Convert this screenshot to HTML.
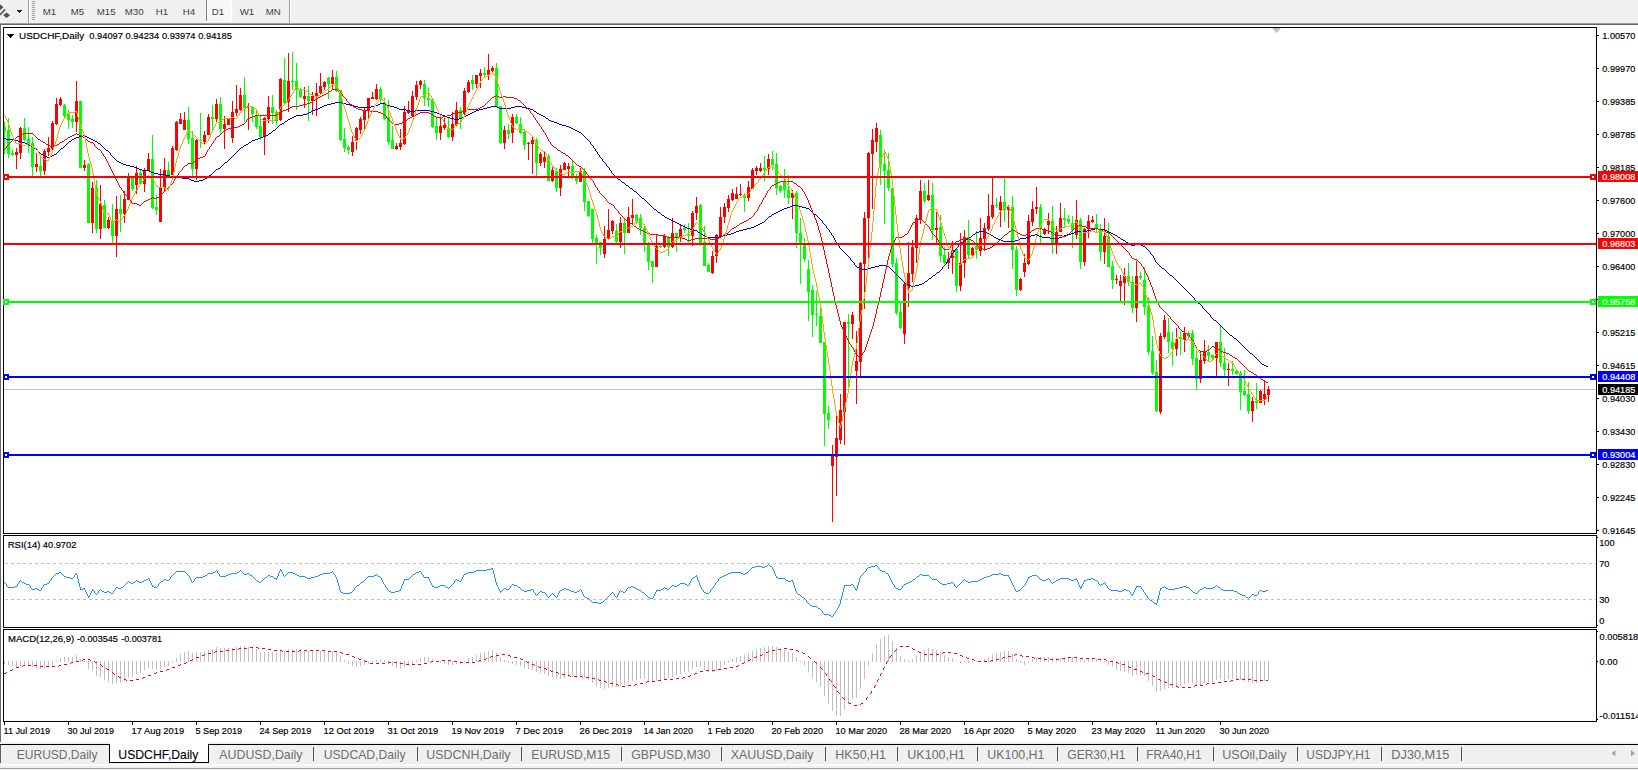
<!DOCTYPE html><html><head><meta charset="utf-8"><title>USDCHF,Daily</title>
<style>html,body{margin:0;padding:0;background:#fff;overflow:hidden}body{width:1638px;height:770px;position:relative;font-family:"Liberation Sans",sans-serif}svg{position:absolute;left:0;top:0;display:block}text{font-family:"Liberation Sans",sans-serif}</style></head><body>
<svg width="1638" height="770" viewBox="0 0 1638 770" shape-rendering="crispEdges">
<rect x="0" y="0" width="1638" height="770" fill="#fff"/>
<rect x="0" y="0" width="1638" height="23" fill="#f0f0f0"/>
<rect x="0" y="23" width="1638" height="1" fill="#a0a0a0"/>
<rect x="0" y="24" width="1638" height="1" fill="#646464"/>
<rect x="28" y="0" width="1" height="23" fill="#a0a0a0"/>
<rect x="29" y="0" width="1" height="23" fill="#ffffff"/>
<rect x="32" y="1" width="3" height="1" fill="#a0a0a0"/>
<rect x="32" y="3" width="3" height="1" fill="#a0a0a0"/>
<rect x="32" y="5" width="3" height="1" fill="#a0a0a0"/>
<rect x="32" y="7" width="3" height="1" fill="#a0a0a0"/>
<rect x="32" y="9" width="3" height="1" fill="#a0a0a0"/>
<rect x="32" y="11" width="3" height="1" fill="#a0a0a0"/>
<rect x="32" y="13" width="3" height="1" fill="#a0a0a0"/>
<rect x="32" y="15" width="3" height="1" fill="#a0a0a0"/>
<rect x="32" y="17" width="3" height="1" fill="#a0a0a0"/>
<rect x="32" y="19" width="3" height="1" fill="#a0a0a0"/>
<defs><pattern id="chk" width="2" height="2" patternUnits="userSpaceOnUse"><rect width="2" height="2" fill="#f0f0f0"/><rect width="1" height="1" fill="#fff"/><rect x="1" y="1" width="1" height="1" fill="#fff"/></pattern></defs>
<rect x="207" y="0" width="24" height="21" fill="url(#chk)"/>
<rect x="206" y="0" width="1" height="21" fill="#808080"/>
<rect x="231" y="0" width="1" height="22" fill="#ffffff"/>
<rect x="206" y="21" width="26" height="1" fill="#ffffff"/>
<rect x="289" y="0" width="1" height="23" fill="#a0a0a0"/>
<rect x="290" y="0" width="1" height="23" fill="#ffffff"/>
<g shape-rendering="geometricPrecision"><path d="M-2.5,7.3 L0.5,4.6 L3.4,7.3 L0.5,10 Z" fill="#505050"/><path d="M-0.5,14.2 L4.6,8.8 L5.7,9.9 L0.6,15.4 Z" fill="#505050"/><path d="M3.1,15.2 L6.6,12.4 L10.1,15.2 L6.6,18 Z" fill="#505050"/></g>
<rect x="17" y="10" width="5" height="1" fill="#202020"/>
<rect x="18" y="11" width="3" height="1" fill="#202020"/>
<rect x="19" y="12" width="1" height="1" fill="#202020"/>
<text transform="translate(42.7,14.5) scale(1.0000,1)" font-size="9.7" fill="#3c3c3c" stroke="#3c3c3c" stroke-width="0" text-anchor="start">M1</text>
<text transform="translate(70.7,14.5) scale(1.0000,1)" font-size="9.7" fill="#3c3c3c" stroke="#3c3c3c" stroke-width="0" text-anchor="start">M5</text>
<text transform="translate(96.7,14.5) scale(1.0000,1)" font-size="9.7" fill="#3c3c3c" stroke="#3c3c3c" stroke-width="0" text-anchor="start">M15</text>
<text transform="translate(124.7,14.5) scale(1.0000,1)" font-size="9.7" fill="#3c3c3c" stroke="#3c3c3c" stroke-width="0" text-anchor="start">M30</text>
<text transform="translate(155.7,14.5) scale(1.0000,1)" font-size="9.7" fill="#3c3c3c" stroke="#3c3c3c" stroke-width="0" text-anchor="start">H1</text>
<text transform="translate(182.7,14.5) scale(1.0000,1)" font-size="9.7" fill="#3c3c3c" stroke="#3c3c3c" stroke-width="0" text-anchor="start">H4</text>
<text transform="translate(211.7,14.5) scale(1.0000,1)" font-size="9.7" fill="#3c3c3c" stroke="#3c3c3c" stroke-width="0" text-anchor="start">D1</text>
<text transform="translate(239.7,14.5) scale(1.0000,1)" font-size="9.7" fill="#3c3c3c" stroke="#3c3c3c" stroke-width="0" text-anchor="start">W1</text>
<text transform="translate(265.7,14.5) scale(1.0000,1)" font-size="9.7" fill="#3c3c3c" stroke="#3c3c3c" stroke-width="0" text-anchor="start">MN</text>
<rect x="0" y="25" width="1" height="717" fill="#696969"/>
<rect x="3" y="27" width="1594" height="1" fill="#000"/>
<rect x="3" y="533" width="1594" height="1" fill="#000"/>
<rect x="3" y="27" width="1" height="507" fill="#000"/>
<rect x="1596" y="27" width="1" height="507" fill="#000"/>
<rect x="3" y="535" width="1594" height="1" fill="#000"/>
<rect x="3" y="627" width="1594" height="1" fill="#000"/>
<rect x="3" y="535" width="1" height="93" fill="#000"/>
<rect x="1596" y="535" width="1" height="93" fill="#000"/>
<rect x="3" y="629" width="1594" height="1" fill="#000"/>
<rect x="3" y="721" width="1594" height="1" fill="#000"/>
<rect x="3" y="629" width="1" height="93" fill="#000"/>
<rect x="1596" y="629" width="1" height="93" fill="#000"/>
<rect x="1597" y="35" width="2" height="1" fill="#000"/>
<text transform="translate(1602.3,38.7) scale(0.9364,1)" font-size="9.75" fill="#000" stroke="#000" stroke-width="0.18" text-anchor="start">1.00570</text>
<rect x="1597" y="68" width="2" height="1" fill="#000"/>
<text transform="translate(1602.3,71.7) scale(0.9364,1)" font-size="9.75" fill="#000" stroke="#000" stroke-width="0.18" text-anchor="start">0.99970</text>
<rect x="1597" y="101" width="2" height="1" fill="#000"/>
<text transform="translate(1602.3,104.7) scale(0.9364,1)" font-size="9.75" fill="#000" stroke="#000" stroke-width="0.18" text-anchor="start">0.99385</text>
<rect x="1597" y="134" width="2" height="1" fill="#000"/>
<text transform="translate(1602.3,137.7) scale(0.9364,1)" font-size="9.75" fill="#000" stroke="#000" stroke-width="0.18" text-anchor="start">0.98785</text>
<rect x="1597" y="167" width="2" height="1" fill="#000"/>
<text transform="translate(1602.3,170.7) scale(0.9364,1)" font-size="9.75" fill="#000" stroke="#000" stroke-width="0.18" text-anchor="start">0.98185</text>
<rect x="1597" y="200" width="2" height="1" fill="#000"/>
<text transform="translate(1602.3,203.7) scale(0.9364,1)" font-size="9.75" fill="#000" stroke="#000" stroke-width="0.18" text-anchor="start">0.97600</text>
<rect x="1597" y="233" width="2" height="1" fill="#000"/>
<text transform="translate(1602.3,236.7) scale(0.9364,1)" font-size="9.75" fill="#000" stroke="#000" stroke-width="0.18" text-anchor="start">0.97000</text>
<rect x="1597" y="266" width="2" height="1" fill="#000"/>
<text transform="translate(1602.3,269.7) scale(0.9364,1)" font-size="9.75" fill="#000" stroke="#000" stroke-width="0.18" text-anchor="start">0.96400</text>
<rect x="1597" y="299" width="2" height="1" fill="#000"/>
<text transform="translate(1602.3,302.7) scale(0.9364,1)" font-size="9.75" fill="#000" stroke="#000" stroke-width="0.18" text-anchor="start">0.95815</text>
<rect x="1597" y="332" width="2" height="1" fill="#000"/>
<text transform="translate(1602.3,335.7) scale(0.9364,1)" font-size="9.75" fill="#000" stroke="#000" stroke-width="0.18" text-anchor="start">0.95215</text>
<rect x="1597" y="365" width="2" height="1" fill="#000"/>
<text transform="translate(1602.3,368.7) scale(0.9364,1)" font-size="9.75" fill="#000" stroke="#000" stroke-width="0.18" text-anchor="start">0.94615</text>
<rect x="1597" y="398" width="2" height="1" fill="#000"/>
<text transform="translate(1602.3,401.7) scale(0.9364,1)" font-size="9.75" fill="#000" stroke="#000" stroke-width="0.18" text-anchor="start">0.94030</text>
<rect x="1597" y="431" width="2" height="1" fill="#000"/>
<text transform="translate(1602.3,434.7) scale(0.9364,1)" font-size="9.75" fill="#000" stroke="#000" stroke-width="0.18" text-anchor="start">0.93430</text>
<rect x="1597" y="464" width="2" height="1" fill="#000"/>
<text transform="translate(1602.3,467.7) scale(0.9364,1)" font-size="9.75" fill="#000" stroke="#000" stroke-width="0.18" text-anchor="start">0.92830</text>
<rect x="1597" y="497" width="2" height="1" fill="#000"/>
<text transform="translate(1602.3,500.7) scale(0.9364,1)" font-size="9.75" fill="#000" stroke="#000" stroke-width="0.18" text-anchor="start">0.92245</text>
<rect x="1597" y="530" width="2" height="1" fill="#000"/>
<text transform="translate(1602.3,533.7) scale(0.9364,1)" font-size="9.75" fill="#000" stroke="#000" stroke-width="0.18" text-anchor="start">0.91645</text>
<text transform="translate(1599.2,545.6) scale(0.9500,1)" font-size="9.75" fill="#000" stroke="#000" stroke-width="0.18" text-anchor="start">100</text>
<text transform="translate(1599.2,566.6) scale(0.9500,1)" font-size="9.75" fill="#000" stroke="#000" stroke-width="0.18" text-anchor="start">70</text>
<text transform="translate(1599.2,602.6) scale(0.9500,1)" font-size="9.75" fill="#000" stroke="#000" stroke-width="0.18" text-anchor="start">30</text>
<text transform="translate(1599.2,623.6) scale(0.9500,1)" font-size="9.75" fill="#000" stroke="#000" stroke-width="0.18" text-anchor="start">0</text>
<rect x="1597" y="537" width="1" height="1" fill="#000"/>
<rect x="1597" y="625" width="1" height="1" fill="#000"/>
<text transform="translate(1599.6,639.6) scale(0.9500,1)" font-size="9.75" fill="#000" stroke="#000" stroke-width="0.18" text-anchor="start">0.005818</text>
<text transform="translate(1599.6,664.6) scale(0.9500,1)" font-size="9.75" fill="#000" stroke="#000" stroke-width="0.18" text-anchor="start">0.00</text>
<text transform="translate(1599.6,718.6) scale(0.9500,1)" font-size="9.75" fill="#000" stroke="#000" stroke-width="0.18" text-anchor="start">-0.011514</text>
<rect x="1597" y="661" width="1" height="1" fill="#000"/>
<rect x="1597" y="631" width="1" height="1" fill="#000"/>
<rect x="1597" y="719" width="1" height="1" fill="#000"/>
<rect x="4" y="722" width="1" height="3" fill="#000"/>
<text transform="translate(3.5,734) scale(0.9398,1)" font-size="9.75" fill="#000" stroke="#000" stroke-width="0.18" text-anchor="start">11 Jul 2019</text>
<rect x="68" y="722" width="1" height="3" fill="#000"/>
<text transform="translate(67.5,734) scale(0.9264,1)" font-size="9.75" fill="#000" stroke="#000" stroke-width="0.18" text-anchor="start">30 Jul 2019</text>
<rect x="132" y="722" width="1" height="3" fill="#000"/>
<text transform="translate(131.5,734) scale(0.9624,1)" font-size="9.75" fill="#000" stroke="#000" stroke-width="0.18" text-anchor="start">17 Aug 2019</text>
<rect x="196" y="722" width="1" height="3" fill="#000"/>
<text transform="translate(195.5,734) scale(0.9363,1)" font-size="9.75" fill="#000" stroke="#000" stroke-width="0.18" text-anchor="start">5 Sep 2019</text>
<rect x="260" y="722" width="1" height="3" fill="#000"/>
<text transform="translate(259.5,734) scale(0.9350,1)" font-size="9.75" fill="#000" stroke="#000" stroke-width="0.18" text-anchor="start">24 Sep 2019</text>
<rect x="324" y="722" width="1" height="3" fill="#000"/>
<text transform="translate(323.5,734) scale(0.9545,1)" font-size="9.75" fill="#000" stroke="#000" stroke-width="0.18" text-anchor="start">12 Oct 2019</text>
<rect x="388" y="722" width="1" height="3" fill="#000"/>
<text transform="translate(387.5,734) scale(0.9545,1)" font-size="9.75" fill="#000" stroke="#000" stroke-width="0.18" text-anchor="start">31 Oct 2019</text>
<rect x="452" y="722" width="1" height="3" fill="#000"/>
<text transform="translate(451.5,734) scale(0.9532,1)" font-size="9.75" fill="#000" stroke="#000" stroke-width="0.18" text-anchor="start">19 Nov 2019</text>
<rect x="516" y="722" width="1" height="3" fill="#000"/>
<text transform="translate(515.5,734) scale(0.9566,1)" font-size="9.75" fill="#000" stroke="#000" stroke-width="0.18" text-anchor="start">7 Dec 2019</text>
<rect x="580" y="722" width="1" height="3" fill="#000"/>
<text transform="translate(579.5,734) scale(0.9532,1)" font-size="9.75" fill="#000" stroke="#000" stroke-width="0.18" text-anchor="start">26 Dec 2019</text>
<rect x="644" y="722" width="1" height="3" fill="#000"/>
<text transform="translate(643.5,734) scale(0.9261,1)" font-size="9.75" fill="#000" stroke="#000" stroke-width="0.18" text-anchor="start">14 Jan 2020</text>
<rect x="708" y="722" width="1" height="3" fill="#000"/>
<text transform="translate(707.5,734) scale(0.9468,1)" font-size="9.75" fill="#000" stroke="#000" stroke-width="0.18" text-anchor="start">1 Feb 2020</text>
<rect x="772" y="722" width="1" height="3" fill="#000"/>
<text transform="translate(771.5,734) scale(0.9443,1)" font-size="9.75" fill="#000" stroke="#000" stroke-width="0.18" text-anchor="start">20 Feb 2020</text>
<rect x="836" y="722" width="1" height="3" fill="#000"/>
<text transform="translate(835.5,734) scale(0.9445,1)" font-size="9.75" fill="#000" stroke="#000" stroke-width="0.18" text-anchor="start">10 Mar 2020</text>
<rect x="900" y="722" width="1" height="3" fill="#000"/>
<text transform="translate(899.5,734) scale(0.9445,1)" font-size="9.75" fill="#000" stroke="#000" stroke-width="0.18" text-anchor="start">28 Mar 2020</text>
<rect x="964" y="722" width="1" height="3" fill="#000"/>
<text transform="translate(963.5,734) scale(0.9642,1)" font-size="9.75" fill="#000" stroke="#000" stroke-width="0.18" text-anchor="start">16 Apr 2020</text>
<rect x="1028" y="722" width="1" height="3" fill="#000"/>
<text transform="translate(1027.5,734) scale(0.9559,1)" font-size="9.75" fill="#000" stroke="#000" stroke-width="0.18" text-anchor="start">5 May 2020</text>
<rect x="1092" y="722" width="1" height="3" fill="#000"/>
<text transform="translate(1091.5,734) scale(0.9527,1)" font-size="9.75" fill="#000" stroke="#000" stroke-width="0.18" text-anchor="start">23 May 2020</text>
<rect x="1156" y="722" width="1" height="3" fill="#000"/>
<text transform="translate(1155.5,734) scale(0.9387,1)" font-size="9.75" fill="#000" stroke="#000" stroke-width="0.18" text-anchor="start">11 Jun 2020</text>
<rect x="1220" y="722" width="1" height="3" fill="#000"/>
<text transform="translate(1219.5,734) scale(0.9261,1)" font-size="9.75" fill="#000" stroke="#000" stroke-width="0.18" text-anchor="start">30 Jun 2020</text>
<defs><clipPath id="cm"><rect x="4" y="28" width="1592" height="505"/></clipPath><clipPath id="cr"><rect x="4" y="536" width="1592" height="91"/></clipPath><clipPath id="cd"><rect x="4" y="630" width="1592" height="91"/></clipPath></defs>
<rect x="7" y="34" width="7" height="1" fill="#000"/>
<rect x="8" y="35" width="5" height="1" fill="#000"/>
<rect x="9" y="36" width="3" height="1" fill="#000"/>
<rect x="10" y="37" width="1" height="1" fill="#000"/>
<text transform="translate(19.0,39) scale(1.0216,1)" font-size="9.75" fill="#000" stroke="#000" stroke-width="0.18" text-anchor="start">USDCHF,Daily</text>
<text transform="translate(89.3,39) scale(0.9563,1)" font-size="9.75" fill="#000" stroke="#000" stroke-width="0.18" text-anchor="start">0.94097</text>
<text transform="translate(125.6,39) scale(0.9563,1)" font-size="9.75" fill="#000" stroke="#000" stroke-width="0.18" text-anchor="start">0.94234</text>
<text transform="translate(161.89999999999998,39) scale(0.9563,1)" font-size="9.75" fill="#000" stroke="#000" stroke-width="0.18" text-anchor="start">0.93974</text>
<text transform="translate(198.2,39) scale(0.9563,1)" font-size="9.75" fill="#000" stroke="#000" stroke-width="0.18" text-anchor="start">0.94185</text>
<text transform="translate(7.8,548) scale(0.9705,1)" font-size="9.75" fill="#000" stroke="#000" stroke-width="0.18" text-anchor="start">RSI(14)</text>
<text transform="translate(42.8,548) scale(0.9535,1)" font-size="9.75" fill="#000" stroke="#000" stroke-width="0.18" text-anchor="start">40.9702</text>
<text transform="translate(8.0,642) scale(0.9775,1)" font-size="9.75" fill="#000" stroke="#000" stroke-width="0.18" text-anchor="start">MACD(12,26,9)</text>
<text transform="translate(77.0,642) scale(0.9292,1)" font-size="9.75" fill="#000" stroke="#000" stroke-width="0.18" text-anchor="start">-0.003545</text>
<text transform="translate(121.2,642) scale(0.9292,1)" font-size="9.75" fill="#000" stroke="#000" stroke-width="0.18" text-anchor="start">-0.003781</text>
<path d="M1272,28 L1281,28 L1276.5,33 Z" fill="#c0c0c0" shape-rendering="geometricPrecision"/>
<g clip-path="url(#cm)">
<rect x="4" y="389" width="1592" height="1" fill="#c0c0c0"/>
<rect x="4" y="122" width="1" height="32" fill="#00ff00"/>
<rect x="3" y="127" width="3" height="4" fill="#00ff00"/>
<rect x="8" y="118" width="1" height="40" fill="#00ff00"/>
<rect x="7" y="130" width="3" height="24" fill="#00ff00"/>
<rect x="12" y="150" width="1" height="6" fill="#00ff00"/>
<rect x="11" y="153" width="3" height="2" fill="#00ff00"/>
<rect x="16" y="148" width="1" height="21" fill="#ff0000"/>
<rect x="15" y="152" width="3" height="3" fill="#ff0000"/>
<rect x="20" y="127" width="1" height="32" fill="#ff0000"/>
<rect x="19" y="128" width="3" height="25" fill="#ff0000"/>
<rect x="24" y="118" width="1" height="23" fill="#00ff00"/>
<rect x="23" y="128" width="3" height="12" fill="#00ff00"/>
<rect x="28" y="127" width="1" height="26" fill="#00ff00"/>
<rect x="27" y="139" width="3" height="5" fill="#00ff00"/>
<rect x="32" y="137" width="1" height="39" fill="#00ff00"/>
<rect x="31" y="143" width="3" height="24" fill="#00ff00"/>
<rect x="36" y="153" width="1" height="19" fill="#ff0000"/>
<rect x="35" y="164" width="3" height="3" fill="#ff0000"/>
<rect x="40" y="157" width="1" height="19" fill="#00ff00"/>
<rect x="39" y="166" width="3" height="5" fill="#00ff00"/>
<rect x="44" y="149" width="1" height="26" fill="#ff0000"/>
<rect x="43" y="151" width="3" height="20" fill="#ff0000"/>
<rect x="48" y="137" width="1" height="19" fill="#ff0000"/>
<rect x="47" y="148" width="3" height="4" fill="#ff0000"/>
<rect x="52" y="121" width="1" height="29" fill="#ff0000"/>
<rect x="51" y="123" width="3" height="26" fill="#ff0000"/>
<rect x="56" y="98" width="1" height="27" fill="#ff0000"/>
<rect x="55" y="104" width="3" height="20" fill="#ff0000"/>
<rect x="60" y="97" width="1" height="9" fill="#ff0000"/>
<rect x="59" y="99" width="3" height="6" fill="#ff0000"/>
<rect x="64" y="104" width="1" height="14" fill="#00ff00"/>
<rect x="63" y="105" width="3" height="11" fill="#00ff00"/>
<rect x="68" y="110" width="1" height="19" fill="#00ff00"/>
<rect x="67" y="114" width="3" height="6" fill="#00ff00"/>
<rect x="72" y="115" width="1" height="13" fill="#00ff00"/>
<rect x="71" y="119" width="3" height="3" fill="#00ff00"/>
<rect x="76" y="81" width="1" height="51" fill="#ff0000"/>
<rect x="75" y="101" width="3" height="21" fill="#ff0000"/>
<rect x="80" y="101" width="1" height="67" fill="#00ff00"/>
<rect x="79" y="101" width="3" height="67" fill="#00ff00"/>
<rect x="84" y="160" width="1" height="11" fill="#ff0000"/>
<rect x="83" y="165" width="3" height="3" fill="#ff0000"/>
<rect x="88" y="163" width="1" height="60" fill="#00ff00"/>
<rect x="87" y="164" width="3" height="59" fill="#00ff00"/>
<rect x="92" y="182" width="1" height="51" fill="#ff0000"/>
<rect x="91" y="188" width="3" height="35" fill="#ff0000"/>
<rect x="96" y="180" width="1" height="53" fill="#00ff00"/>
<rect x="95" y="188" width="3" height="41" fill="#00ff00"/>
<rect x="100" y="185" width="1" height="54" fill="#ff0000"/>
<rect x="99" y="204" width="3" height="25" fill="#ff0000"/>
<rect x="104" y="200" width="1" height="28" fill="#00ff00"/>
<rect x="103" y="205" width="3" height="23" fill="#00ff00"/>
<rect x="108" y="217" width="1" height="12" fill="#ff0000"/>
<rect x="107" y="220" width="3" height="8" fill="#ff0000"/>
<rect x="112" y="204" width="1" height="39" fill="#00ff00"/>
<rect x="111" y="221" width="3" height="15" fill="#00ff00"/>
<rect x="116" y="196" width="1" height="61" fill="#ff0000"/>
<rect x="115" y="209" width="3" height="27" fill="#ff0000"/>
<rect x="120" y="195" width="1" height="37" fill="#00ff00"/>
<rect x="119" y="209" width="3" height="5" fill="#00ff00"/>
<rect x="124" y="191" width="1" height="32" fill="#ff0000"/>
<rect x="123" y="199" width="3" height="15" fill="#ff0000"/>
<rect x="128" y="173" width="1" height="27" fill="#ff0000"/>
<rect x="127" y="177" width="3" height="23" fill="#ff0000"/>
<rect x="132" y="177" width="1" height="14" fill="#00ff00"/>
<rect x="131" y="178" width="3" height="11" fill="#00ff00"/>
<rect x="136" y="166" width="1" height="28" fill="#ff0000"/>
<rect x="135" y="173" width="3" height="12" fill="#ff0000"/>
<rect x="140" y="170" width="1" height="15" fill="#00ff00"/>
<rect x="139" y="173" width="3" height="11" fill="#00ff00"/>
<rect x="144" y="168" width="1" height="24" fill="#ff0000"/>
<rect x="143" y="170" width="3" height="14" fill="#ff0000"/>
<rect x="148" y="153" width="1" height="18" fill="#ff0000"/>
<rect x="147" y="159" width="3" height="12" fill="#ff0000"/>
<rect x="152" y="135" width="1" height="74" fill="#00ff00"/>
<rect x="151" y="159" width="3" height="49" fill="#00ff00"/>
<rect x="156" y="195" width="1" height="20" fill="#00ff00"/>
<rect x="155" y="207" width="3" height="3" fill="#00ff00"/>
<rect x="160" y="169" width="1" height="53" fill="#ff0000"/>
<rect x="159" y="188" width="3" height="34" fill="#ff0000"/>
<rect x="164" y="158" width="1" height="34" fill="#ff0000"/>
<rect x="163" y="170" width="3" height="18" fill="#ff0000"/>
<rect x="168" y="162" width="1" height="13" fill="#00ff00"/>
<rect x="167" y="170" width="3" height="5" fill="#00ff00"/>
<rect x="172" y="146" width="1" height="29" fill="#ff0000"/>
<rect x="171" y="148" width="3" height="27" fill="#ff0000"/>
<rect x="176" y="121" width="1" height="30" fill="#ff0000"/>
<rect x="175" y="122" width="3" height="28" fill="#ff0000"/>
<rect x="180" y="113" width="1" height="11" fill="#ff0000"/>
<rect x="179" y="119" width="3" height="5" fill="#ff0000"/>
<rect x="184" y="112" width="1" height="18" fill="#ff0000"/>
<rect x="183" y="120" width="3" height="10" fill="#ff0000"/>
<rect x="188" y="107" width="1" height="37" fill="#00ff00"/>
<rect x="187" y="120" width="3" height="19" fill="#00ff00"/>
<rect x="192" y="131" width="1" height="45" fill="#00ff00"/>
<rect x="191" y="138" width="3" height="31" fill="#00ff00"/>
<rect x="196" y="139" width="1" height="41" fill="#ff0000"/>
<rect x="195" y="140" width="3" height="29" fill="#ff0000"/>
<rect x="200" y="113" width="1" height="35" fill="#00ff00"/>
<rect x="199" y="140" width="3" height="1" fill="#00ff00"/>
<rect x="204" y="131" width="1" height="14" fill="#ff0000"/>
<rect x="203" y="135" width="3" height="7" fill="#ff0000"/>
<rect x="208" y="114" width="1" height="21" fill="#ff0000"/>
<rect x="207" y="117" width="3" height="18" fill="#ff0000"/>
<rect x="212" y="105" width="1" height="25" fill="#00ff00"/>
<rect x="211" y="117" width="3" height="2" fill="#00ff00"/>
<rect x="216" y="99" width="1" height="23" fill="#ff0000"/>
<rect x="215" y="104" width="3" height="15" fill="#ff0000"/>
<rect x="220" y="97" width="1" height="37" fill="#00ff00"/>
<rect x="219" y="104" width="3" height="25" fill="#00ff00"/>
<rect x="224" y="116" width="1" height="33" fill="#ff0000"/>
<rect x="223" y="124" width="3" height="5" fill="#ff0000"/>
<rect x="228" y="118" width="1" height="7" fill="#ff0000"/>
<rect x="227" y="118" width="3" height="7" fill="#ff0000"/>
<rect x="232" y="101" width="1" height="42" fill="#ff0000"/>
<rect x="231" y="112" width="3" height="26" fill="#ff0000"/>
<rect x="236" y="85" width="1" height="31" fill="#ff0000"/>
<rect x="235" y="109" width="3" height="4" fill="#ff0000"/>
<rect x="240" y="88" width="1" height="23" fill="#ff0000"/>
<rect x="239" y="95" width="3" height="15" fill="#ff0000"/>
<rect x="244" y="77" width="1" height="45" fill="#00ff00"/>
<rect x="243" y="95" width="3" height="13" fill="#00ff00"/>
<rect x="248" y="103" width="1" height="27" fill="#ff0000"/>
<rect x="247" y="106" width="3" height="1" fill="#ff0000"/>
<rect x="252" y="106" width="1" height="16" fill="#00ff00"/>
<rect x="251" y="107" width="3" height="7" fill="#00ff00"/>
<rect x="256" y="109" width="1" height="20" fill="#00ff00"/>
<rect x="255" y="115" width="3" height="12" fill="#00ff00"/>
<rect x="260" y="115" width="1" height="25" fill="#00ff00"/>
<rect x="259" y="126" width="3" height="11" fill="#00ff00"/>
<rect x="264" y="117" width="1" height="38" fill="#ff0000"/>
<rect x="263" y="118" width="3" height="19" fill="#ff0000"/>
<rect x="268" y="96" width="1" height="27" fill="#ff0000"/>
<rect x="267" y="107" width="3" height="12" fill="#ff0000"/>
<rect x="272" y="95" width="1" height="29" fill="#00ff00"/>
<rect x="271" y="107" width="3" height="6" fill="#00ff00"/>
<rect x="276" y="110" width="1" height="15" fill="#00ff00"/>
<rect x="275" y="112" width="3" height="9" fill="#00ff00"/>
<rect x="280" y="78" width="1" height="43" fill="#ff0000"/>
<rect x="279" y="79" width="3" height="41" fill="#ff0000"/>
<rect x="284" y="58" width="1" height="46" fill="#00ff00"/>
<rect x="283" y="80" width="3" height="23" fill="#00ff00"/>
<rect x="288" y="53" width="1" height="59" fill="#ff0000"/>
<rect x="287" y="81" width="3" height="21" fill="#ff0000"/>
<rect x="292" y="52" width="1" height="38" fill="#00ff00"/>
<rect x="291" y="81" width="3" height="1" fill="#00ff00"/>
<rect x="296" y="63" width="1" height="47" fill="#00ff00"/>
<rect x="295" y="81" width="3" height="9" fill="#00ff00"/>
<rect x="300" y="88" width="1" height="10" fill="#00ff00"/>
<rect x="299" y="89" width="3" height="8" fill="#00ff00"/>
<rect x="304" y="87" width="1" height="21" fill="#ff0000"/>
<rect x="303" y="96" width="3" height="3" fill="#ff0000"/>
<rect x="308" y="86" width="1" height="35" fill="#00ff00"/>
<rect x="307" y="96" width="3" height="5" fill="#00ff00"/>
<rect x="312" y="92" width="1" height="23" fill="#ff0000"/>
<rect x="311" y="96" width="3" height="5" fill="#ff0000"/>
<rect x="316" y="83" width="1" height="33" fill="#ff0000"/>
<rect x="315" y="93" width="3" height="3" fill="#ff0000"/>
<rect x="320" y="73" width="1" height="21" fill="#ff0000"/>
<rect x="319" y="86" width="3" height="7" fill="#ff0000"/>
<rect x="324" y="81" width="1" height="9" fill="#ff0000"/>
<rect x="323" y="82" width="3" height="5" fill="#ff0000"/>
<rect x="328" y="77" width="1" height="22" fill="#00ff00"/>
<rect x="327" y="78" width="3" height="6" fill="#00ff00"/>
<rect x="332" y="70" width="1" height="20" fill="#ff0000"/>
<rect x="331" y="77" width="3" height="7" fill="#ff0000"/>
<rect x="336" y="71" width="1" height="21" fill="#00ff00"/>
<rect x="335" y="77" width="3" height="14" fill="#00ff00"/>
<rect x="340" y="90" width="1" height="51" fill="#00ff00"/>
<rect x="339" y="90" width="3" height="50" fill="#00ff00"/>
<rect x="344" y="128" width="1" height="24" fill="#00ff00"/>
<rect x="343" y="139" width="3" height="9" fill="#00ff00"/>
<rect x="348" y="145" width="1" height="9" fill="#00ff00"/>
<rect x="347" y="147" width="3" height="3" fill="#00ff00"/>
<rect x="352" y="136" width="1" height="20" fill="#ff0000"/>
<rect x="351" y="142" width="3" height="10" fill="#ff0000"/>
<rect x="356" y="127" width="1" height="23" fill="#ff0000"/>
<rect x="355" y="128" width="3" height="13" fill="#ff0000"/>
<rect x="360" y="117" width="1" height="17" fill="#ff0000"/>
<rect x="359" y="119" width="3" height="11" fill="#ff0000"/>
<rect x="364" y="108" width="1" height="21" fill="#ff0000"/>
<rect x="363" y="110" width="3" height="10" fill="#ff0000"/>
<rect x="368" y="98" width="1" height="20" fill="#ff0000"/>
<rect x="367" y="98" width="3" height="12" fill="#ff0000"/>
<rect x="372" y="92" width="1" height="7" fill="#ff0000"/>
<rect x="371" y="97" width="3" height="2" fill="#ff0000"/>
<rect x="376" y="84" width="1" height="16" fill="#ff0000"/>
<rect x="375" y="89" width="3" height="10" fill="#ff0000"/>
<rect x="380" y="87" width="1" height="16" fill="#00ff00"/>
<rect x="379" y="89" width="3" height="10" fill="#00ff00"/>
<rect x="384" y="98" width="1" height="22" fill="#00ff00"/>
<rect x="383" y="102" width="3" height="17" fill="#00ff00"/>
<rect x="388" y="100" width="1" height="45" fill="#00ff00"/>
<rect x="387" y="117" width="3" height="25" fill="#00ff00"/>
<rect x="392" y="126" width="1" height="23" fill="#00ff00"/>
<rect x="391" y="140" width="3" height="9" fill="#00ff00"/>
<rect x="396" y="143" width="1" height="7" fill="#ff0000"/>
<rect x="395" y="146" width="3" height="3" fill="#ff0000"/>
<rect x="400" y="129" width="1" height="21" fill="#ff0000"/>
<rect x="399" y="143" width="3" height="4" fill="#ff0000"/>
<rect x="404" y="106" width="1" height="39" fill="#ff0000"/>
<rect x="403" y="112" width="3" height="32" fill="#ff0000"/>
<rect x="408" y="101" width="1" height="13" fill="#ff0000"/>
<rect x="407" y="110" width="3" height="3" fill="#ff0000"/>
<rect x="412" y="91" width="1" height="25" fill="#ff0000"/>
<rect x="411" y="96" width="3" height="20" fill="#ff0000"/>
<rect x="416" y="81" width="1" height="19" fill="#ff0000"/>
<rect x="415" y="85" width="3" height="12" fill="#ff0000"/>
<rect x="420" y="80" width="1" height="9" fill="#ff0000"/>
<rect x="419" y="81" width="3" height="4" fill="#ff0000"/>
<rect x="424" y="80" width="1" height="26" fill="#00ff00"/>
<rect x="423" y="84" width="3" height="14" fill="#00ff00"/>
<rect x="428" y="87" width="1" height="20" fill="#00ff00"/>
<rect x="427" y="98" width="3" height="2" fill="#00ff00"/>
<rect x="432" y="98" width="1" height="30" fill="#00ff00"/>
<rect x="431" y="99" width="3" height="28" fill="#00ff00"/>
<rect x="436" y="118" width="1" height="22" fill="#00ff00"/>
<rect x="435" y="126" width="3" height="7" fill="#00ff00"/>
<rect x="440" y="118" width="1" height="22" fill="#ff0000"/>
<rect x="439" y="126" width="3" height="7" fill="#ff0000"/>
<rect x="444" y="118" width="1" height="12" fill="#ff0000"/>
<rect x="443" y="125" width="3" height="3" fill="#ff0000"/>
<rect x="448" y="118" width="1" height="20" fill="#00ff00"/>
<rect x="447" y="128" width="3" height="9" fill="#00ff00"/>
<rect x="452" y="112" width="1" height="29" fill="#ff0000"/>
<rect x="451" y="124" width="3" height="13" fill="#ff0000"/>
<rect x="456" y="102" width="1" height="24" fill="#ff0000"/>
<rect x="455" y="110" width="3" height="15" fill="#ff0000"/>
<rect x="460" y="107" width="1" height="22" fill="#00ff00"/>
<rect x="459" y="110" width="3" height="8" fill="#00ff00"/>
<rect x="464" y="88" width="1" height="27" fill="#ff0000"/>
<rect x="463" y="91" width="3" height="23" fill="#ff0000"/>
<rect x="468" y="80" width="1" height="13" fill="#ff0000"/>
<rect x="467" y="82" width="3" height="10" fill="#ff0000"/>
<rect x="472" y="75" width="1" height="15" fill="#00ff00"/>
<rect x="471" y="80" width="3" height="4" fill="#00ff00"/>
<rect x="476" y="75" width="1" height="13" fill="#ff0000"/>
<rect x="475" y="75" width="3" height="9" fill="#ff0000"/>
<rect x="480" y="69" width="1" height="19" fill="#ff0000"/>
<rect x="479" y="73" width="3" height="3" fill="#ff0000"/>
<rect x="484" y="67" width="1" height="10" fill="#00ff00"/>
<rect x="483" y="73" width="3" height="2" fill="#00ff00"/>
<rect x="488" y="54" width="1" height="26" fill="#ff0000"/>
<rect x="487" y="70" width="3" height="5" fill="#ff0000"/>
<rect x="492" y="66" width="1" height="6" fill="#ff0000"/>
<rect x="491" y="68" width="3" height="3" fill="#ff0000"/>
<rect x="496" y="63" width="1" height="44" fill="#00ff00"/>
<rect x="495" y="68" width="3" height="39" fill="#00ff00"/>
<rect x="500" y="106" width="1" height="38" fill="#00ff00"/>
<rect x="499" y="106" width="3" height="37" fill="#00ff00"/>
<rect x="504" y="126" width="1" height="23" fill="#ff0000"/>
<rect x="503" y="130" width="3" height="13" fill="#ff0000"/>
<rect x="508" y="124" width="1" height="15" fill="#00ff00"/>
<rect x="507" y="130" width="3" height="4" fill="#00ff00"/>
<rect x="512" y="114" width="1" height="29" fill="#ff0000"/>
<rect x="511" y="117" width="3" height="16" fill="#ff0000"/>
<rect x="516" y="114" width="1" height="10" fill="#00ff00"/>
<rect x="515" y="117" width="3" height="6" fill="#00ff00"/>
<rect x="520" y="117" width="1" height="17" fill="#00ff00"/>
<rect x="519" y="124" width="3" height="9" fill="#00ff00"/>
<rect x="524" y="129" width="1" height="21" fill="#00ff00"/>
<rect x="523" y="132" width="3" height="13" fill="#00ff00"/>
<rect x="528" y="142" width="1" height="18" fill="#ff0000"/>
<rect x="527" y="143" width="3" height="1" fill="#ff0000"/>
<rect x="532" y="137" width="1" height="37" fill="#ff0000"/>
<rect x="531" y="140" width="3" height="4" fill="#ff0000"/>
<rect x="536" y="138" width="1" height="38" fill="#00ff00"/>
<rect x="535" y="140" width="3" height="23" fill="#00ff00"/>
<rect x="540" y="152" width="1" height="14" fill="#ff0000"/>
<rect x="539" y="154" width="3" height="9" fill="#ff0000"/>
<rect x="544" y="152" width="1" height="16" fill="#ff0000"/>
<rect x="543" y="157" width="3" height="5" fill="#ff0000"/>
<rect x="548" y="154" width="1" height="27" fill="#00ff00"/>
<rect x="547" y="156" width="3" height="25" fill="#00ff00"/>
<rect x="552" y="167" width="1" height="15" fill="#ff0000"/>
<rect x="551" y="170" width="3" height="11" fill="#ff0000"/>
<rect x="556" y="168" width="1" height="24" fill="#00ff00"/>
<rect x="555" y="171" width="3" height="17" fill="#00ff00"/>
<rect x="560" y="165" width="1" height="31" fill="#ff0000"/>
<rect x="559" y="169" width="3" height="19" fill="#ff0000"/>
<rect x="564" y="162" width="1" height="8" fill="#ff0000"/>
<rect x="563" y="163" width="3" height="7" fill="#ff0000"/>
<rect x="568" y="163" width="1" height="13" fill="#ff0000"/>
<rect x="567" y="166" width="3" height="3" fill="#ff0000"/>
<rect x="572" y="161" width="1" height="18" fill="#00ff00"/>
<rect x="571" y="166" width="3" height="10" fill="#00ff00"/>
<rect x="576" y="174" width="1" height="10" fill="#00ff00"/>
<rect x="575" y="178" width="3" height="3" fill="#00ff00"/>
<rect x="580" y="168" width="1" height="14" fill="#ff0000"/>
<rect x="579" y="171" width="3" height="11" fill="#ff0000"/>
<rect x="584" y="168" width="1" height="43" fill="#00ff00"/>
<rect x="583" y="171" width="3" height="31" fill="#00ff00"/>
<rect x="588" y="201" width="1" height="16" fill="#00ff00"/>
<rect x="587" y="201" width="3" height="15" fill="#00ff00"/>
<rect x="592" y="209" width="1" height="34" fill="#00ff00"/>
<rect x="591" y="209" width="3" height="30" fill="#00ff00"/>
<rect x="596" y="235" width="1" height="29" fill="#00ff00"/>
<rect x="595" y="238" width="3" height="5" fill="#00ff00"/>
<rect x="600" y="242" width="1" height="13" fill="#00ff00"/>
<rect x="599" y="242" width="3" height="6" fill="#00ff00"/>
<rect x="604" y="226" width="1" height="32" fill="#ff0000"/>
<rect x="603" y="239" width="3" height="15" fill="#ff0000"/>
<rect x="608" y="209" width="1" height="31" fill="#ff0000"/>
<rect x="607" y="230" width="3" height="8" fill="#ff0000"/>
<rect x="612" y="220" width="1" height="14" fill="#ff0000"/>
<rect x="611" y="221" width="3" height="10" fill="#ff0000"/>
<rect x="616" y="224" width="1" height="19" fill="#00ff00"/>
<rect x="615" y="231" width="3" height="11" fill="#00ff00"/>
<rect x="620" y="217" width="1" height="31" fill="#ff0000"/>
<rect x="619" y="223" width="3" height="19" fill="#ff0000"/>
<rect x="624" y="218" width="1" height="36" fill="#00ff00"/>
<rect x="623" y="223" width="3" height="10" fill="#00ff00"/>
<rect x="628" y="207" width="1" height="26" fill="#ff0000"/>
<rect x="627" y="217" width="3" height="16" fill="#ff0000"/>
<rect x="632" y="199" width="1" height="25" fill="#ff0000"/>
<rect x="631" y="215" width="3" height="3" fill="#ff0000"/>
<rect x="636" y="214" width="1" height="10" fill="#00ff00"/>
<rect x="635" y="215" width="3" height="6" fill="#00ff00"/>
<rect x="640" y="214" width="1" height="21" fill="#00ff00"/>
<rect x="639" y="218" width="3" height="10" fill="#00ff00"/>
<rect x="644" y="225" width="1" height="27" fill="#00ff00"/>
<rect x="643" y="228" width="3" height="15" fill="#00ff00"/>
<rect x="648" y="242" width="1" height="28" fill="#00ff00"/>
<rect x="647" y="245" width="3" height="17" fill="#00ff00"/>
<rect x="652" y="261" width="1" height="22" fill="#00ff00"/>
<rect x="651" y="261" width="3" height="6" fill="#00ff00"/>
<rect x="656" y="235" width="1" height="32" fill="#ff0000"/>
<rect x="655" y="246" width="3" height="21" fill="#ff0000"/>
<rect x="660" y="245" width="1" height="3" fill="#00ff00"/>
<rect x="659" y="246" width="3" height="1" fill="#00ff00"/>
<rect x="664" y="234" width="1" height="14" fill="#ff0000"/>
<rect x="663" y="236" width="3" height="11" fill="#ff0000"/>
<rect x="668" y="236" width="1" height="20" fill="#00ff00"/>
<rect x="667" y="238" width="3" height="9" fill="#00ff00"/>
<rect x="672" y="218" width="1" height="30" fill="#ff0000"/>
<rect x="671" y="233" width="3" height="14" fill="#ff0000"/>
<rect x="676" y="233" width="1" height="19" fill="#00ff00"/>
<rect x="675" y="233" width="3" height="5" fill="#00ff00"/>
<rect x="680" y="225" width="1" height="17" fill="#ff0000"/>
<rect x="679" y="229" width="3" height="9" fill="#ff0000"/>
<rect x="684" y="224" width="1" height="9" fill="#00ff00"/>
<rect x="683" y="228" width="3" height="2" fill="#00ff00"/>
<rect x="688" y="223" width="1" height="20" fill="#00ff00"/>
<rect x="687" y="234" width="3" height="2" fill="#00ff00"/>
<rect x="692" y="211" width="1" height="35" fill="#ff0000"/>
<rect x="691" y="213" width="3" height="23" fill="#ff0000"/>
<rect x="696" y="197" width="1" height="23" fill="#ff0000"/>
<rect x="695" y="206" width="3" height="7" fill="#ff0000"/>
<rect x="700" y="204" width="1" height="42" fill="#00ff00"/>
<rect x="699" y="205" width="3" height="38" fill="#00ff00"/>
<rect x="704" y="226" width="1" height="40" fill="#00ff00"/>
<rect x="703" y="242" width="3" height="24" fill="#00ff00"/>
<rect x="708" y="263" width="1" height="9" fill="#00ff00"/>
<rect x="707" y="265" width="3" height="7" fill="#00ff00"/>
<rect x="712" y="251" width="1" height="23" fill="#ff0000"/>
<rect x="711" y="256" width="3" height="17" fill="#ff0000"/>
<rect x="716" y="234" width="1" height="29" fill="#ff0000"/>
<rect x="715" y="235" width="3" height="21" fill="#ff0000"/>
<rect x="720" y="207" width="1" height="29" fill="#ff0000"/>
<rect x="719" y="217" width="3" height="19" fill="#ff0000"/>
<rect x="724" y="203" width="1" height="20" fill="#ff0000"/>
<rect x="723" y="207" width="3" height="10" fill="#ff0000"/>
<rect x="728" y="195" width="1" height="17" fill="#ff0000"/>
<rect x="727" y="199" width="3" height="9" fill="#ff0000"/>
<rect x="732" y="189" width="1" height="12" fill="#ff0000"/>
<rect x="731" y="193" width="3" height="7" fill="#ff0000"/>
<rect x="736" y="187" width="1" height="12" fill="#ff0000"/>
<rect x="735" y="194" width="3" height="5" fill="#ff0000"/>
<rect x="740" y="184" width="1" height="12" fill="#ff0000"/>
<rect x="739" y="194" width="3" height="1" fill="#ff0000"/>
<rect x="744" y="193" width="1" height="19" fill="#00ff00"/>
<rect x="743" y="195" width="3" height="3" fill="#00ff00"/>
<rect x="748" y="181" width="1" height="20" fill="#ff0000"/>
<rect x="747" y="187" width="3" height="11" fill="#ff0000"/>
<rect x="752" y="168" width="1" height="21" fill="#ff0000"/>
<rect x="751" y="170" width="3" height="19" fill="#ff0000"/>
<rect x="756" y="166" width="1" height="9" fill="#ff0000"/>
<rect x="755" y="168" width="3" height="3" fill="#ff0000"/>
<rect x="760" y="163" width="1" height="9" fill="#ff0000"/>
<rect x="759" y="168" width="3" height="3" fill="#ff0000"/>
<rect x="764" y="156" width="1" height="25" fill="#00ff00"/>
<rect x="763" y="168" width="3" height="2" fill="#00ff00"/>
<rect x="768" y="154" width="1" height="21" fill="#ff0000"/>
<rect x="767" y="159" width="3" height="10" fill="#ff0000"/>
<rect x="772" y="151" width="1" height="19" fill="#00ff00"/>
<rect x="771" y="159" width="3" height="6" fill="#00ff00"/>
<rect x="776" y="153" width="1" height="42" fill="#00ff00"/>
<rect x="775" y="164" width="3" height="24" fill="#00ff00"/>
<rect x="780" y="185" width="1" height="8" fill="#00ff00"/>
<rect x="779" y="186" width="3" height="5" fill="#00ff00"/>
<rect x="784" y="169" width="1" height="29" fill="#00ff00"/>
<rect x="783" y="181" width="3" height="9" fill="#00ff00"/>
<rect x="788" y="175" width="1" height="29" fill="#00ff00"/>
<rect x="787" y="190" width="3" height="8" fill="#00ff00"/>
<rect x="792" y="190" width="1" height="29" fill="#ff0000"/>
<rect x="791" y="193" width="3" height="5" fill="#ff0000"/>
<rect x="796" y="191" width="1" height="57" fill="#00ff00"/>
<rect x="795" y="193" width="3" height="40" fill="#00ff00"/>
<rect x="800" y="218" width="1" height="66" fill="#00ff00"/>
<rect x="799" y="233" width="3" height="10" fill="#00ff00"/>
<rect x="804" y="238" width="1" height="24" fill="#00ff00"/>
<rect x="803" y="243" width="3" height="16" fill="#00ff00"/>
<rect x="808" y="260" width="1" height="61" fill="#00ff00"/>
<rect x="807" y="269" width="3" height="23" fill="#00ff00"/>
<rect x="812" y="285" width="1" height="52" fill="#00ff00"/>
<rect x="811" y="290" width="3" height="25" fill="#00ff00"/>
<rect x="816" y="291" width="1" height="35" fill="#00ff00"/>
<rect x="815" y="314" width="3" height="1" fill="#00ff00"/>
<rect x="820" y="308" width="1" height="35" fill="#00ff00"/>
<rect x="819" y="316" width="3" height="27" fill="#00ff00"/>
<rect x="824" y="342" width="1" height="104" fill="#00ff00"/>
<rect x="823" y="342" width="3" height="72" fill="#00ff00"/>
<rect x="828" y="406" width="1" height="23" fill="#00ff00"/>
<rect x="827" y="413" width="3" height="7" fill="#00ff00"/>
<rect x="832" y="445" width="1" height="77" fill="#ff0000"/>
<rect x="831" y="456" width="3" height="10" fill="#ff0000"/>
<rect x="836" y="416" width="1" height="80" fill="#ff0000"/>
<rect x="835" y="438" width="3" height="19" fill="#ff0000"/>
<rect x="840" y="394" width="1" height="50" fill="#ff0000"/>
<rect x="839" y="410" width="3" height="30" fill="#ff0000"/>
<rect x="844" y="322" width="1" height="123" fill="#ff0000"/>
<rect x="843" y="322" width="3" height="90" fill="#ff0000"/>
<rect x="848" y="314" width="1" height="73" fill="#00ff00"/>
<rect x="847" y="322" width="3" height="2" fill="#00ff00"/>
<rect x="852" y="312" width="1" height="27" fill="#ff0000"/>
<rect x="851" y="315" width="3" height="9" fill="#ff0000"/>
<rect x="856" y="331" width="1" height="73" fill="#ff0000"/>
<rect x="855" y="361" width="3" height="10" fill="#ff0000"/>
<rect x="860" y="262" width="1" height="114" fill="#ff0000"/>
<rect x="859" y="263" width="3" height="99" fill="#ff0000"/>
<rect x="864" y="212" width="1" height="97" fill="#ff0000"/>
<rect x="863" y="218" width="3" height="46" fill="#ff0000"/>
<rect x="868" y="152" width="1" height="106" fill="#ff0000"/>
<rect x="867" y="153" width="3" height="65" fill="#ff0000"/>
<rect x="872" y="129" width="1" height="80" fill="#ff0000"/>
<rect x="871" y="140" width="3" height="14" fill="#ff0000"/>
<rect x="876" y="123" width="1" height="29" fill="#ff0000"/>
<rect x="875" y="128" width="3" height="14" fill="#ff0000"/>
<rect x="880" y="130" width="1" height="55" fill="#00ff00"/>
<rect x="879" y="135" width="3" height="29" fill="#00ff00"/>
<rect x="884" y="150" width="1" height="74" fill="#00ff00"/>
<rect x="883" y="164" width="3" height="7" fill="#00ff00"/>
<rect x="888" y="153" width="1" height="38" fill="#00ff00"/>
<rect x="887" y="170" width="3" height="18" fill="#00ff00"/>
<rect x="892" y="188" width="1" height="79" fill="#00ff00"/>
<rect x="891" y="188" width="3" height="76" fill="#00ff00"/>
<rect x="896" y="258" width="1" height="57" fill="#00ff00"/>
<rect x="895" y="263" width="3" height="50" fill="#00ff00"/>
<rect x="900" y="302" width="1" height="27" fill="#00ff00"/>
<rect x="899" y="312" width="3" height="16" fill="#00ff00"/>
<rect x="904" y="282" width="1" height="62" fill="#ff0000"/>
<rect x="903" y="284" width="3" height="50" fill="#ff0000"/>
<rect x="908" y="242" width="1" height="65" fill="#ff0000"/>
<rect x="907" y="273" width="3" height="15" fill="#ff0000"/>
<rect x="912" y="240" width="1" height="42" fill="#ff0000"/>
<rect x="911" y="247" width="3" height="27" fill="#ff0000"/>
<rect x="916" y="215" width="1" height="48" fill="#ff0000"/>
<rect x="915" y="218" width="3" height="30" fill="#ff0000"/>
<rect x="920" y="180" width="1" height="44" fill="#ff0000"/>
<rect x="919" y="191" width="3" height="28" fill="#ff0000"/>
<rect x="924" y="183" width="1" height="20" fill="#00ff00"/>
<rect x="923" y="191" width="3" height="10" fill="#00ff00"/>
<rect x="928" y="180" width="1" height="21" fill="#ff0000"/>
<rect x="927" y="195" width="3" height="5" fill="#ff0000"/>
<rect x="932" y="183" width="1" height="57" fill="#00ff00"/>
<rect x="931" y="195" width="3" height="35" fill="#00ff00"/>
<rect x="936" y="212" width="1" height="31" fill="#ff0000"/>
<rect x="935" y="228" width="3" height="2" fill="#ff0000"/>
<rect x="940" y="215" width="1" height="47" fill="#00ff00"/>
<rect x="939" y="227" width="3" height="29" fill="#00ff00"/>
<rect x="944" y="247" width="1" height="17" fill="#00ff00"/>
<rect x="943" y="255" width="3" height="8" fill="#00ff00"/>
<rect x="948" y="252" width="1" height="17" fill="#ff0000"/>
<rect x="947" y="259" width="3" height="4" fill="#ff0000"/>
<rect x="952" y="241" width="1" height="33" fill="#ff0000"/>
<rect x="951" y="250" width="3" height="8" fill="#ff0000"/>
<rect x="956" y="248" width="1" height="44" fill="#00ff00"/>
<rect x="955" y="249" width="3" height="37" fill="#00ff00"/>
<rect x="960" y="233" width="1" height="58" fill="#ff0000"/>
<rect x="959" y="263" width="3" height="23" fill="#ff0000"/>
<rect x="964" y="230" width="1" height="48" fill="#ff0000"/>
<rect x="963" y="237" width="3" height="26" fill="#ff0000"/>
<rect x="968" y="220" width="1" height="39" fill="#00ff00"/>
<rect x="967" y="237" width="3" height="18" fill="#00ff00"/>
<rect x="972" y="247" width="1" height="9" fill="#ff0000"/>
<rect x="971" y="248" width="3" height="7" fill="#ff0000"/>
<rect x="976" y="231" width="1" height="28" fill="#00ff00"/>
<rect x="975" y="246" width="3" height="4" fill="#00ff00"/>
<rect x="980" y="218" width="1" height="38" fill="#ff0000"/>
<rect x="979" y="238" width="3" height="13" fill="#ff0000"/>
<rect x="984" y="223" width="1" height="28" fill="#ff0000"/>
<rect x="983" y="228" width="3" height="11" fill="#ff0000"/>
<rect x="988" y="194" width="1" height="37" fill="#ff0000"/>
<rect x="987" y="216" width="3" height="13" fill="#ff0000"/>
<rect x="992" y="177" width="1" height="42" fill="#ff0000"/>
<rect x="991" y="205" width="3" height="12" fill="#ff0000"/>
<rect x="996" y="198" width="1" height="10" fill="#00ff00"/>
<rect x="995" y="205" width="3" height="1" fill="#00ff00"/>
<rect x="1000" y="196" width="1" height="31" fill="#ff0000"/>
<rect x="999" y="202" width="3" height="8" fill="#ff0000"/>
<rect x="1004" y="178" width="1" height="44" fill="#00ff00"/>
<rect x="1003" y="202" width="3" height="8" fill="#00ff00"/>
<rect x="1008" y="205" width="1" height="23" fill="#ff0000"/>
<rect x="1007" y="207" width="3" height="3" fill="#ff0000"/>
<rect x="1012" y="196" width="1" height="73" fill="#00ff00"/>
<rect x="1011" y="207" width="3" height="43" fill="#00ff00"/>
<rect x="1016" y="246" width="1" height="50" fill="#00ff00"/>
<rect x="1015" y="250" width="3" height="40" fill="#00ff00"/>
<rect x="1020" y="278" width="1" height="13" fill="#ff0000"/>
<rect x="1019" y="279" width="3" height="11" fill="#ff0000"/>
<rect x="1024" y="254" width="1" height="23" fill="#ff0000"/>
<rect x="1023" y="263" width="3" height="9" fill="#ff0000"/>
<rect x="1028" y="215" width="1" height="50" fill="#ff0000"/>
<rect x="1027" y="221" width="3" height="43" fill="#ff0000"/>
<rect x="1032" y="201" width="1" height="25" fill="#ff0000"/>
<rect x="1031" y="209" width="3" height="13" fill="#ff0000"/>
<rect x="1036" y="187" width="1" height="27" fill="#ff0000"/>
<rect x="1035" y="207" width="3" height="2" fill="#ff0000"/>
<rect x="1040" y="204" width="1" height="39" fill="#00ff00"/>
<rect x="1039" y="207" width="3" height="21" fill="#00ff00"/>
<rect x="1044" y="228" width="1" height="7" fill="#ff0000"/>
<rect x="1043" y="229" width="3" height="5" fill="#ff0000"/>
<rect x="1048" y="213" width="1" height="21" fill="#ff0000"/>
<rect x="1047" y="221" width="3" height="4" fill="#ff0000"/>
<rect x="1052" y="206" width="1" height="48" fill="#00ff00"/>
<rect x="1051" y="221" width="3" height="22" fill="#00ff00"/>
<rect x="1056" y="226" width="1" height="28" fill="#ff0000"/>
<rect x="1055" y="232" width="3" height="11" fill="#ff0000"/>
<rect x="1060" y="203" width="1" height="29" fill="#ff0000"/>
<rect x="1059" y="218" width="3" height="14" fill="#ff0000"/>
<rect x="1064" y="208" width="1" height="20" fill="#00ff00"/>
<rect x="1063" y="218" width="3" height="2" fill="#00ff00"/>
<rect x="1068" y="215" width="1" height="9" fill="#00ff00"/>
<rect x="1067" y="219" width="3" height="3" fill="#00ff00"/>
<rect x="1072" y="216" width="1" height="32" fill="#00ff00"/>
<rect x="1071" y="223" width="3" height="7" fill="#00ff00"/>
<rect x="1076" y="200" width="1" height="39" fill="#ff0000"/>
<rect x="1075" y="220" width="3" height="15" fill="#ff0000"/>
<rect x="1080" y="218" width="1" height="51" fill="#00ff00"/>
<rect x="1079" y="220" width="3" height="42" fill="#00ff00"/>
<rect x="1084" y="228" width="1" height="38" fill="#ff0000"/>
<rect x="1083" y="229" width="3" height="33" fill="#ff0000"/>
<rect x="1088" y="215" width="1" height="23" fill="#ff0000"/>
<rect x="1087" y="221" width="3" height="8" fill="#ff0000"/>
<rect x="1092" y="216" width="1" height="7" fill="#ff0000"/>
<rect x="1091" y="220" width="3" height="2" fill="#ff0000"/>
<rect x="1096" y="214" width="1" height="18" fill="#00ff00"/>
<rect x="1095" y="224" width="3" height="5" fill="#00ff00"/>
<rect x="1100" y="224" width="1" height="37" fill="#00ff00"/>
<rect x="1099" y="229" width="3" height="23" fill="#00ff00"/>
<rect x="1104" y="218" width="1" height="46" fill="#ff0000"/>
<rect x="1103" y="236" width="3" height="16" fill="#ff0000"/>
<rect x="1108" y="223" width="1" height="44" fill="#00ff00"/>
<rect x="1107" y="236" width="3" height="31" fill="#00ff00"/>
<rect x="1112" y="261" width="1" height="28" fill="#00ff00"/>
<rect x="1111" y="266" width="3" height="14" fill="#00ff00"/>
<rect x="1116" y="275" width="1" height="9" fill="#ff0000"/>
<rect x="1115" y="279" width="3" height="1" fill="#ff0000"/>
<rect x="1120" y="275" width="1" height="26" fill="#ff0000"/>
<rect x="1119" y="281" width="3" height="5" fill="#ff0000"/>
<rect x="1124" y="268" width="1" height="37" fill="#ff0000"/>
<rect x="1123" y="276" width="3" height="7" fill="#ff0000"/>
<rect x="1128" y="263" width="1" height="23" fill="#00ff00"/>
<rect x="1127" y="276" width="3" height="6" fill="#00ff00"/>
<rect x="1132" y="276" width="1" height="37" fill="#00ff00"/>
<rect x="1131" y="282" width="3" height="26" fill="#00ff00"/>
<rect x="1136" y="261" width="1" height="61" fill="#ff0000"/>
<rect x="1135" y="276" width="3" height="32" fill="#ff0000"/>
<rect x="1140" y="272" width="1" height="8" fill="#00ff00"/>
<rect x="1139" y="276" width="3" height="2" fill="#00ff00"/>
<rect x="1144" y="267" width="1" height="48" fill="#00ff00"/>
<rect x="1143" y="280" width="3" height="27" fill="#00ff00"/>
<rect x="1148" y="297" width="1" height="58" fill="#00ff00"/>
<rect x="1147" y="306" width="3" height="46" fill="#00ff00"/>
<rect x="1152" y="336" width="1" height="39" fill="#00ff00"/>
<rect x="1151" y="351" width="3" height="22" fill="#00ff00"/>
<rect x="1156" y="360" width="1" height="52" fill="#00ff00"/>
<rect x="1155" y="372" width="3" height="39" fill="#00ff00"/>
<rect x="1160" y="333" width="1" height="81" fill="#ff0000"/>
<rect x="1159" y="336" width="3" height="76" fill="#ff0000"/>
<rect x="1164" y="315" width="1" height="24" fill="#ff0000"/>
<rect x="1163" y="320" width="3" height="17" fill="#ff0000"/>
<rect x="1168" y="318" width="1" height="35" fill="#00ff00"/>
<rect x="1167" y="332" width="3" height="10" fill="#00ff00"/>
<rect x="1172" y="332" width="1" height="34" fill="#00ff00"/>
<rect x="1171" y="342" width="3" height="7" fill="#00ff00"/>
<rect x="1176" y="328" width="1" height="28" fill="#ff0000"/>
<rect x="1175" y="339" width="3" height="10" fill="#ff0000"/>
<rect x="1180" y="331" width="1" height="24" fill="#00ff00"/>
<rect x="1179" y="337" width="3" height="2" fill="#00ff00"/>
<rect x="1184" y="327" width="1" height="25" fill="#ff0000"/>
<rect x="1183" y="333" width="3" height="7" fill="#ff0000"/>
<rect x="1188" y="331" width="1" height="8" fill="#00ff00"/>
<rect x="1187" y="333" width="3" height="3" fill="#00ff00"/>
<rect x="1192" y="330" width="1" height="35" fill="#00ff00"/>
<rect x="1191" y="333" width="3" height="26" fill="#00ff00"/>
<rect x="1196" y="350" width="1" height="40" fill="#00ff00"/>
<rect x="1195" y="358" width="3" height="21" fill="#00ff00"/>
<rect x="1200" y="352" width="1" height="31" fill="#ff0000"/>
<rect x="1199" y="360" width="3" height="19" fill="#ff0000"/>
<rect x="1204" y="340" width="1" height="24" fill="#ff0000"/>
<rect x="1203" y="352" width="3" height="9" fill="#ff0000"/>
<rect x="1208" y="345" width="1" height="17" fill="#00ff00"/>
<rect x="1207" y="352" width="3" height="4" fill="#00ff00"/>
<rect x="1212" y="355" width="1" height="5" fill="#00ff00"/>
<rect x="1211" y="355" width="3" height="3" fill="#00ff00"/>
<rect x="1216" y="342" width="1" height="34" fill="#ff0000"/>
<rect x="1215" y="342" width="3" height="16" fill="#ff0000"/>
<rect x="1220" y="326" width="1" height="41" fill="#00ff00"/>
<rect x="1219" y="342" width="3" height="21" fill="#00ff00"/>
<rect x="1224" y="348" width="1" height="28" fill="#00ff00"/>
<rect x="1223" y="363" width="3" height="7" fill="#00ff00"/>
<rect x="1228" y="363" width="1" height="23" fill="#ff0000"/>
<rect x="1227" y="369" width="3" height="1" fill="#ff0000"/>
<rect x="1232" y="361" width="1" height="14" fill="#00ff00"/>
<rect x="1231" y="369" width="3" height="2" fill="#00ff00"/>
<rect x="1236" y="370" width="1" height="5" fill="#00ff00"/>
<rect x="1235" y="371" width="3" height="3" fill="#00ff00"/>
<rect x="1240" y="371" width="1" height="39" fill="#00ff00"/>
<rect x="1239" y="373" width="3" height="19" fill="#00ff00"/>
<rect x="1244" y="370" width="1" height="26" fill="#00ff00"/>
<rect x="1243" y="391" width="3" height="4" fill="#00ff00"/>
<rect x="1248" y="382" width="1" height="32" fill="#00ff00"/>
<rect x="1247" y="394" width="3" height="17" fill="#00ff00"/>
<rect x="1252" y="397" width="1" height="25" fill="#ff0000"/>
<rect x="1251" y="401" width="3" height="10" fill="#ff0000"/>
<rect x="1256" y="383" width="1" height="26" fill="#00ff00"/>
<rect x="1255" y="401" width="3" height="2" fill="#00ff00"/>
<rect x="1260" y="390" width="1" height="13" fill="#ff0000"/>
<rect x="1259" y="391" width="3" height="12" fill="#ff0000"/>
<rect x="1264" y="380" width="1" height="25" fill="#ff0000"/>
<rect x="1263" y="394" width="3" height="5" fill="#ff0000"/>
<rect x="1268" y="386" width="1" height="16" fill="#ff0000"/>
<rect x="1267" y="389" width="3" height="6" fill="#ff0000"/>
<path d="M4 138h2v1h-2zM6 139h8v1h-8zM14 140h4v1h-4zM18 141h4v1h-4zM22 142h3v1h-3zM25 143h2v1h-2zM27 144h2v1h-2zM29 145h2v1h-2zM31 146h2v1h-2zM33 147h1v1h-1zM34 148h2v1h-2zM36 149h1v1h-1zM37 150h1v1h-1zM38 151h1v1h-1zM39 152h1v1h-1zM40 153h1v1h-1zM41 154h2v1h-2zM43 155h2v1h-2zM45 156h2v1h-2zM47 157h3v1h-3zM50 156h2v1h-2zM52 155h2v1h-2zM54 154h2v1h-2zM56 153h1v1h-1zM57 152h1v1h-1zM58 151h1v1h-1zM59 150h1v1h-1zM60 149h1v1h-1zM61 148h2v1h-2zM63 147h1v1h-1zM64 146h1v1h-1zM65 145h1v1h-1zM66 144h1v1h-1zM67 143h1v1h-1zM68 142h1v1h-1zM69 141h2v1h-2zM71 140h1v1h-1zM72 139h2v1h-2zM74 138h2v1h-2zM76 137h3v1h-3zM79 136h4v1h-4zM83 135h2v1h-2zM85 136h2v1h-2zM87 137h2v1h-2zM89 138h2v1h-2zM91 139h2v1h-2zM93 140h2v1h-2zM95 141h2v1h-2zM97 142h1v1h-1zM98 143h2v1h-2zM100 144h1v1h-1zM101 145h1v1h-1zM102 146h1v1h-1zM103 147h1v1h-1zM104 148h1v1h-1zM105 149h1v1h-1zM106 150h2v1h-2zM108 151h1v1h-1zM109 152h1v1h-1zM110 153h1v2h-1zM111 155h1v1h-1zM112 156h1v1h-1zM113 157h1v1h-1zM114 158h1v1h-1zM115 159h1v1h-1zM116 160h1v1h-1zM117 161h2v1h-2zM119 162h2v1h-2zM121 163h2v1h-2zM123 164h3v1h-3zM126 165h4v1h-4zM130 166h4v1h-4zM134 167h3v1h-3zM137 168h2v1h-2zM139 169h3v1h-3zM142 170h7v1h-7zM149 171h2v1h-2zM151 172h3v1h-3zM154 173h4v1h-4zM158 174h8v1h-8zM166 175h4v1h-4zM170 176h4v1h-4zM174 177h8v1h-8zM182 178h7v1h-7zM189 179h2v1h-2zM191 180h3v1h-3zM194 181h5v1h-5zM199 180h4v1h-4zM203 179h2v1h-2zM205 178h2v1h-2zM207 177h1v1h-1zM208 176h1v1h-1zM209 175h2v1h-2zM211 174h1v1h-1zM212 173h1v1h-1zM213 172h1v1h-1zM214 171h1v1h-1zM215 170h1v1h-1zM216 169h2v1h-2zM218 168h2v1h-2zM220 167h1v1h-1zM221 166h1v1h-1zM222 165h1v1h-1zM223 164h1v1h-1zM224 163h1v1h-1zM225 162h2v1h-2zM227 161h1v1h-1zM228 160h1v1h-1zM229 159h1v1h-1zM230 158h1v1h-1zM231 157h1v1h-1zM232 156h1v1h-1zM233 155h1v1h-1zM234 154h1v1h-1zM235 153h1v1h-1zM236 152h1v1h-1zM237 151h1v1h-1zM238 150h1v1h-1zM239 149h1v1h-1zM240 148h1v1h-1zM241 147h2v1h-2zM243 146h1v1h-1zM244 145h2v1h-2zM246 144h2v1h-2zM248 143h1v1h-1zM249 142h2v1h-2zM251 141h1v1h-1zM252 140h3v1h-3zM255 139h3v1h-3zM258 138h2v1h-2zM260 137h3v1h-3zM263 136h3v1h-3zM266 135h2v1h-2zM268 134h1v1h-1zM269 133h2v1h-2zM271 132h1v1h-1zM272 131h1v1h-1zM273 130h2v1h-2zM275 129h1v1h-1zM276 128h1v1h-1zM277 127h1v1h-1zM278 126h1v1h-1zM279 125h1v1h-1zM280 124h2v1h-2zM282 123h2v1h-2zM284 122h1v1h-1zM285 121h2v1h-2zM287 120h1v1h-1zM288 119h2v1h-2zM290 118h2v1h-2zM292 117h2v1h-2zM294 116h2v1h-2zM296 115h7v1h-7zM303 114h4v1h-4zM307 113h2v1h-2zM309 112h2v1h-2zM311 111h1v1h-1zM312 110h3v1h-3zM315 109h3v1h-3zM318 108h2v1h-2zM320 107h2v1h-2zM322 106h2v1h-2zM324 105h3v1h-3zM327 104h4v1h-4zM331 103h4v1h-4zM335 102h7v1h-7zM342 103h4v1h-4zM346 104h4v1h-4zM350 105h4v1h-4zM354 106h4v1h-4zM358 107h13v1h-13zM371 106h4v1h-4zM375 105h3v1h-3zM378 104h2v1h-2zM380 103h5v1h-5zM385 104h2v1h-2zM387 105h3v1h-3zM390 106h4v1h-4zM394 107h3v1h-3zM397 108h2v1h-2zM399 109h7v1h-7zM406 110h4v1h-4zM410 111h5v1h-5zM415 110h15v1h-15zM430 111h4v1h-4zM434 112h3v1h-3zM437 113h2v1h-2zM439 114h3v1h-3zM442 115h3v1h-3zM445 116h2v1h-2zM447 117h3v1h-3zM450 118h4v1h-4zM454 119h5v1h-5zM459 118h3v1h-3zM462 117h2v1h-2zM464 116h2v1h-2zM466 115h2v1h-2zM468 114h2v1h-2zM470 113h2v1h-2zM472 112h2v1h-2zM474 111h2v1h-2zM476 110h3v1h-3zM479 109h4v1h-4zM483 108h4v1h-4zM487 107h4v1h-4zM491 106h6v1h-6zM497 107h2v1h-2zM499 108h12v1h-12zM511 107h4v1h-4zM515 106h7v1h-7zM522 107h4v1h-4zM526 108h4v1h-4zM530 109h3v1h-3zM533 110h1v1h-1zM534 111h2v1h-2zM536 112h1v1h-1zM537 113h2v1h-2zM539 114h2v1h-2zM541 115h2v1h-2zM543 116h2v1h-2zM545 117h1v1h-1zM546 118h2v1h-2zM548 119h1v1h-1zM549 120h2v1h-2zM551 121h3v1h-3zM554 122h3v1h-3zM557 123h2v1h-2zM559 124h3v1h-3zM562 125h4v1h-4zM566 126h3v1h-3zM569 127h2v1h-2zM571 128h2v1h-2zM573 129h2v1h-2zM575 130h2v1h-2zM577 131h2v1h-2zM579 132h2v1h-2zM581 133h1v1h-1zM582 134h1v1h-1zM583 135h1v1h-1zM584 136h1v1h-1zM585 137h1v1h-1zM586 138h1v1h-1zM587 139h1v1h-1zM588 140h1v1h-1zM589 141h1v1h-1zM590 142h1v2h-1zM591 144h1v1h-1zM592 145h1v1h-1zM593 146h1v2h-1zM594 148h1v1h-1zM595 149h1v2h-1zM596 151h1v1h-1zM597 152h1v2h-1zM598 154h1v1h-1zM599 155h1v2h-1zM600 157h1v1h-1zM601 158h1v1h-1zM602 159h1v2h-1zM603 161h1v1h-1zM604 162h1v1h-1zM605 163h1v1h-1zM606 164h1v2h-1zM607 166h1v1h-1zM608 167h1v1h-1zM609 168h1v2h-1zM610 170h1v1h-1zM611 171h1v2h-1zM612 173h1v1h-1zM613 174h1v1h-1zM614 175h1v1h-1zM615 176h1v1h-1zM616 177h1v1h-1zM617 178h1v1h-1zM618 179h2v1h-2zM620 180h1v1h-1zM621 181h1v1h-1zM622 182h2v1h-2zM624 183h1v1h-1zM625 184h1v1h-1zM626 185h2v1h-2zM628 186h1v1h-1zM629 187h1v1h-1zM630 188h2v1h-2zM632 189h1v1h-1zM633 190h1v1h-1zM634 191h2v1h-2zM636 192h1v1h-1zM637 193h1v1h-1zM638 194h1v1h-1zM639 195h1v1h-1zM640 196h1v1h-1zM641 197h1v1h-1zM642 198h2v1h-2zM644 199h1v1h-1zM645 200h1v1h-1zM646 201h1v1h-1zM647 202h1v1h-1zM648 203h1v1h-1zM649 204h1v1h-1zM650 205h1v1h-1zM651 206h1v1h-1zM652 207h1v1h-1zM653 208h1v1h-1zM654 209h2v1h-2zM656 210h1v1h-1zM657 211h1v1h-1zM658 212h2v1h-2zM660 213h1v1h-1zM661 214h1v1h-1zM662 215h2v1h-2zM664 216h1v1h-1zM665 217h2v1h-2zM667 218h2v1h-2zM669 219h2v1h-2zM671 220h2v1h-2zM673 221h2v1h-2zM675 222h2v1h-2zM677 223h2v1h-2zM679 224h2v1h-2zM681 225h2v1h-2zM683 226h2v1h-2zM685 227h2v1h-2zM687 228h3v1h-3zM690 229h4v1h-4zM694 230h3v1h-3zM697 231h1v1h-1zM698 232h2v1h-2zM700 233h1v1h-1zM701 234h2v1h-2zM703 235h2v1h-2zM705 236h2v1h-2zM707 237h12v1h-12zM719 236h4v1h-4zM723 235h4v1h-4zM727 234h4v1h-4zM731 233h3v1h-3zM734 232h2v1h-2zM736 231h3v1h-3zM739 230h4v1h-4zM743 229h4v1h-4zM747 228h4v1h-4zM751 227h3v1h-3zM754 226h2v1h-2zM756 225h2v1h-2zM758 224h2v1h-2zM760 223h2v1h-2zM762 222h2v1h-2zM764 221h1v1h-1zM765 220h1v1h-1zM766 219h1v1h-1zM767 218h1v1h-1zM768 217h1v1h-1zM769 216h2v1h-2zM771 215h1v1h-1zM772 214h2v1h-2zM774 213h2v1h-2zM776 212h2v1h-2zM778 211h2v1h-2zM780 210h2v1h-2zM782 209h2v1h-2zM784 208h3v1h-3zM787 207h3v1h-3zM790 206h2v1h-2zM792 205h6v1h-6zM798 206h4v1h-4zM802 207h4v1h-4zM806 208h3v1h-3zM809 209h1v1h-1zM810 210h1v1h-1zM811 211h1v1h-1zM812 212h1v1h-1zM813 213h1v1h-1zM814 214h2v1h-2zM816 215h1v1h-1zM817 216h1v1h-1zM818 217h1v1h-1zM819 218h1v1h-1zM820 219h1v1h-1zM821 220h1v1h-1zM822 221h1v2h-1zM823 223h1v1h-1zM824 224h1v1h-1zM825 225h1v1h-1zM826 226h1v2h-1zM827 228h1v1h-1zM828 229h1v1h-1zM829 230h1v2h-1zM830 232h1v1h-1zM831 233h1v2h-1zM832 235h1v1h-1zM833 236h1v2h-1zM834 238h1v2h-1zM835 240h1v2h-1zM836 242h1v1h-1zM837 243h1v2h-1zM838 245h1v1h-1zM839 246h1v2h-1zM840 248h1v1h-1zM841 249h1v1h-1zM842 250h1v1h-1zM843 251h1v1h-1zM844 252h1v1h-1zM845 253h1v1h-1zM846 254h1v1h-1zM847 255h1v1h-1zM848 256h1v1h-1zM849 257h1v1h-1zM850 258h1v2h-1zM851 260h1v1h-1zM852 261h1v1h-1zM853 262h1v1h-1zM854 263h1v2h-1zM855 265h1v1h-1zM856 266h1v1h-1zM857 267h2v1h-2zM859 268h3v1h-3zM862 269h5v1h-5zM867 268h4v1h-4zM871 267h4v1h-4zM875 266h4v1h-4zM879 265h7v1h-7zM886 266h3v1h-3zM889 267h1v1h-1zM890 268h1v1h-1zM891 269h1v1h-1zM892 270h1v1h-1zM893 271h1v1h-1zM894 272h1v1h-1zM895 273h1v1h-1zM896 274h1v1h-1zM897 275h1v1h-1zM898 276h1v1h-1zM899 277h1v1h-1zM900 278h1v1h-1zM901 279h1v1h-1zM902 280h1v1h-1zM903 281h1v1h-1zM904 282h1v1h-1zM905 283h2v1h-2zM907 284h2v1h-2zM909 285h2v1h-2zM911 286h4v1h-4zM915 285h4v1h-4zM919 284h3v1h-3zM922 283h2v1h-2zM924 282h1v1h-1zM925 281h2v1h-2zM927 280h1v1h-1zM928 279h1v1h-1zM929 278h2v1h-2zM931 277h1v1h-1zM932 276h1v1h-1zM933 275h2v1h-2zM935 274h1v1h-1zM936 273h1v1h-1zM937 272h2v1h-2zM939 271h1v1h-1zM940 270h1v1h-1zM941 269h1v1h-1zM942 267h1v2h-1zM943 266h1v1h-1zM944 265h1v1h-1zM945 264h1v1h-1zM946 262h1v2h-1zM947 261h1v1h-1zM948 260h1v1h-1zM949 258h1v2h-1zM950 256h1v2h-1zM951 254h1v2h-1zM952 253h1v1h-1zM953 252h1v1h-1zM954 250h1v2h-1zM955 249h1v1h-1zM956 248h1v1h-1zM957 247h1v1h-1zM958 245h1v2h-1zM959 244h1v1h-1zM960 243h1v1h-1zM961 242h2v1h-2zM963 241h1v1h-1zM964 240h2v1h-2zM966 239h2v1h-2zM968 238h1v1h-1zM969 237h2v1h-2zM971 236h1v1h-1zM972 235h1v1h-1zM973 234h2v1h-2zM975 233h1v1h-1zM976 232h3v1h-3zM979 231h6v1h-6zM985 232h2v1h-2zM987 233h2v1h-2zM989 234h2v1h-2zM991 235h2v1h-2zM993 236h1v1h-1zM994 237h2v1h-2zM996 238h2v1h-2zM998 239h3v1h-3zM1001 240h2v1h-2zM1003 241h12v1h-12zM1015 240h3v1h-3zM1018 239h2v1h-2zM1020 238h6v1h-6zM1026 237h2v1h-2zM1028 236h3v1h-3zM1031 235h4v1h-4zM1035 234h2v1h-2zM1037 235h2v1h-2zM1039 236h3v1h-3zM1042 237h8v1h-8zM1050 238h9v1h-9zM1059 237h3v1h-3zM1062 236h2v1h-2zM1064 235h3v1h-3zM1067 234h4v1h-4zM1071 233h3v1h-3zM1074 232h2v1h-2zM1076 231h11v1h-11zM1087 230h4v1h-4zM1091 229h4v1h-4zM1095 228h3v1h-3zM1098 229h7v1h-7zM1105 230h2v1h-2zM1107 231h2v1h-2zM1109 232h2v1h-2zM1111 233h2v1h-2zM1113 234h2v1h-2zM1115 235h2v1h-2zM1117 236h1v1h-1zM1118 237h2v1h-2zM1120 238h1v1h-1zM1121 239h2v1h-2zM1123 240h2v1h-2zM1125 241h1v1h-1zM1126 242h2v1h-2zM1128 243h1v1h-1zM1129 244h2v1h-2zM1131 245h4v1h-4zM1135 244h6v1h-6zM1141 245h2v1h-2zM1143 246h2v1h-2zM1145 247h1v1h-1zM1146 248h1v1h-1zM1147 249h1v1h-1zM1148 250h1v1h-1zM1149 251h1v1h-1zM1150 252h1v2h-1zM1151 254h1v1h-1zM1152 255h1v1h-1zM1153 256h1v2h-1zM1154 258h1v2h-1zM1155 260h1v2h-1zM1156 262h1v1h-1zM1157 263h1v1h-1zM1158 264h1v1h-1zM1159 265h1v1h-1zM1160 266h1v1h-1zM1161 267h1v1h-1zM1162 268h2v1h-2zM1164 269h1v1h-1zM1165 270h1v1h-1zM1166 271h1v1h-1zM1167 272h1v1h-1zM1168 273h1v1h-1zM1169 274h1v1h-1zM1170 275h2v1h-2zM1172 276h1v1h-1zM1173 277h1v1h-1zM1174 278h1v1h-1zM1175 279h1v1h-1zM1176 280h1v1h-1zM1177 281h1v1h-1zM1178 282h1v1h-1zM1179 283h1v1h-1zM1180 284h1v1h-1zM1181 285h1v1h-1zM1182 286h1v1h-1zM1183 287h1v1h-1zM1184 288h1v1h-1zM1185 289h1v1h-1zM1186 290h1v1h-1zM1187 291h1v1h-1zM1188 292h1v1h-1zM1189 293h1v1h-1zM1190 294h1v1h-1zM1191 295h1v1h-1zM1192 296h1v1h-1zM1193 297h1v1h-1zM1194 298h1v2h-1zM1195 300h1v1h-1zM1196 301h1v1h-1zM1197 302h1v1h-1zM1198 303h2v1h-2zM1200 304h1v1h-1zM1201 305h1v1h-1zM1202 306h1v2h-1zM1203 308h1v1h-1zM1204 309h1v1h-1zM1205 310h1v1h-1zM1206 311h1v1h-1zM1207 312h1v1h-1zM1208 313h1v1h-1zM1209 314h1v1h-1zM1210 315h1v2h-1zM1211 317h1v1h-1zM1212 318h1v1h-1zM1213 319h1v1h-1zM1214 320h2v1h-2zM1216 321h1v1h-1zM1217 322h1v1h-1zM1218 323h1v1h-1zM1219 324h1v1h-1zM1220 325h1v1h-1zM1221 326h1v1h-1zM1222 327h1v1h-1zM1223 328h1v1h-1zM1224 329h1v1h-1zM1225 330h1v1h-1zM1226 331h1v1h-1zM1227 332h1v1h-1zM1228 333h1v1h-1zM1229 334h1v1h-1zM1230 335h2v1h-2zM1232 336h1v1h-1zM1233 337h1v1h-1zM1234 338h2v1h-2zM1236 339h1v1h-1zM1237 340h1v1h-1zM1238 341h1v1h-1zM1239 342h1v1h-1zM1240 343h1v1h-1zM1241 344h1v1h-1zM1242 345h1v1h-1zM1243 346h1v1h-1zM1244 347h1v1h-1zM1245 348h1v1h-1zM1246 349h1v1h-1zM1247 350h1v1h-1zM1248 351h1v1h-1zM1249 352h1v1h-1zM1250 353h2v1h-2zM1252 354h1v1h-1zM1253 355h1v1h-1zM1254 356h1v1h-1zM1255 357h1v1h-1zM1256 358h1v1h-1zM1257 359h1v1h-1zM1258 360h1v1h-1zM1259 361h1v1h-1zM1260 362h1v1h-1zM1261 363h1v1h-1zM1262 364h2v1h-2zM1264 365h2v1h-2zM1266 366h2v1h-2z" fill="#0000cd"/>
<path d="M4 149h1v1h-1zM5 148h1v1h-1zM6 146h1v2h-1zM7 145h1v1h-1zM8 144h1v1h-1zM9 143h1v1h-1zM10 142h1v1h-1zM11 141h1v1h-1zM12 140h1v1h-1zM13 139h2v1h-2zM15 138h1v1h-1zM16 137h1v1h-1zM17 136h2v1h-2zM19 135h1v1h-1zM20 134h3v1h-3zM23 133h10v1h-10zM33 134h1v1h-1zM34 135h1v1h-1zM35 136h1v1h-1zM36 137h1v1h-1zM37 138h1v1h-1zM38 139h2v1h-2zM40 140h1v1h-1zM41 141h2v1h-2zM43 142h2v1h-2zM45 143h1v1h-1zM46 144h2v1h-2zM48 145h2v1h-2zM50 146h5v1h-5zM55 145h2v1h-2zM57 144h2v1h-2zM59 143h1v1h-1zM60 142h2v1h-2zM62 141h2v1h-2zM64 140h1v1h-1zM65 139h2v1h-2zM67 138h1v1h-1zM68 137h2v1h-2zM70 136h2v1h-2zM72 135h2v1h-2zM74 134h2v1h-2zM76 133h1v1h-1zM77 134h2v1h-2zM79 135h2v1h-2zM81 136h2v1h-2zM83 137h2v1h-2zM85 138h1v1h-1zM86 139h1v1h-1zM87 140h1v1h-1zM88 141h2v1h-2zM90 142h3v1h-3zM93 143h1v1h-1zM94 144h1v2h-1zM95 146h1v1h-1zM96 147h1v1h-1zM97 148h1v1h-1zM98 149h2v1h-2zM100 150h1v1h-1zM101 151h1v2h-1zM102 153h1v1h-1zM103 154h1v2h-1zM104 156h1v1h-1zM105 157h1v2h-1zM106 159h1v2h-1zM107 161h1v2h-1zM108 163h1v2h-1zM109 165h1v2h-1zM110 167h1v2h-1zM111 169h1v2h-1zM112 171h1v2h-1zM113 173h1v2h-1zM114 175h1v2h-1zM115 177h1v2h-1zM116 179h1v2h-1zM117 181h1v2h-1zM118 183h1v2h-1zM119 185h1v2h-1zM120 187h1v1h-1zM121 188h1v2h-1zM122 190h1v1h-1zM123 191h1v2h-1zM124 193h1v1h-1zM125 194h1v1h-1zM126 195h1v1h-1zM127 196h1v1h-1zM128 197h1v1h-1zM129 198h1v2h-1zM130 200h1v1h-1zM131 201h1v2h-1zM132 203h5v1h-5zM137 204h2v1h-2zM139 205h2v1h-2zM141 204h1v1h-1zM142 203h1v1h-1zM143 202h1v1h-1zM144 201h2v1h-2zM146 200h2v1h-2zM148 199h2v1h-2zM150 198h2v1h-2zM152 197h2v1h-2zM154 198h3v1h-3zM157 197h2v1h-2zM159 196h1v1h-1zM160 195h1v1h-1zM161 194h1v1h-1zM162 193h1v1h-1zM163 192h1v1h-1zM164 191h1v1h-1zM165 190h1v1h-1zM166 189h1v1h-1zM167 188h1v1h-1zM168 187h1v1h-1zM169 186h1v1h-1zM170 185h1v1h-1zM171 184h1v1h-1zM172 183h1v1h-1zM173 181h1v2h-1zM174 179h1v2h-1zM175 177h1v2h-1zM176 176h1v1h-1zM177 175h1v1h-1zM178 173h1v2h-1zM179 172h1v1h-1zM180 171h1v1h-1zM181 170h1v1h-1zM182 168h1v2h-1zM183 167h1v1h-1zM184 166h1v1h-1zM185 165h2v1h-2zM187 164h1v1h-1zM188 163h5v1h-5zM193 162h1v1h-1zM194 161h1v1h-1zM195 160h1v1h-1zM196 159h2v1h-2zM198 158h2v1h-2zM200 157h3v1h-3zM203 156h2v1h-2zM205 154h1v2h-1zM206 152h1v2h-1zM207 150h1v2h-1zM208 149h1v1h-1zM209 147h1v2h-1zM210 146h1v1h-1zM211 144h1v2h-1zM212 143h1v1h-1zM213 141h1v2h-1zM214 140h1v1h-1zM215 138h1v2h-1zM216 137h1v1h-1zM217 136h2v1h-2zM219 135h1v1h-1zM220 134h1v1h-1zM221 133h1v1h-1zM222 132h1v1h-1zM223 131h1v1h-1zM224 130h2v1h-2zM226 129h2v1h-2zM228 128h3v1h-3zM231 127h7v1h-7zM238 126h2v1h-2zM240 125h2v1h-2zM242 124h2v1h-2zM244 123h1v1h-1zM245 122h1v1h-1zM246 120h1v2h-1zM247 119h1v1h-1zM248 118h2v1h-2zM250 117h2v1h-2zM252 116h3v1h-3zM255 115h22v1h-22zM277 114h1v1h-1zM278 113h1v1h-1zM279 112h1v1h-1zM280 111h3v1h-3zM283 110h3v1h-3zM286 109h2v1h-2zM288 108h2v1h-2zM290 107h2v1h-2zM292 106h7v1h-7zM299 105h4v1h-4zM303 104h4v1h-4zM307 103h3v1h-3zM310 102h2v1h-2zM312 101h1v1h-1zM313 100h2v1h-2zM315 99h1v1h-1zM316 98h2v1h-2zM318 97h2v1h-2zM320 96h2v1h-2zM322 95h2v1h-2zM324 94h2v1h-2zM326 93h2v1h-2zM328 92h1v1h-1zM329 91h2v1h-2zM331 90h1v1h-1zM332 89h5v1h-5zM337 90h1v1h-1zM338 91h2v1h-2zM340 92h1v1h-1zM341 93h1v1h-1zM342 94h1v2h-1zM343 96h1v1h-1zM344 97h1v1h-1zM345 98h1v1h-1zM346 99h1v2h-1zM347 101h1v1h-1zM348 102h1v1h-1zM349 103h1v1h-1zM350 104h2v1h-2zM352 105h1v1h-1zM353 106h1v1h-1zM354 107h2v1h-2zM356 108h2v1h-2zM358 109h4v1h-4zM362 110h8v1h-8zM370 111h8v1h-8zM378 112h3v1h-3zM381 113h2v1h-2zM383 114h2v1h-2zM385 115h1v1h-1zM386 116h1v2h-1zM387 118h1v1h-1zM388 119h1v1h-1zM389 120h1v1h-1zM390 121h1v1h-1zM391 122h1v1h-1zM392 123h2v1h-2zM394 124h5v1h-5zM399 123h3v1h-3zM402 122h2v1h-2zM404 121h1v1h-1zM405 120h2v1h-2zM407 119h1v1h-1zM408 118h2v1h-2zM410 117h2v1h-2zM412 116h2v1h-2zM414 115h2v1h-2zM416 114h2v1h-2zM418 113h2v1h-2zM420 112h9v1h-9zM429 113h2v1h-2zM431 114h2v1h-2zM433 115h1v1h-1zM434 116h2v1h-2zM436 117h7v1h-7zM443 116h4v1h-4zM447 115h4v1h-4zM451 114h2v1h-2zM453 113h2v1h-2zM455 112h1v1h-1zM456 111h2v1h-2zM458 112h4v1h-4zM462 111h2v1h-2zM464 110h3v1h-3zM467 109h11v1h-11zM478 108h2v1h-2zM480 107h2v1h-2zM482 106h2v1h-2zM484 105h1v1h-1zM485 104h1v1h-1zM486 103h1v1h-1zM487 102h1v1h-1zM488 101h1v1h-1zM489 100h1v1h-1zM490 99h1v1h-1zM491 98h1v1h-1zM492 97h2v1h-2zM494 96h2v1h-2zM496 95h1v1h-1zM497 96h2v1h-2zM499 97h4v1h-4zM503 96h3v1h-3zM506 97h8v1h-8zM514 98h3v1h-3zM517 99h1v1h-1zM518 100h2v1h-2zM520 101h1v1h-1zM521 102h1v1h-1zM522 103h1v1h-1zM523 104h1v1h-1zM524 105h1v1h-1zM525 106h1v1h-1zM526 107h1v1h-1zM527 108h1v1h-1zM528 109h1v1h-1zM529 110h1v1h-1zM530 111h1v2h-1zM531 113h1v1h-1zM532 114h1v1h-1zM533 115h1v2h-1zM534 117h1v1h-1zM535 118h1v2h-1zM536 120h1v1h-1zM537 121h1v2h-1zM538 123h1v1h-1zM539 124h1v2h-1zM540 126h1v1h-1zM541 127h1v2h-1zM542 129h1v1h-1zM543 130h1v2h-1zM544 132h1v1h-1zM545 133h1v2h-1zM546 135h1v2h-1zM547 137h1v2h-1zM548 139h1v2h-1zM549 141h1v1h-1zM550 142h1v2h-1zM551 144h1v1h-1zM552 145h1v1h-1zM553 146h1v1h-1zM554 147h2v1h-2zM556 148h1v1h-1zM557 149h1v1h-1zM558 150h2v1h-2zM560 151h1v1h-1zM561 152h2v1h-2zM563 153h2v1h-2zM565 154h1v1h-1zM566 155h2v1h-2zM568 156h1v1h-1zM569 157h1v1h-1zM570 158h1v1h-1zM571 159h1v1h-1zM572 160h1v1h-1zM573 161h1v1h-1zM574 162h1v1h-1zM575 163h1v1h-1zM576 164h1v1h-1zM577 165h2v1h-2zM579 166h2v1h-2zM581 167h1v1h-1zM582 168h1v1h-1zM583 169h1v1h-1zM584 170h1v1h-1zM585 171h1v1h-1zM586 172h1v2h-1zM587 174h1v1h-1zM588 175h1v1h-1zM589 176h1v1h-1zM590 177h1v2h-1zM591 179h1v1h-1zM592 180h1v1h-1zM593 181h1v2h-1zM594 183h1v2h-1zM595 185h1v2h-1zM596 187h1v1h-1zM597 188h1v2h-1zM598 190h1v1h-1zM599 191h1v2h-1zM600 193h1v1h-1zM601 194h1v1h-1zM602 195h1v1h-1zM603 196h1v1h-1zM604 197h1v1h-1zM605 198h1v1h-1zM606 199h1v2h-1zM607 201h1v1h-1zM608 202h1v1h-1zM609 203h2v1h-2zM611 204h2v1h-2zM613 205h1v1h-1zM614 206h1v2h-1zM615 208h1v1h-1zM616 209h1v1h-1zM617 210h1v1h-1zM618 211h1v2h-1zM619 213h1v1h-1zM620 214h1v1h-1zM621 215h1v1h-1zM622 216h1v1h-1zM623 217h1v1h-1zM624 218h1v1h-1zM625 219h1v1h-1zM626 220h2v1h-2zM628 221h1v1h-1zM629 222h1v1h-1zM630 223h2v1h-2zM632 224h1v1h-1zM633 225h1v1h-1zM634 226h2v1h-2zM636 227h1v1h-1zM637 228h2v1h-2zM639 229h2v1h-2zM641 230h2v1h-2zM643 231h2v1h-2zM645 232h2v1h-2zM647 233h3v1h-3zM650 234h8v1h-8zM658 235h7v1h-7zM665 236h2v1h-2zM667 237h4v1h-4zM671 236h3v1h-3zM674 237h8v1h-8zM682 238h3v1h-3zM685 239h2v1h-2zM687 240h4v1h-4zM691 239h4v1h-4zM695 238h15v1h-15zM710 239h5v1h-5zM715 238h4v1h-4zM719 237h2v1h-2zM721 236h2v1h-2zM723 235h1v1h-1zM724 234h2v1h-2zM726 233h2v1h-2zM728 232h1v1h-1zM729 231h1v1h-1zM730 230h1v1h-1zM731 229h1v1h-1zM732 228h2v1h-2zM734 227h2v1h-2zM736 226h1v1h-1zM737 225h2v1h-2zM739 224h1v1h-1zM740 223h2v1h-2zM742 222h2v1h-2zM744 221h2v1h-2zM746 220h2v1h-2zM748 219h1v1h-1zM749 218h2v1h-2zM751 217h1v1h-1zM752 216h1v1h-1zM753 215h1v1h-1zM754 213h1v2h-1zM755 212h1v1h-1zM756 211h1v1h-1zM757 209h1v2h-1zM758 207h1v2h-1zM759 205h1v2h-1zM760 204h1v1h-1zM761 202h1v2h-1zM762 200h1v2h-1zM763 198h1v2h-1zM764 197h1v1h-1zM765 195h1v2h-1zM766 193h1v2h-1zM767 191h1v2h-1zM768 190h1v1h-1zM769 189h1v1h-1zM770 187h1v2h-1zM771 186h1v1h-1zM772 185h2v1h-2zM774 184h2v1h-2zM776 183h2v1h-2zM778 182h2v1h-2zM780 181h13v1h-13zM793 182h1v1h-1zM794 183h2v1h-2zM796 184h1v1h-1zM797 185h1v1h-1zM798 186h2v1h-2zM800 187h1v1h-1zM801 188h1v1h-1zM802 189h1v2h-1zM803 191h1v1h-1zM804 192h1v2h-1zM805 194h1v2h-1zM806 196h1v2h-1zM807 198h1v2h-1zM808 200h1v3h-1zM809 203h1v2h-1zM810 205h1v3h-1zM811 208h1v2h-1zM812 210h1v3h-1zM813 213h1v2h-1zM814 215h1v3h-1zM815 218h1v2h-1zM816 220h1v3h-1zM817 223h1v3h-1zM818 226h1v4h-1zM819 230h1v3h-1zM820 233h1v4h-1zM821 237h1v4h-1zM822 241h1v5h-1zM823 246h1v4h-1zM824 250h1v5h-1zM825 255h1v4h-1zM826 259h1v5h-1zM827 264h1v4h-1zM828 268h1v5h-1zM829 273h1v5h-1zM830 278h1v4h-1zM831 282h1v5h-1zM832 287h1v5h-1zM833 292h1v4h-1zM834 296h1v5h-1zM835 301h1v4h-1zM836 305h1v4h-1zM837 309h1v4h-1zM838 313h1v4h-1zM839 317h1v4h-1zM840 321h1v4h-1zM841 325h1v2h-1zM842 327h1v2h-1zM843 329h1v2h-1zM844 331h1v3h-1zM845 334h1v2h-1zM846 336h1v2h-1zM847 338h1v2h-1zM848 340h1v2h-1zM849 342h1v2h-1zM850 344h1v1h-1zM851 345h1v2h-1zM852 347h1v1h-1zM853 348h1v2h-1zM854 350h1v2h-1zM855 352h1v2h-1zM856 354h1v2h-1zM857 355h1v1h-1zM858 356h3v1h-3zM861 355h1v1h-1zM862 353h1v2h-1zM863 352h1v1h-1zM864 350h1v2h-1zM865 347h1v3h-1zM866 344h1v3h-1zM867 341h1v3h-1zM868 338h1v3h-1zM869 335h1v3h-1zM870 332h1v3h-1zM871 329h1v3h-1zM872 326h1v3h-1zM873 322h1v4h-1zM874 318h1v4h-1zM875 314h1v4h-1zM876 309h1v5h-1zM877 305h1v4h-1zM878 301h1v4h-1zM879 297h1v4h-1zM880 292h1v5h-1zM881 288h1v4h-1zM882 283h1v5h-1zM883 279h1v4h-1zM884 274h1v5h-1zM885 269h1v5h-1zM886 265h1v4h-1zM887 260h1v5h-1zM888 256h1v4h-1zM889 253h1v3h-1zM890 249h1v4h-1zM891 246h1v3h-1zM892 244h1v2h-1zM893 242h1v2h-1zM894 240h1v2h-1zM895 238h1v2h-1zM896 237h6v1h-6zM902 236h2v1h-2zM904 235h1v1h-1zM905 234h2v1h-2zM907 233h1v1h-1zM908 231h1v2h-1zM909 229h1v2h-1zM910 227h1v2h-1zM911 225h1v2h-1zM912 223h1v2h-1zM913 222h2v1h-2zM915 221h1v1h-1zM916 220h2v1h-2zM918 219h2v1h-2zM920 218h1v1h-1zM921 219h1v1h-1zM922 220h1v1h-1zM923 221h1v1h-1zM924 222h1v1h-1zM925 223h1v1h-1zM926 224h1v1h-1zM927 225h1v1h-1zM928 226h1v1h-1zM929 227h1v2h-1zM930 229h1v2h-1zM931 231h1v2h-1zM932 233h1v1h-1zM933 234h1v1h-1zM934 235h1v1h-1zM935 236h1v1h-1zM936 237h1v1h-1zM937 238h1v2h-1zM938 240h1v2h-1zM939 242h1v2h-1zM940 244h1v1h-1zM941 245h1v1h-1zM942 246h1v2h-1zM943 248h1v1h-1zM944 249h5v1h-5zM949 248h1v1h-1zM950 246h1v2h-1zM951 245h1v1h-1zM952 244h1v1h-1zM953 243h2v1h-2zM955 242h1v1h-1zM956 241h3v1h-3zM959 240h2v1h-2zM961 239h2v1h-2zM963 238h1v1h-1zM964 237h2v1h-2zM966 238h3v1h-3zM969 239h2v1h-2zM971 240h2v1h-2zM973 241h1v1h-1zM974 242h1v1h-1zM975 243h1v1h-1zM976 244h1v1h-1zM977 245h1v1h-1zM978 246h2v1h-2zM980 247h1v1h-1zM981 248h2v1h-2zM983 249h4v1h-4zM987 248h3v1h-3zM990 247h2v1h-2zM992 246h1v1h-1zM993 245h2v1h-2zM995 244h1v1h-1zM996 243h1v1h-1zM997 242h1v1h-1zM998 241h1v1h-1zM999 240h1v1h-1zM1000 239h1v1h-1zM1001 238h1v1h-1zM1002 237h1v1h-1zM1003 236h1v1h-1zM1004 235h1v1h-1zM1005 234h2v1h-2zM1007 233h1v1h-1zM1008 232h1v1h-1zM1009 231h2v1h-2zM1011 230h1v1h-1zM1012 229h1v1h-1zM1013 230h2v1h-2zM1015 231h2v1h-2zM1017 232h1v1h-1zM1018 233h2v1h-2zM1020 234h2v1h-2zM1022 235h4v1h-4zM1026 234h2v1h-2zM1028 233h1v1h-1zM1029 232h2v1h-2zM1031 231h1v1h-1zM1032 230h2v1h-2zM1034 229h2v1h-2zM1036 228h6v1h-6zM1042 229h4v1h-4zM1046 230h3v1h-3zM1049 231h2v1h-2zM1051 232h2v1h-2zM1053 233h1v1h-1zM1054 234h2v1h-2zM1056 235h6v1h-6zM1062 236h4v1h-4zM1066 235h2v1h-2zM1068 234h1v1h-1zM1069 233h1v1h-1zM1070 232h1v1h-1zM1071 231h1v1h-1zM1072 230h1v1h-1zM1073 229h1v1h-1zM1074 228h1v1h-1zM1075 227h1v1h-1zM1076 226h3v1h-3zM1079 225h3v1h-3zM1082 226h4v1h-4zM1086 227h4v1h-4zM1090 228h8v1h-8zM1098 229h3v1h-3zM1101 230h2v1h-2zM1103 231h3v1h-3zM1106 232h3v1h-3zM1109 233h1v1h-1zM1110 234h1v1h-1zM1111 235h1v1h-1zM1112 236h1v1h-1zM1113 237h1v1h-1zM1114 238h1v1h-1zM1115 239h1v1h-1zM1116 240h1v1h-1zM1117 241h1v1h-1zM1118 242h1v1h-1zM1119 243h1v1h-1zM1120 244h1v1h-1zM1121 245h1v1h-1zM1122 246h1v1h-1zM1123 247h1v1h-1zM1124 248h1v1h-1zM1125 249h1v1h-1zM1126 250h1v1h-1zM1127 251h1v1h-1zM1128 252h1v1h-1zM1129 253h1v2h-1zM1130 255h1v1h-1zM1131 256h1v2h-1zM1132 258h2v1h-2zM1134 259h3v1h-3zM1137 260h1v1h-1zM1138 261h1v1h-1zM1139 262h1v1h-1zM1140 263h1v1h-1zM1141 264h1v2h-1zM1142 266h1v1h-1zM1143 267h1v2h-1zM1144 269h1v2h-1zM1145 271h1v2h-1zM1146 273h1v2h-1zM1147 275h1v2h-1zM1148 277h1v3h-1zM1149 280h1v2h-1zM1150 282h1v3h-1zM1151 285h1v2h-1zM1152 287h1v3h-1zM1153 290h1v3h-1zM1154 293h1v3h-1zM1155 296h1v3h-1zM1156 299h1v2h-1zM1157 301h1v2h-1zM1158 303h1v2h-1zM1159 305h1v2h-1zM1160 307h1v1h-1zM1161 308h1v1h-1zM1162 309h1v1h-1zM1163 310h1v1h-1zM1164 311h1v1h-1zM1165 312h1v1h-1zM1166 313h1v1h-1zM1167 314h1v1h-1zM1168 315h1v1h-1zM1169 316h1v1h-1zM1170 317h1v2h-1zM1171 319h1v1h-1zM1172 320h1v1h-1zM1173 321h1v1h-1zM1174 322h1v1h-1zM1175 323h1v1h-1zM1176 324h1v1h-1zM1177 325h1v1h-1zM1178 326h1v2h-1zM1179 328h1v1h-1zM1180 329h1v1h-1zM1181 330h1v1h-1zM1182 331h2v1h-2zM1184 332h1v1h-1zM1185 333h2v1h-2zM1187 334h2v1h-2zM1189 335h1v2h-1zM1190 337h1v1h-1zM1191 338h1v2h-1zM1192 340h1v1h-1zM1193 341h1v2h-1zM1194 343h1v2h-1zM1195 345h1v2h-1zM1196 347h1v2h-1zM1197 349h1v1h-1zM1198 350h2v1h-2zM1200 351h7v1h-7zM1207 350h2v1h-2zM1209 349h1v1h-1zM1210 348h1v1h-1zM1211 347h1v1h-1zM1212 346h2v1h-2zM1214 347h3v1h-3zM1217 348h1v1h-1zM1218 349h2v1h-2zM1220 350h1v1h-1zM1221 351h2v1h-2zM1223 352h3v1h-3zM1226 353h3v1h-3zM1229 354h1v1h-1zM1230 355h2v1h-2zM1232 356h1v1h-1zM1233 357h2v1h-2zM1235 358h2v1h-2zM1237 359h1v1h-1zM1238 360h1v1h-1zM1239 361h1v1h-1zM1240 362h1v1h-1zM1241 363h1v1h-1zM1242 364h1v1h-1zM1243 365h1v1h-1zM1244 366h1v1h-1zM1245 367h1v1h-1zM1246 368h1v1h-1zM1247 369h1v1h-1zM1248 370h1v1h-1zM1249 371h2v1h-2zM1251 372h2v1h-2zM1253 373h1v1h-1zM1254 374h2v1h-2zM1256 375h1v1h-1zM1257 376h1v1h-1zM1258 377h2v1h-2zM1260 378h1v1h-1zM1261 379h2v1h-2zM1263 380h2v1h-2zM1265 381h1v1h-1zM1266 382h2v1h-2z" fill="#ff0000"/>
<path d="M4 115h1v1h-1zM5 116h1v2h-1zM6 118h1v2h-1zM7 120h1v2h-1zM8 122h1v3h-1zM9 125h1v3h-1zM10 128h1v4h-1zM11 132h1v3h-1zM12 135h1v2h-1zM13 137h1v2h-1zM14 139h1v2h-1zM15 141h1v2h-1zM16 143h5v1h-5zM21 144h2v1h-2zM23 145h3v1h-3zM26 144h2v1h-2zM28 143h1v1h-1zM29 144h1v1h-1zM30 145h2v1h-2zM32 146h1v1h-1zM33 147h2v1h-2zM35 148h2v1h-2zM37 149h1v2h-1zM38 151h1v2h-1zM39 153h1v2h-1zM40 155h1v2h-1zM41 157h1v1h-1zM42 158h2v1h-2zM44 159h2v1h-2zM46 160h2v1h-2zM48 159h1v2h-1zM49 157h1v2h-1zM50 155h1v2h-1zM51 153h1v2h-1zM52 150h1v3h-1zM53 147h1v3h-1zM54 144h1v3h-1zM55 141h1v3h-1zM56 138h1v3h-1zM57 134h1v4h-1zM58 131h1v3h-1zM59 127h1v4h-1zM60 125h1v2h-1zM61 123h1v2h-1zM62 121h1v2h-1zM63 119h1v2h-1zM64 118h1v1h-1zM65 116h1v2h-1zM66 115h1v1h-1zM67 113h1v2h-1zM68 112h7v1h-7zM75 111h1v1h-1zM76 111h1v2h-1zM77 113h1v4h-1zM78 117h1v3h-1zM79 120h1v4h-1zM80 124h1v3h-1zM81 127h1v2h-1zM82 129h1v3h-1zM83 132h1v2h-1zM84 134h1v4h-1zM85 138h1v5h-1zM86 143h1v5h-1zM87 148h1v5h-1zM88 153h1v4h-1zM89 157h1v4h-1zM90 161h1v3h-1zM91 164h1v4h-1zM92 168h1v5h-1zM93 173h1v6h-1zM94 179h1v6h-1zM95 185h1v6h-1zM96 191h1v4h-1zM97 195h1v2h-1zM98 197h1v2h-1zM99 199h1v2h-1zM100 201h1v2h-1zM101 203h1v3h-1zM102 206h1v4h-1zM103 210h1v3h-1zM104 213h1v2h-1zM105 214h2v1h-2zM107 213h1v1h-1zM108 213h1v2h-1zM109 215h1v2h-1zM110 217h1v3h-1zM111 220h1v2h-1zM112 222h1v2h-1zM113 222h1v1h-1zM114 221h1v1h-1zM115 220h1v1h-1zM116 219h1v1h-1zM117 220h2v1h-2zM119 221h2v1h-2zM121 219h1v2h-1zM122 218h1v1h-1zM123 216h1v2h-1zM124 215h1v1h-1zM125 213h1v2h-1zM126 211h1v2h-1zM127 209h1v2h-1zM128 206h1v3h-1zM129 204h1v2h-1zM130 201h1v3h-1zM131 199h1v2h-1zM132 197h1v2h-1zM133 195h1v2h-1zM134 193h1v2h-1zM135 191h1v2h-1zM136 190h1v1h-1zM137 188h1v2h-1zM138 187h1v1h-1zM139 185h1v2h-1zM140 184h1v1h-1zM141 182h1v2h-1zM142 181h1v1h-1zM143 179h1v2h-1zM144 178h1v1h-1zM145 177h2v1h-2zM147 176h1v1h-1zM148 175h1v1h-1zM149 176h1v1h-1zM150 177h2v1h-2zM152 178h1v1h-1zM153 179h1v2h-1zM154 181h1v2h-1zM155 183h1v2h-1zM156 185h1v2h-1zM157 186h1v1h-1zM158 187h7v1h-7zM165 188h1v1h-1zM166 189h2v1h-2zM168 189h1v2h-1zM169 186h1v3h-1zM170 183h1v3h-1zM171 180h1v3h-1zM172 176h1v4h-1zM173 172h1v4h-1zM174 167h1v5h-1zM175 163h1v4h-1zM176 159h1v4h-1zM177 156h1v3h-1zM178 152h1v4h-1zM179 149h1v3h-1zM180 146h1v3h-1zM181 144h1v2h-1zM182 141h1v3h-1zM183 139h1v2h-1zM184 137h1v2h-1zM185 135h1v2h-1zM186 133h1v2h-1zM187 131h1v2h-1zM188 129h1v2h-1zM189 130h1v1h-1zM190 131h1v1h-1zM191 132h1v1h-1zM192 133h1v1h-1zM193 134h1v1h-1zM194 135h1v1h-1zM195 136h1v1h-1zM196 137h1v1h-1zM197 138h1v1h-1zM198 139h1v1h-1zM199 140h1v1h-1zM200 141h1v1h-1zM201 142h1v1h-1zM202 143h2v1h-2zM204 144h1v1h-1zM205 143h1v1h-1zM206 142h1v1h-1zM207 141h1v1h-1zM208 139h1v2h-1zM209 137h1v2h-1zM210 134h1v3h-1zM211 132h1v2h-1zM212 130h1v2h-1zM213 128h1v2h-1zM214 126h1v2h-1zM215 124h1v2h-1zM216 123h1v1h-1zM217 122h2v1h-2zM219 121h1v1h-1zM220 120h2v1h-2zM222 119h2v1h-2zM224 118h7v1h-7zM231 117h3v1h-3zM234 118h3v1h-3zM237 116h1v2h-1zM238 115h1v1h-1zM239 113h1v2h-1zM240 112h1v1h-1zM241 111h1v1h-1zM242 110h1v1h-1zM243 109h1v1h-1zM244 108h2v1h-2zM246 107h2v1h-2zM248 106h5v1h-5zM253 107h1v1h-1zM254 108h2v1h-2zM256 109h1v2h-1zM257 111h1v2h-1zM258 113h1v2h-1zM259 115h1v2h-1zM260 117h1v2h-1zM261 119h2v1h-2zM263 120h12v1h-12zM275 119h1v1h-1zM276 118h1v2h-1zM277 115h1v3h-1zM278 112h1v3h-1zM279 109h1v3h-1zM280 107h1v2h-1zM281 106h2v1h-2zM283 105h1v1h-1zM284 104h1v1h-1zM285 103h1v1h-1zM286 101h1v2h-1zM287 100h1v1h-1zM288 99h1v1h-1zM289 97h1v2h-1zM290 96h1v1h-1zM291 94h1v2h-1zM292 93h1v1h-1zM293 91h1v2h-1zM294 89h1v2h-1zM295 87h1v2h-1zM296 86h1v1h-1zM297 87h1v1h-1zM298 88h1v1h-1zM299 89h1v1h-1zM300 90h3v1h-3zM303 89h2v1h-2zM305 90h1v1h-1zM306 91h2v1h-2zM308 92h1v1h-1zM309 93h1v1h-1zM310 94h2v1h-2zM312 95h2v1h-2zM314 96h4v1h-4zM318 95h2v1h-2zM320 94h1v1h-1zM321 93h2v1h-2zM323 92h1v1h-1zM324 91h1v1h-1zM325 90h2v1h-2zM327 89h1v1h-1zM328 88h1v1h-1zM329 87h1v1h-1zM330 86h1v1h-1zM331 85h1v1h-1zM332 84h4v1h-4zM336 84h1v2h-1zM337 86h1v2h-1zM338 88h1v3h-1zM339 91h1v2h-1zM340 93h1v3h-1zM341 96h1v3h-1zM342 99h1v4h-1zM343 103h1v3h-1zM344 106h1v3h-1zM345 109h1v3h-1zM346 112h1v4h-1zM347 116h1v3h-1zM348 119h1v3h-1zM349 122h1v3h-1zM350 125h1v4h-1zM351 129h1v3h-1zM352 132h1v2h-1zM353 134h1v2h-1zM354 136h1v2h-1zM355 138h1v2h-1zM356 140h1v2h-1zM357 140h1v1h-1zM358 139h1v1h-1zM359 138h1v1h-1zM360 137h1v1h-1zM361 135h1v2h-1zM362 133h1v2h-1zM363 131h1v2h-1zM364 129h1v2h-1zM365 126h1v3h-1zM366 124h1v2h-1zM367 121h1v3h-1zM368 118h1v3h-1zM369 116h1v2h-1zM370 114h1v2h-1zM371 112h1v2h-1zM372 110h1v2h-1zM373 108h1v2h-1zM374 106h1v2h-1zM375 104h1v2h-1zM376 103h1v1h-1zM377 102h1v1h-1zM378 100h1v2h-1zM379 99h1v1h-1zM380 98h1v1h-1zM381 99h2v1h-2zM383 100h1v1h-1zM384 100h1v2h-1zM385 102h1v2h-1zM386 104h1v2h-1zM387 106h1v2h-1zM388 108h1v3h-1zM389 111h1v2h-1zM390 113h1v3h-1zM391 116h1v2h-1zM392 118h1v3h-1zM393 121h1v3h-1zM394 124h1v2h-1zM395 126h1v3h-1zM396 129h1v3h-1zM397 132h1v2h-1zM398 134h1v2h-1zM399 136h1v2h-1zM400 138h1v2h-1zM401 139h2v1h-2zM403 138h2v1h-2zM405 136h1v2h-1zM406 135h1v1h-1zM407 133h1v2h-1zM408 131h1v2h-1zM409 128h1v3h-1zM410 126h1v2h-1zM411 123h1v3h-1zM412 120h1v3h-1zM413 117h1v3h-1zM414 114h1v3h-1zM415 111h1v3h-1zM416 108h1v3h-1zM417 105h1v3h-1zM418 102h1v3h-1zM419 99h1v3h-1zM420 97h1v2h-1zM421 96h2v1h-2zM423 95h1v1h-1zM424 94h2v1h-2zM426 93h2v1h-2zM428 92h1v1h-1zM429 93h1v2h-1zM430 95h1v1h-1zM431 96h1v2h-1zM432 98h1v2h-1zM433 100h1v2h-1zM434 102h1v2h-1zM435 104h1v2h-1zM436 106h1v3h-1zM437 109h1v2h-1zM438 111h1v2h-1zM439 113h1v2h-1zM440 115h1v2h-1zM441 117h1v2h-1zM442 119h1v1h-1zM443 120h1v2h-1zM444 122h1v1h-1zM445 123h1v2h-1zM446 125h1v2h-1zM447 127h1v2h-1zM448 129h5v1h-5zM453 128h1v1h-1zM454 126h1v2h-1zM455 125h1v1h-1zM456 124h2v1h-2zM458 123h2v1h-2zM460 122h1v1h-1zM461 120h1v2h-1zM462 119h1v1h-1zM463 117h1v2h-1zM464 115h1v2h-1zM465 112h1v3h-1zM466 110h1v2h-1zM467 107h1v3h-1zM468 105h1v2h-1zM469 103h1v2h-1zM470 101h1v2h-1zM471 99h1v2h-1zM472 97h1v2h-1zM473 95h1v2h-1zM474 93h1v2h-1zM475 91h1v2h-1zM476 89h1v2h-1zM477 87h1v2h-1zM478 85h1v2h-1zM479 83h1v2h-1zM480 81h1v2h-1zM481 80h1v1h-1zM482 79h1v1h-1zM483 78h1v1h-1zM484 77h2v1h-2zM486 76h2v1h-2zM488 75h1v1h-1zM489 74h2v1h-2zM491 73h1v1h-1zM492 72h1v1h-1zM493 73h1v2h-1zM494 75h1v1h-1zM495 76h1v2h-1zM496 78h1v2h-1zM497 80h1v4h-1zM498 84h1v3h-1zM499 87h1v4h-1zM500 91h1v3h-1zM501 94h1v3h-1zM502 97h1v2h-1zM503 99h1v3h-1zM504 102h1v3h-1zM505 105h1v3h-1zM506 108h1v4h-1zM507 112h1v3h-1zM508 115h1v3h-1zM509 118h1v2h-1zM510 120h1v3h-1zM511 123h1v2h-1zM512 125h1v2h-1zM513 127h1v1h-1zM514 128h2v1h-2zM516 129h2v1h-2zM518 128h2v1h-2zM520 127h1v1h-1zM521 128h1v1h-1zM522 129h2v1h-2zM524 130h1v1h-1zM525 131h2v1h-2zM527 132h2v1h-2zM529 133h1v1h-1zM530 134h1v1h-1zM531 135h1v1h-1zM532 136h1v1h-1zM533 137h1v2h-1zM534 139h1v2h-1zM535 141h1v2h-1zM536 143h1v2h-1zM537 145h1v1h-1zM538 146h1v2h-1zM539 148h1v1h-1zM540 149h1v1h-1zM541 150h2v1h-2zM543 151h2v1h-2zM545 152h1v2h-1zM546 154h1v2h-1zM547 156h1v2h-1zM548 158h1v2h-1zM549 160h1v2h-1zM550 162h1v1h-1zM551 163h1v2h-1zM552 165h1v1h-1zM553 166h1v1h-1zM554 167h1v2h-1zM555 169h1v1h-1zM556 170h1v1h-1zM557 171h1v1h-1zM558 172h2v1h-2zM560 173h2v1h-2zM562 174h3v1h-3zM565 173h2v1h-2zM567 172h1v1h-1zM568 171h2v1h-2zM570 172h5v1h-5zM575 171h6v1h-6zM581 172h1v2h-1zM582 174h1v2h-1zM583 176h1v2h-1zM584 178h1v3h-1zM585 181h1v2h-1zM586 183h1v2h-1zM587 185h1v2h-1zM588 187h1v3h-1zM589 190h1v3h-1zM590 193h1v4h-1zM591 197h1v3h-1zM592 200h1v3h-1zM593 203h1v3h-1zM594 206h1v3h-1zM595 209h1v3h-1zM596 212h1v3h-1zM597 215h1v4h-1zM598 219h1v4h-1zM599 223h1v4h-1zM600 227h1v3h-1zM601 230h1v2h-1zM602 232h1v2h-1zM603 234h1v2h-1zM604 236h1v1h-1zM605 237h1v1h-1zM606 238h2v1h-2zM608 239h1v1h-1zM609 238h2v1h-2zM611 237h1v1h-1zM612 236h5v1h-5zM617 235h1v1h-1zM618 233h1v2h-1zM619 232h1v1h-1zM620 231h2v1h-2zM622 230h2v1h-2zM624 229h2v1h-2zM626 228h2v1h-2zM628 227h3v1h-3zM631 226h2v1h-2zM633 225h1v1h-1zM634 223h1v2h-1zM635 222h1v1h-1zM636 221h2v1h-2zM638 222h3v1h-3zM641 223h2v1h-2zM643 224h1v1h-1zM644 224h1v2h-1zM645 226h1v2h-1zM646 228h1v2h-1zM647 230h1v2h-1zM648 232h1v3h-1zM649 235h1v2h-1zM650 237h1v3h-1zM651 240h1v2h-1zM652 242h1v2h-1zM653 244h1v1h-1zM654 245h1v2h-1zM655 247h1v1h-1zM656 248h1v1h-1zM657 249h1v1h-1zM658 250h1v1h-1zM659 251h1v1h-1zM660 252h3v1h-3zM663 251h2v1h-2zM665 250h2v1h-2zM667 249h1v1h-1zM668 248h1v1h-1zM669 246h1v2h-1zM670 244h1v2h-1zM671 242h1v2h-1zM672 241h3v1h-3zM675 240h2v1h-2zM677 239h1v1h-1zM678 238h1v1h-1zM679 237h1v1h-1zM680 236h3v1h-3zM683 235h3v1h-3zM686 234h2v1h-2zM688 233h1v1h-1zM689 232h1v1h-1zM690 231h1v1h-1zM691 230h1v1h-1zM692 229h1v1h-1zM693 227h1v2h-1zM694 225h1v2h-1zM695 223h1v2h-1zM696 222h1v1h-1zM697 223h1v1h-1zM698 224h2v1h-2zM700 225h1v1h-1zM701 226h1v2h-1zM702 228h1v2h-1zM703 230h1v2h-1zM704 232h1v1h-1zM705 233h1v2h-1zM706 235h1v2h-1zM707 237h1v2h-1zM708 239h1v2h-1zM709 241h1v2h-1zM710 243h1v2h-1zM711 245h1v2h-1zM712 247h1v2h-1zM713 249h1v2h-1zM714 251h1v1h-1zM715 252h1v2h-1zM716 254h1v1h-1zM717 253h1v1h-1zM718 251h1v2h-1zM719 250h1v1h-1zM720 248h1v2h-1zM721 245h1v3h-1zM722 242h1v3h-1zM723 239h1v3h-1zM724 236h1v3h-1zM725 232h1v4h-1zM726 229h1v3h-1zM727 225h1v4h-1zM728 222h1v3h-1zM729 219h1v3h-1zM730 215h1v4h-1zM731 212h1v3h-1zM732 210h1v2h-1zM733 208h1v2h-1zM734 206h1v2h-1zM735 204h1v2h-1zM736 202h1v2h-1zM737 201h1v1h-1zM738 199h1v2h-1zM739 198h1v1h-1zM740 197h2v1h-2zM742 196h2v1h-2zM744 195h2v1h-2zM746 194h2v1h-2zM748 193h1v1h-1zM749 192h1v1h-1zM750 190h1v2h-1zM751 189h1v1h-1zM752 188h1v1h-1zM753 187h1v1h-1zM754 185h1v2h-1zM755 184h1v1h-1zM756 183h1v1h-1zM757 182h1v1h-1zM758 180h1v2h-1zM759 179h1v1h-1zM760 178h1v1h-1zM761 176h1v2h-1zM762 175h1v1h-1zM763 173h1v2h-1zM764 172h1v1h-1zM765 171h1v1h-1zM766 169h1v2h-1zM767 168h1v1h-1zM768 167h3v1h-3zM771 166h2v1h-2zM773 167h1v1h-1zM774 168h2v1h-2zM776 169h1v1h-1zM777 170h1v1h-1zM778 171h1v2h-1zM779 173h1v1h-1zM780 174h1v1h-1zM781 175h1v1h-1zM782 176h1v1h-1zM783 177h1v1h-1zM784 178h1v1h-1zM785 179h1v2h-1zM786 181h1v2h-1zM787 183h1v2h-1zM788 185h1v1h-1zM789 186h1v2h-1zM790 188h1v1h-1zM791 189h1v2h-1zM792 191h1v2h-1zM793 193h1v2h-1zM794 195h1v2h-1zM795 197h1v2h-1zM796 199h1v3h-1zM797 202h1v3h-1zM798 205h1v2h-1zM799 207h1v3h-1zM800 210h1v3h-1zM801 213h1v3h-1zM802 216h1v4h-1zM803 220h1v3h-1zM804 223h1v4h-1zM805 227h1v5h-1zM806 232h1v4h-1zM807 236h1v5h-1zM808 241h1v5h-1zM809 246h1v6h-1zM810 252h1v6h-1zM811 258h1v6h-1zM812 264h1v6h-1zM813 270h1v4h-1zM814 274h1v4h-1zM815 278h1v4h-1zM816 282h1v5h-1zM817 287h1v5h-1zM818 292h1v5h-1zM819 297h1v5h-1zM820 302h1v6h-1zM821 308h1v8h-1zM822 316h1v8h-1zM823 324h1v8h-1zM824 332h1v7h-1zM825 339h1v6h-1zM826 345h1v6h-1zM827 351h1v6h-1zM828 357h1v7h-1zM829 364h1v7h-1zM830 371h1v8h-1zM831 379h1v7h-1zM832 386h1v7h-1zM833 393h1v6h-1zM834 399h1v6h-1zM835 405h1v6h-1zM836 411h1v5h-1zM837 416h1v3h-1zM838 419h1v4h-1zM839 423h1v3h-1zM840 425h1v3h-1zM841 421h1v4h-1zM842 416h1v5h-1zM843 412h1v4h-1zM844 407h1v5h-1zM845 402h1v5h-1zM846 398h1v4h-1zM847 393h1v5h-1zM848 387h1v6h-1zM849 380h1v7h-1zM850 373h1v7h-1zM851 366h1v7h-1zM852 361h1v5h-1zM853 357h1v4h-1zM854 353h1v4h-1zM855 349h1v4h-1zM856 343h1v6h-1zM857 336h1v7h-1zM858 328h1v8h-1zM859 321h1v7h-1zM860 315h1v6h-1zM861 310h1v5h-1zM862 304h1v6h-1zM863 299h1v5h-1zM864 292h1v7h-1zM865 284h1v8h-1zM866 275h1v9h-1zM867 267h1v8h-1zM868 258h1v9h-1zM869 249h1v9h-1zM870 241h1v8h-1zM871 232h1v9h-1zM872 222h1v10h-1zM873 210h1v12h-1zM874 198h1v12h-1zM875 186h1v12h-1zM876 178h1v8h-1zM877 173h1v5h-1zM878 168h1v5h-1zM879 163h1v5h-1zM880 159h1v4h-1zM881 157h1v2h-1zM882 155h1v2h-1zM883 153h1v2h-1zM884 151h1v2h-1zM885 152h1v2h-1zM886 154h1v2h-1zM887 156h1v2h-1zM888 158h1v3h-1zM889 161h1v6h-1zM890 167h1v6h-1zM891 173h1v6h-1zM892 179h1v8h-1zM893 187h1v9h-1zM894 196h1v10h-1zM895 206h1v9h-1zM896 215h1v9h-1zM897 224h1v8h-1zM898 232h1v8h-1zM899 240h1v8h-1zM900 248h1v7h-1zM901 255h1v6h-1zM902 261h1v6h-1zM903 267h1v6h-1zM904 273h1v5h-1zM905 278h1v4h-1zM906 282h1v4h-1zM907 286h1v4h-1zM908 290h1v3h-1zM909 291h2v1h-2zM911 290h1v1h-1zM912 287h1v3h-1zM913 282h1v5h-1zM914 278h1v4h-1zM915 273h1v5h-1zM916 267h1v6h-1zM917 260h1v7h-1zM918 254h1v6h-1zM919 247h1v7h-1zM920 241h1v6h-1zM921 237h1v4h-1zM922 233h1v4h-1zM923 229h1v4h-1zM924 225h1v4h-1zM925 221h1v4h-1zM926 217h1v4h-1zM927 213h1v4h-1zM928 210h1v3h-1zM929 209h2v1h-2zM931 208h1v1h-1zM932 207h1v1h-1zM933 208h2v1h-2zM935 209h1v1h-1zM936 209h1v2h-1zM937 211h1v3h-1zM938 214h1v3h-1zM939 217h1v3h-1zM940 220h1v3h-1zM941 223h1v3h-1zM942 226h1v4h-1zM943 230h1v3h-1zM944 233h1v3h-1zM945 236h1v3h-1zM946 239h1v4h-1zM947 243h1v3h-1zM948 246h1v2h-1zM949 248h1v1h-1zM950 249h1v1h-1zM951 250h1v1h-1zM952 251h1v2h-1zM953 253h1v3h-1zM954 256h1v2h-1zM955 258h1v3h-1zM956 261h1v2h-1zM957 263h2v1h-2zM959 264h2v1h-2zM961 263h1v1h-1zM962 261h1v2h-1zM963 260h1v1h-1zM964 259h3v1h-3zM967 258h4v1h-4zM971 257h2v1h-2zM973 255h1v2h-1zM974 253h1v2h-1zM975 251h1v2h-1zM976 250h1v1h-1zM977 249h1v1h-1zM978 247h1v2h-1zM979 246h1v1h-1zM980 245h2v1h-2zM982 244h2v1h-2zM984 243h1v1h-1zM985 241h1v2h-1zM986 239h1v2h-1zM987 237h1v2h-1zM988 235h1v2h-1zM989 233h1v2h-1zM990 231h1v2h-1zM991 229h1v2h-1zM992 226h1v3h-1zM993 224h1v2h-1zM994 222h1v2h-1zM995 220h1v2h-1zM996 218h1v2h-1zM997 216h1v2h-1zM998 214h1v2h-1zM999 212h1v2h-1zM1000 211h1v1h-1zM1001 210h1v1h-1zM1002 209h1v1h-1zM1003 208h1v1h-1zM1004 207h3v1h-3zM1007 206h2v1h-2zM1009 207h1v2h-1zM1010 209h1v2h-1zM1011 211h1v2h-1zM1012 213h1v4h-1zM1013 217h1v4h-1zM1014 221h1v4h-1zM1015 225h1v4h-1zM1016 229h1v4h-1zM1017 233h1v4h-1zM1018 237h1v4h-1zM1019 241h1v4h-1zM1020 245h1v4h-1zM1021 249h1v2h-1zM1022 251h1v3h-1zM1023 254h1v2h-1zM1024 256h1v2h-1zM1025 258h1v1h-1zM1026 259h2v1h-2zM1028 260h1v1h-1zM1029 258h1v2h-1zM1030 256h1v2h-1zM1031 254h1v2h-1zM1032 251h1v3h-1zM1033 247h1v4h-1zM1034 243h1v4h-1zM1035 239h1v4h-1zM1036 235h1v4h-1zM1037 232h1v3h-1zM1038 230h1v2h-1zM1039 227h1v3h-1zM1040 225h1v2h-1zM1041 223h1v2h-1zM1042 222h1v1h-1zM1043 220h1v2h-1zM1044 219h5v1h-5zM1049 220h1v2h-1zM1050 222h1v1h-1zM1051 223h1v2h-1zM1052 225h1v1h-1zM1053 226h1v1h-1zM1054 227h1v2h-1zM1055 229h1v1h-1zM1056 230h2v1h-2zM1058 229h2v1h-2zM1060 228h2v1h-2zM1062 227h2v1h-2zM1064 226h6v1h-6zM1070 225h2v1h-2zM1072 224h1v1h-1zM1073 223h2v1h-2zM1075 222h1v1h-1zM1076 221h1v2h-1zM1077 223h1v2h-1zM1078 225h1v2h-1zM1079 227h1v2h-1zM1080 229h1v2h-1zM1081 231h2v1h-2zM1083 232h7v1h-7zM1090 231h2v1h-2zM1092 230h1v1h-1zM1093 231h2v1h-2zM1095 232h3v1h-3zM1098 231h2v1h-2zM1100 230h2v1h-2zM1102 231h2v1h-2zM1104 231h1v2h-1zM1105 233h1v2h-1zM1106 235h1v2h-1zM1107 237h1v2h-1zM1108 239h1v3h-1zM1109 242h1v3h-1zM1110 245h1v3h-1zM1111 248h1v3h-1zM1112 251h1v3h-1zM1113 254h1v2h-1zM1114 256h1v3h-1zM1115 259h1v2h-1zM1116 261h1v2h-1zM1117 263h1v2h-1zM1118 265h1v1h-1zM1119 266h1v2h-1zM1120 268h1v1h-1zM1121 269h1v2h-1zM1122 271h1v2h-1zM1123 273h1v2h-1zM1124 275h1v2h-1zM1125 277h1v1h-1zM1126 278h2v1h-2zM1128 279h1v1h-1zM1129 280h1v2h-1zM1130 282h1v1h-1zM1131 283h1v2h-1zM1132 285h3v1h-3zM1135 284h4v1h-4zM1139 283h2v1h-2zM1141 284h1v2h-1zM1142 286h1v1h-1zM1143 287h1v2h-1zM1144 289h1v2h-1zM1145 291h1v4h-1zM1146 295h1v3h-1zM1147 298h1v4h-1zM1148 302h1v3h-1zM1149 305h1v3h-1zM1150 308h1v4h-1zM1151 312h1v3h-1zM1152 315h1v5h-1zM1153 320h1v7h-1zM1154 327h1v6h-1zM1155 333h1v7h-1zM1156 340h1v5h-1zM1157 345h1v3h-1zM1158 348h1v3h-1zM1159 351h1v3h-1zM1160 354h1v2h-1zM1161 356h1v1h-1zM1162 357h2v1h-2zM1164 358h2v1h-2zM1166 357h2v1h-2zM1168 356h1v1h-1zM1169 355h1v1h-1zM1170 353h1v2h-1zM1171 352h1v1h-1zM1172 350h1v2h-1zM1173 346h1v4h-1zM1174 343h1v3h-1zM1175 339h1v4h-1zM1176 337h1v2h-1zM1177 337h4v1h-4zM1181 338h1v1h-1zM1182 339h2v1h-2zM1184 340h3v1h-3zM1187 339h2v1h-2zM1189 340h2v1h-2zM1191 341h2v1h-2zM1193 342h1v2h-1zM1194 344h1v2h-1zM1195 346h1v2h-1zM1196 348h1v1h-1zM1197 349h1v1h-1zM1198 350h1v2h-1zM1199 352h1v1h-1zM1200 353h1v1h-1zM1201 354h1v1h-1zM1202 355h1v1h-1zM1203 356h1v1h-1zM1204 357h1v1h-1zM1205 358h1v1h-1zM1206 359h1v1h-1zM1207 360h1v1h-1zM1208 361h3v1h-3zM1211 360h2v1h-2zM1213 358h1v2h-1zM1214 356h1v2h-1zM1215 354h1v2h-1zM1216 353h2v1h-2zM1218 354h3v1h-3zM1221 355h1v1h-1zM1222 356h2v1h-2zM1224 357h1v1h-1zM1225 358h1v1h-1zM1226 359h2v1h-2zM1228 360h1v1h-1zM1229 361h2v1h-2zM1231 362h2v1h-2zM1233 363h1v2h-1zM1234 365h1v2h-1zM1235 367h1v2h-1zM1236 369h1v1h-1zM1237 370h1v1h-1zM1238 371h1v2h-1zM1239 373h1v1h-1zM1240 374h1v1h-1zM1241 375h1v1h-1zM1242 376h1v2h-1zM1243 378h1v1h-1zM1244 379h1v2h-1zM1245 381h1v2h-1zM1246 383h1v2h-1zM1247 385h1v2h-1zM1248 387h1v2h-1zM1249 389h1v2h-1zM1250 391h1v1h-1zM1251 392h1v2h-1zM1252 394h1v1h-1zM1253 395h1v2h-1zM1254 397h1v1h-1zM1255 398h1v2h-1zM1256 400h9v1h-9zM1265 399h1v1h-1zM1266 397h1v2h-1zM1267 396h1v1h-1z" fill="#ffa500"/>
<rect x="4" y="176" width="1592" height="2" fill="#ff0000"/>
<rect x="4" y="243" width="1592" height="2" fill="#ff0000"/>
<rect x="4" y="301" width="1592" height="2" fill="#00ff00"/>
<rect x="4" y="376" width="1592" height="2" fill="#0000ff"/>
<rect x="4" y="454" width="1592" height="2" fill="#0000ff"/>
</g>
<rect x="3" y="174" width="6" height="6" fill="#ff0000"/>
<rect x="5" y="176" width="2" height="2" fill="#fff"/>
<rect x="1590" y="174" width="6" height="6" fill="#ff0000"/>
<rect x="1592" y="176" width="2" height="2" fill="#fff"/>
<rect x="3" y="299" width="6" height="6" fill="#00ff00"/>
<rect x="5" y="301" width="2" height="2" fill="#fff"/>
<rect x="1590" y="299" width="6" height="6" fill="#00ff00"/>
<rect x="1592" y="301" width="2" height="2" fill="#fff"/>
<rect x="3" y="374" width="6" height="6" fill="#0000ff"/>
<rect x="5" y="376" width="2" height="2" fill="#fff"/>
<rect x="1590" y="374" width="6" height="6" fill="#0000ff"/>
<rect x="1592" y="376" width="2" height="2" fill="#fff"/>
<rect x="3" y="452" width="6" height="6" fill="#0000ff"/>
<rect x="5" y="454" width="2" height="2" fill="#fff"/>
<rect x="1590" y="452" width="6" height="6" fill="#0000ff"/>
<rect x="1592" y="454" width="2" height="2" fill="#fff"/>
<rect x="1598" y="171" width="40" height="11" fill="#ff0000"/>
<text transform="translate(1602.3,179.7) scale(0.9364,1)" font-size="9.75" fill="#fff" stroke="#fff" stroke-width="0.18" text-anchor="start">0.98008</text>
<rect x="1598" y="238" width="40" height="11" fill="#ff0000"/>
<text transform="translate(1602.3,246.7) scale(0.9364,1)" font-size="9.75" fill="#fff" stroke="#fff" stroke-width="0.18" text-anchor="start">0.96803</text>
<rect x="1598" y="296" width="40" height="11" fill="#00ff00"/>
<text transform="translate(1602.3,304.7) scale(0.9364,1)" font-size="9.75" fill="#fff" stroke="#fff" stroke-width="0.18" text-anchor="start">0.95758</text>
<rect x="1598" y="371" width="40" height="11" fill="#0000ff"/>
<text transform="translate(1602.3,379.7) scale(0.9364,1)" font-size="9.75" fill="#fff" stroke="#fff" stroke-width="0.18" text-anchor="start">0.94408</text>
<rect x="1598" y="449" width="40" height="11" fill="#0000ff"/>
<text transform="translate(1602.3,457.7) scale(0.9364,1)" font-size="9.75" fill="#fff" stroke="#fff" stroke-width="0.18" text-anchor="start">0.93004</text>
<rect x="1598" y="384" width="40" height="11" fill="#000"/>
<text transform="translate(1602.3,392.7) scale(0.9364,1)" font-size="9.75" fill="#fff" stroke="#fff" stroke-width="0.18" text-anchor="start">0.94185</text>
<g clip-path="url(#cr)">
<path d="M5 563h3v1h-3zM11 563h3v1h-3zM17 563h3v1h-3zM23 563h3v1h-3zM29 563h3v1h-3zM35 563h3v1h-3zM41 563h3v1h-3zM47 563h3v1h-3zM53 563h3v1h-3zM59 563h3v1h-3zM65 563h3v1h-3zM71 563h3v1h-3zM77 563h3v1h-3zM83 563h3v1h-3zM89 563h3v1h-3zM95 563h3v1h-3zM101 563h3v1h-3zM107 563h3v1h-3zM113 563h3v1h-3zM119 563h3v1h-3zM125 563h3v1h-3zM131 563h3v1h-3zM137 563h3v1h-3zM143 563h3v1h-3zM149 563h3v1h-3zM155 563h3v1h-3zM161 563h3v1h-3zM167 563h3v1h-3zM173 563h3v1h-3zM179 563h3v1h-3zM185 563h3v1h-3zM191 563h3v1h-3zM197 563h3v1h-3zM203 563h3v1h-3zM209 563h3v1h-3zM215 563h3v1h-3zM221 563h3v1h-3zM227 563h3v1h-3zM233 563h3v1h-3zM239 563h3v1h-3zM245 563h3v1h-3zM251 563h3v1h-3zM257 563h3v1h-3zM263 563h3v1h-3zM269 563h3v1h-3zM275 563h3v1h-3zM281 563h3v1h-3zM287 563h3v1h-3zM293 563h3v1h-3zM299 563h3v1h-3zM305 563h3v1h-3zM311 563h3v1h-3zM317 563h3v1h-3zM323 563h3v1h-3zM329 563h3v1h-3zM335 563h3v1h-3zM341 563h3v1h-3zM347 563h3v1h-3zM353 563h3v1h-3zM359 563h3v1h-3zM365 563h3v1h-3zM371 563h3v1h-3zM377 563h3v1h-3zM383 563h3v1h-3zM389 563h3v1h-3zM395 563h3v1h-3zM401 563h3v1h-3zM407 563h3v1h-3zM413 563h3v1h-3zM419 563h3v1h-3zM425 563h3v1h-3zM431 563h3v1h-3zM437 563h3v1h-3zM443 563h3v1h-3zM449 563h3v1h-3zM455 563h3v1h-3zM461 563h3v1h-3zM467 563h3v1h-3zM473 563h3v1h-3zM479 563h3v1h-3zM485 563h3v1h-3zM491 563h3v1h-3zM497 563h3v1h-3zM503 563h3v1h-3zM509 563h3v1h-3zM515 563h3v1h-3zM521 563h3v1h-3zM527 563h3v1h-3zM533 563h3v1h-3zM539 563h3v1h-3zM545 563h3v1h-3zM551 563h3v1h-3zM557 563h3v1h-3zM563 563h3v1h-3zM569 563h3v1h-3zM575 563h3v1h-3zM581 563h3v1h-3zM587 563h3v1h-3zM593 563h3v1h-3zM599 563h3v1h-3zM605 563h3v1h-3zM611 563h3v1h-3zM617 563h3v1h-3zM623 563h3v1h-3zM629 563h3v1h-3zM635 563h3v1h-3zM641 563h3v1h-3zM647 563h3v1h-3zM653 563h3v1h-3zM659 563h3v1h-3zM665 563h3v1h-3zM671 563h3v1h-3zM677 563h3v1h-3zM683 563h3v1h-3zM689 563h3v1h-3zM695 563h3v1h-3zM701 563h3v1h-3zM707 563h3v1h-3zM713 563h3v1h-3zM719 563h3v1h-3zM725 563h3v1h-3zM731 563h3v1h-3zM737 563h3v1h-3zM743 563h3v1h-3zM749 563h3v1h-3zM755 563h3v1h-3zM761 563h3v1h-3zM767 563h3v1h-3zM773 563h3v1h-3zM779 563h3v1h-3zM785 563h3v1h-3zM791 563h3v1h-3zM797 563h3v1h-3zM803 563h3v1h-3zM809 563h3v1h-3zM815 563h3v1h-3zM821 563h3v1h-3zM827 563h3v1h-3zM833 563h3v1h-3zM839 563h3v1h-3zM845 563h3v1h-3zM851 563h3v1h-3zM857 563h3v1h-3zM863 563h3v1h-3zM869 563h3v1h-3zM875 563h3v1h-3zM881 563h3v1h-3zM887 563h3v1h-3zM893 563h3v1h-3zM899 563h3v1h-3zM905 563h3v1h-3zM911 563h3v1h-3zM917 563h3v1h-3zM923 563h3v1h-3zM929 563h3v1h-3zM935 563h3v1h-3zM941 563h3v1h-3zM947 563h3v1h-3zM953 563h3v1h-3zM959 563h3v1h-3zM965 563h3v1h-3zM971 563h3v1h-3zM977 563h3v1h-3zM983 563h3v1h-3zM989 563h3v1h-3zM995 563h3v1h-3zM1001 563h3v1h-3zM1007 563h3v1h-3zM1013 563h3v1h-3zM1019 563h3v1h-3zM1025 563h3v1h-3zM1031 563h3v1h-3zM1037 563h3v1h-3zM1043 563h3v1h-3zM1049 563h3v1h-3zM1055 563h3v1h-3zM1061 563h3v1h-3zM1067 563h3v1h-3zM1073 563h3v1h-3zM1079 563h3v1h-3zM1085 563h3v1h-3zM1091 563h3v1h-3zM1097 563h3v1h-3zM1103 563h3v1h-3zM1109 563h3v1h-3zM1115 563h3v1h-3zM1121 563h3v1h-3zM1127 563h3v1h-3zM1133 563h3v1h-3zM1139 563h3v1h-3zM1145 563h3v1h-3zM1151 563h3v1h-3zM1157 563h3v1h-3zM1163 563h3v1h-3zM1169 563h3v1h-3zM1175 563h3v1h-3zM1181 563h3v1h-3zM1187 563h3v1h-3zM1193 563h3v1h-3zM1199 563h3v1h-3zM1205 563h3v1h-3zM1211 563h3v1h-3zM1217 563h3v1h-3zM1223 563h3v1h-3zM1229 563h3v1h-3zM1235 563h3v1h-3zM1241 563h3v1h-3zM1247 563h3v1h-3zM1253 563h3v1h-3zM1259 563h3v1h-3zM1265 563h3v1h-3zM1271 563h3v1h-3zM1277 563h3v1h-3zM1283 563h3v1h-3zM1289 563h3v1h-3zM1295 563h3v1h-3zM1301 563h3v1h-3zM1307 563h3v1h-3zM1313 563h3v1h-3zM1319 563h3v1h-3zM1325 563h3v1h-3zM1331 563h3v1h-3zM1337 563h3v1h-3zM1343 563h3v1h-3zM1349 563h3v1h-3zM1355 563h3v1h-3zM1361 563h3v1h-3zM1367 563h3v1h-3zM1373 563h3v1h-3zM1379 563h3v1h-3zM1385 563h3v1h-3zM1391 563h3v1h-3zM1397 563h3v1h-3zM1403 563h3v1h-3zM1409 563h3v1h-3zM1415 563h3v1h-3zM1421 563h3v1h-3zM1427 563h3v1h-3zM1433 563h3v1h-3zM1439 563h3v1h-3zM1445 563h3v1h-3zM1451 563h3v1h-3zM1457 563h3v1h-3zM1463 563h3v1h-3zM1469 563h3v1h-3zM1475 563h3v1h-3zM1481 563h3v1h-3zM1487 563h3v1h-3zM1493 563h3v1h-3zM1499 563h3v1h-3zM1505 563h3v1h-3zM1511 563h3v1h-3zM1517 563h3v1h-3zM1523 563h3v1h-3zM1529 563h3v1h-3zM1535 563h3v1h-3zM1541 563h3v1h-3zM1547 563h3v1h-3zM1553 563h3v1h-3zM1559 563h3v1h-3zM1565 563h3v1h-3zM1571 563h3v1h-3zM1577 563h3v1h-3zM1583 563h3v1h-3zM1589 563h3v1h-3zM1595 563h1v1h-1z" fill="#c0c0c0"/>
<path d="M5 599h3v1h-3zM11 599h3v1h-3zM17 599h3v1h-3zM23 599h3v1h-3zM29 599h3v1h-3zM35 599h3v1h-3zM41 599h3v1h-3zM47 599h3v1h-3zM53 599h3v1h-3zM59 599h3v1h-3zM65 599h3v1h-3zM71 599h3v1h-3zM77 599h3v1h-3zM83 599h3v1h-3zM89 599h3v1h-3zM95 599h3v1h-3zM101 599h3v1h-3zM107 599h3v1h-3zM113 599h3v1h-3zM119 599h3v1h-3zM125 599h3v1h-3zM131 599h3v1h-3zM137 599h3v1h-3zM143 599h3v1h-3zM149 599h3v1h-3zM155 599h3v1h-3zM161 599h3v1h-3zM167 599h3v1h-3zM173 599h3v1h-3zM179 599h3v1h-3zM185 599h3v1h-3zM191 599h3v1h-3zM197 599h3v1h-3zM203 599h3v1h-3zM209 599h3v1h-3zM215 599h3v1h-3zM221 599h3v1h-3zM227 599h3v1h-3zM233 599h3v1h-3zM239 599h3v1h-3zM245 599h3v1h-3zM251 599h3v1h-3zM257 599h3v1h-3zM263 599h3v1h-3zM269 599h3v1h-3zM275 599h3v1h-3zM281 599h3v1h-3zM287 599h3v1h-3zM293 599h3v1h-3zM299 599h3v1h-3zM305 599h3v1h-3zM311 599h3v1h-3zM317 599h3v1h-3zM323 599h3v1h-3zM329 599h3v1h-3zM335 599h3v1h-3zM341 599h3v1h-3zM347 599h3v1h-3zM353 599h3v1h-3zM359 599h3v1h-3zM365 599h3v1h-3zM371 599h3v1h-3zM377 599h3v1h-3zM383 599h3v1h-3zM389 599h3v1h-3zM395 599h3v1h-3zM401 599h3v1h-3zM407 599h3v1h-3zM413 599h3v1h-3zM419 599h3v1h-3zM425 599h3v1h-3zM431 599h3v1h-3zM437 599h3v1h-3zM443 599h3v1h-3zM449 599h3v1h-3zM455 599h3v1h-3zM461 599h3v1h-3zM467 599h3v1h-3zM473 599h3v1h-3zM479 599h3v1h-3zM485 599h3v1h-3zM491 599h3v1h-3zM497 599h3v1h-3zM503 599h3v1h-3zM509 599h3v1h-3zM515 599h3v1h-3zM521 599h3v1h-3zM527 599h3v1h-3zM533 599h3v1h-3zM539 599h3v1h-3zM545 599h3v1h-3zM551 599h3v1h-3zM557 599h3v1h-3zM563 599h3v1h-3zM569 599h3v1h-3zM575 599h3v1h-3zM581 599h3v1h-3zM587 599h3v1h-3zM593 599h3v1h-3zM599 599h3v1h-3zM605 599h3v1h-3zM611 599h3v1h-3zM617 599h3v1h-3zM623 599h3v1h-3zM629 599h3v1h-3zM635 599h3v1h-3zM641 599h3v1h-3zM647 599h3v1h-3zM653 599h3v1h-3zM659 599h3v1h-3zM665 599h3v1h-3zM671 599h3v1h-3zM677 599h3v1h-3zM683 599h3v1h-3zM689 599h3v1h-3zM695 599h3v1h-3zM701 599h3v1h-3zM707 599h3v1h-3zM713 599h3v1h-3zM719 599h3v1h-3zM725 599h3v1h-3zM731 599h3v1h-3zM737 599h3v1h-3zM743 599h3v1h-3zM749 599h3v1h-3zM755 599h3v1h-3zM761 599h3v1h-3zM767 599h3v1h-3zM773 599h3v1h-3zM779 599h3v1h-3zM785 599h3v1h-3zM791 599h3v1h-3zM797 599h3v1h-3zM803 599h3v1h-3zM809 599h3v1h-3zM815 599h3v1h-3zM821 599h3v1h-3zM827 599h3v1h-3zM833 599h3v1h-3zM839 599h3v1h-3zM845 599h3v1h-3zM851 599h3v1h-3zM857 599h3v1h-3zM863 599h3v1h-3zM869 599h3v1h-3zM875 599h3v1h-3zM881 599h3v1h-3zM887 599h3v1h-3zM893 599h3v1h-3zM899 599h3v1h-3zM905 599h3v1h-3zM911 599h3v1h-3zM917 599h3v1h-3zM923 599h3v1h-3zM929 599h3v1h-3zM935 599h3v1h-3zM941 599h3v1h-3zM947 599h3v1h-3zM953 599h3v1h-3zM959 599h3v1h-3zM965 599h3v1h-3zM971 599h3v1h-3zM977 599h3v1h-3zM983 599h3v1h-3zM989 599h3v1h-3zM995 599h3v1h-3zM1001 599h3v1h-3zM1007 599h3v1h-3zM1013 599h3v1h-3zM1019 599h3v1h-3zM1025 599h3v1h-3zM1031 599h3v1h-3zM1037 599h3v1h-3zM1043 599h3v1h-3zM1049 599h3v1h-3zM1055 599h3v1h-3zM1061 599h3v1h-3zM1067 599h3v1h-3zM1073 599h3v1h-3zM1079 599h3v1h-3zM1085 599h3v1h-3zM1091 599h3v1h-3zM1097 599h3v1h-3zM1103 599h3v1h-3zM1109 599h3v1h-3zM1115 599h3v1h-3zM1121 599h3v1h-3zM1127 599h3v1h-3zM1133 599h3v1h-3zM1139 599h3v1h-3zM1145 599h3v1h-3zM1151 599h3v1h-3zM1157 599h3v1h-3zM1163 599h3v1h-3zM1169 599h3v1h-3zM1175 599h3v1h-3zM1181 599h3v1h-3zM1187 599h3v1h-3zM1193 599h3v1h-3zM1199 599h3v1h-3zM1205 599h3v1h-3zM1211 599h3v1h-3zM1217 599h3v1h-3zM1223 599h3v1h-3zM1229 599h3v1h-3zM1235 599h3v1h-3zM1241 599h3v1h-3zM1247 599h3v1h-3zM1253 599h3v1h-3zM1259 599h3v1h-3zM1265 599h3v1h-3zM1271 599h3v1h-3zM1277 599h3v1h-3zM1283 599h3v1h-3zM1289 599h3v1h-3zM1295 599h3v1h-3zM1301 599h3v1h-3zM1307 599h3v1h-3zM1313 599h3v1h-3zM1319 599h3v1h-3zM1325 599h3v1h-3zM1331 599h3v1h-3zM1337 599h3v1h-3zM1343 599h3v1h-3zM1349 599h3v1h-3zM1355 599h3v1h-3zM1361 599h3v1h-3zM1367 599h3v1h-3zM1373 599h3v1h-3zM1379 599h3v1h-3zM1385 599h3v1h-3zM1391 599h3v1h-3zM1397 599h3v1h-3zM1403 599h3v1h-3zM1409 599h3v1h-3zM1415 599h3v1h-3zM1421 599h3v1h-3zM1427 599h3v1h-3zM1433 599h3v1h-3zM1439 599h3v1h-3zM1445 599h3v1h-3zM1451 599h3v1h-3zM1457 599h3v1h-3zM1463 599h3v1h-3zM1469 599h3v1h-3zM1475 599h3v1h-3zM1481 599h3v1h-3zM1487 599h3v1h-3zM1493 599h3v1h-3zM1499 599h3v1h-3zM1505 599h3v1h-3zM1511 599h3v1h-3zM1517 599h3v1h-3zM1523 599h3v1h-3zM1529 599h3v1h-3zM1535 599h3v1h-3zM1541 599h3v1h-3zM1547 599h3v1h-3zM1553 599h3v1h-3zM1559 599h3v1h-3zM1565 599h3v1h-3zM1571 599h3v1h-3zM1577 599h3v1h-3zM1583 599h3v1h-3zM1589 599h3v1h-3zM1595 599h1v1h-1z" fill="#c0c0c0"/>
<path d="M4 582h1v1h-1zM5 583h1v1h-1zM6 584h1v2h-1zM7 586h1v1h-1zM8 587h7v1h-7zM15 586h2v1h-2zM17 584h1v2h-1zM18 583h1v1h-1zM19 581h1v2h-1zM20 580h1v1h-1zM21 581h1v1h-1zM22 582h2v1h-2zM24 583h2v1h-2zM26 584h3v1h-3zM29 585h1v1h-1zM30 586h1v2h-1zM31 588h1v1h-1zM32 589h3v1h-3zM35 588h2v1h-2zM37 589h2v1h-2zM39 590h2v1h-2zM41 588h1v2h-1zM42 587h1v1h-1zM43 585h1v2h-1zM44 584h3v1h-3zM47 583h2v1h-2zM49 581h1v2h-1zM50 580h1v1h-1zM51 578h1v2h-1zM52 577h1v1h-1zM53 576h1v1h-1zM54 575h1v1h-1zM55 574h1v1h-1zM56 573h3v1h-3zM59 572h2v1h-2zM61 573h1v1h-1zM62 574h1v1h-1zM63 575h1v1h-1zM64 576h2v1h-2zM66 577h4v1h-4zM70 578h3v1h-3zM73 577h1v1h-1zM74 575h1v2h-1zM75 574h1v1h-1zM76 573h1v2h-1zM77 575h1v4h-1zM78 579h1v4h-1zM79 583h1v4h-1zM80 587h1v3h-1zM81 589h2v1h-2zM83 588h1v1h-1zM84 588h1v2h-1zM85 590h1v2h-1zM86 592h1v2h-1zM87 594h1v2h-1zM88 596h1v2h-1zM89 595h1v2h-1zM90 593h1v2h-1zM91 591h1v2h-1zM92 589h1v2h-1zM93 590h1v1h-1zM94 591h1v2h-1zM95 593h1v1h-1zM96 594h1v1h-1zM97 593h1v1h-1zM98 591h1v2h-1zM99 590h1v1h-1zM100 589h1v1h-1zM101 590h1v1h-1zM102 591h2v1h-2zM104 592h3v1h-3zM107 591h2v1h-2zM109 592h2v1h-2zM111 593h2v1h-2zM113 591h1v2h-1zM114 590h1v1h-1zM115 588h1v2h-1zM116 587h2v1h-2zM118 588h3v1h-3zM121 587h2v1h-2zM123 586h1v1h-1zM124 585h1v1h-1zM125 584h1v1h-1zM126 583h1v1h-1zM127 582h1v1h-1zM128 581h1v1h-1zM129 582h2v1h-2zM131 583h2v1h-2zM133 582h2v1h-2zM135 581h1v1h-1zM136 580h1v1h-1zM137 581h2v1h-2zM139 582h3v1h-3zM142 581h2v1h-2zM144 580h2v1h-2zM146 579h2v1h-2zM148 578h1v1h-1zM149 579h1v2h-1zM150 581h1v2h-1zM151 583h1v2h-1zM152 585h1v2h-1zM153 586h1v1h-1zM154 587h3v1h-3zM157 586h1v1h-1zM158 584h1v2h-1zM159 583h1v1h-1zM160 582h1v1h-1zM161 581h2v1h-2zM163 580h1v1h-1zM164 579h2v1h-2zM166 580h3v1h-3zM169 579h1v1h-1zM170 577h1v2h-1zM171 576h1v1h-1zM172 575h1v1h-1zM173 574h1v1h-1zM174 573h1v1h-1zM175 572h1v1h-1zM176 571h9v1h-9zM185 572h1v1h-1zM186 573h1v1h-1zM187 574h1v1h-1zM188 575h1v1h-1zM189 576h1v2h-1zM190 578h1v2h-1zM191 580h1v2h-1zM192 582h1v1h-1zM193 581h1v1h-1zM194 579h1v2h-1zM195 578h1v1h-1zM196 577h7v1h-7zM203 576h2v1h-2zM205 575h2v1h-2zM207 574h1v1h-1zM208 573h5v1h-5zM213 572h2v1h-2zM215 571h1v1h-1zM216 570h1v1h-1zM217 571h1v2h-1zM218 573h1v1h-1zM219 574h1v2h-1zM220 576h6v1h-6zM226 575h2v1h-2zM228 574h3v1h-3zM231 573h6v1h-6zM237 572h2v1h-2zM239 571h1v1h-1zM240 570h1v1h-1zM241 571h1v1h-1zM242 572h1v1h-1zM243 573h1v1h-1zM244 574h3v1h-3zM247 573h2v1h-2zM249 574h1v1h-1zM250 575h2v1h-2zM252 576h1v1h-1zM253 577h1v1h-1zM254 578h1v1h-1zM255 579h1v1h-1zM256 580h1v1h-1zM257 581h2v1h-2zM259 582h2v1h-2zM261 581h1v1h-1zM262 580h1v1h-1zM263 579h1v1h-1zM264 578h1v1h-1zM265 577h2v1h-2zM267 576h1v1h-1zM268 575h2v1h-2zM270 576h3v1h-3zM273 577h1v1h-1zM274 578h2v1h-2zM276 578h1v2h-1zM277 576h1v2h-1zM278 573h1v3h-1zM279 571h1v2h-1zM280 569h1v2h-1zM281 570h1v2h-1zM282 572h1v2h-1zM283 574h1v2h-1zM284 576h1v1h-1zM285 575h1v1h-1zM286 574h1v1h-1zM287 573h1v1h-1zM288 572h5v1h-5zM293 573h2v1h-2zM295 574h2v1h-2zM297 575h2v1h-2zM299 576h6v1h-6zM305 577h2v1h-2zM307 578h4v1h-4zM311 577h4v1h-4zM315 576h3v1h-3zM318 575h2v1h-2zM320 574h3v1h-3zM323 573h7v1h-7zM330 572h2v1h-2zM332 571h1v1h-1zM333 572h1v2h-1zM334 574h1v1h-1zM335 575h1v2h-1zM336 577h1v2h-1zM337 579h1v4h-1zM338 583h1v3h-1zM339 586h1v4h-1zM340 590h1v2h-1zM341 592h2v1h-2zM343 593h7v1h-7zM350 592h2v1h-2zM352 591h1v1h-1zM353 590h1v1h-1zM354 588h1v2h-1zM355 587h1v1h-1zM356 586h1v1h-1zM357 585h2v1h-2zM359 584h1v1h-1zM360 583h1v1h-1zM361 582h2v1h-2zM363 581h1v1h-1zM364 580h1v1h-1zM365 579h1v1h-1zM366 578h1v1h-1zM367 577h1v1h-1zM368 576h6v1h-6zM374 575h2v1h-2zM376 574h1v1h-1zM377 575h1v1h-1zM378 576h2v1h-2zM380 577h1v1h-1zM381 578h1v2h-1zM382 580h1v2h-1zM383 582h1v2h-1zM384 584h1v1h-1zM385 585h1v2h-1zM386 587h1v1h-1zM387 588h1v2h-1zM388 590h1v1h-1zM389 591h2v1h-2zM391 592h4v1h-4zM395 591h4v1h-4zM399 590h1v1h-1zM400 589h1v2h-1zM401 586h1v3h-1zM402 584h1v2h-1zM403 581h1v3h-1zM404 579h1v2h-1zM405 579h4v1h-4zM409 578h1v1h-1zM410 577h1v1h-1zM411 576h1v1h-1zM412 575h1v1h-1zM413 574h2v1h-2zM415 573h1v1h-1zM416 572h3v1h-3zM419 571h2v1h-2zM421 572h1v2h-1zM422 574h1v1h-1zM423 575h1v2h-1zM424 577h4v1h-4zM428 577h1v2h-1zM429 579h1v2h-1zM430 581h1v2h-1zM431 583h1v2h-1zM432 585h1v2h-1zM433 586h1v1h-1zM434 587h4v1h-4zM438 586h2v1h-2zM440 585h5v1h-5zM445 586h1v1h-1zM446 587h2v1h-2zM448 588h1v1h-1zM449 587h1v1h-1zM450 586h1v1h-1zM451 585h1v1h-1zM452 584h1v1h-1zM453 583h1v1h-1zM454 581h1v2h-1zM455 580h1v1h-1zM456 579h1v1h-1zM457 580h2v1h-2zM459 581h2v1h-2zM461 579h1v2h-1zM462 577h1v2h-1zM463 575h1v2h-1zM464 574h2v1h-2zM466 573h2v1h-2zM468 572h6v1h-6zM474 571h2v1h-2zM476 570h11v1h-11zM487 569h4v1h-4zM491 568h1v1h-1zM492 568h1v2h-1zM493 570h1v4h-1zM494 574h1v4h-1zM495 578h1v4h-1zM496 582h1v3h-1zM497 585h1v2h-1zM498 587h1v2h-1zM499 589h1v2h-1zM500 591h1v2h-1zM501 591h1v1h-1zM502 590h1v1h-1zM503 589h1v1h-1zM504 588h2v1h-2zM506 589h3v1h-3zM509 588h1v1h-1zM510 586h1v2h-1zM511 585h1v1h-1zM512 584h2v1h-2zM514 585h3v1h-3zM517 586h1v1h-1zM518 587h2v1h-2zM520 588h1v1h-1zM521 589h1v1h-1zM522 590h2v1h-2zM524 591h3v1h-3zM527 590h4v1h-4zM531 589h2v1h-2zM533 590h1v2h-1zM534 592h1v1h-1zM535 593h1v2h-1zM536 595h1v1h-1zM537 594h1v1h-1zM538 593h1v1h-1zM539 592h1v1h-1zM540 591h2v1h-2zM542 592h3v1h-3zM545 593h1v1h-1zM546 594h1v2h-1zM547 596h1v1h-1zM548 597h1v1h-1zM549 596h1v1h-1zM550 595h1v1h-1zM551 594h1v1h-1zM552 593h1v1h-1zM553 594h1v1h-1zM554 595h1v1h-1zM555 596h1v1h-1zM556 597h1v1h-1zM557 595h1v2h-1zM558 593h1v2h-1zM559 591h1v2h-1zM560 590h2v1h-2zM562 589h2v1h-2zM564 588h2v1h-2zM566 589h3v1h-3zM569 590h2v1h-2zM571 591h3v1h-3zM574 592h3v1h-3zM577 591h2v1h-2zM579 590h1v1h-1zM580 589h1v1h-1zM581 590h1v2h-1zM582 592h1v2h-1zM583 594h1v2h-1zM584 596h1v1h-1zM585 597h2v1h-2zM587 598h2v1h-2zM589 599h1v1h-1zM590 600h1v1h-1zM591 601h1v1h-1zM592 602h6v1h-6zM598 603h3v1h-3zM601 602h2v1h-2zM603 601h1v1h-1zM604 600h1v1h-1zM605 599h1v1h-1zM606 598h1v1h-1zM607 597h1v1h-1zM608 596h1v1h-1zM609 595h1v1h-1zM610 594h1v1h-1zM611 593h1v1h-1zM612 592h1v1h-1zM613 593h1v1h-1zM614 594h1v2h-1zM615 596h1v1h-1zM616 597h1v1h-1zM617 595h1v2h-1zM618 593h1v2h-1zM619 591h1v2h-1zM620 590h1v1h-1zM621 591h2v1h-2zM623 592h2v1h-2zM625 591h1v1h-1zM626 589h1v2h-1zM627 588h1v1h-1zM628 587h3v1h-3zM631 586h2v1h-2zM633 587h2v1h-2zM635 588h2v1h-2zM637 589h2v1h-2zM639 590h2v1h-2zM641 591h1v1h-1zM642 592h2v1h-2zM644 593h1v1h-1zM645 594h1v1h-1zM646 595h1v1h-1zM647 596h1v1h-1zM648 597h2v1h-2zM650 598h3v1h-3zM653 596h1v2h-1zM654 594h1v2h-1zM655 592h1v2h-1zM656 590h1v2h-1zM657 590h4v1h-4zM661 589h2v1h-2zM663 588h1v1h-1zM664 587h1v1h-1zM665 588h2v1h-2zM667 589h2v1h-2zM669 588h1v1h-1zM670 587h1v1h-1zM671 586h1v1h-1zM672 585h2v1h-2zM674 586h3v1h-3zM677 585h2v1h-2zM679 584h1v1h-1zM680 583h5v1h-5zM685 584h2v1h-2zM687 585h2v1h-2zM689 583h1v2h-1zM690 581h1v2h-1zM691 579h1v2h-1zM692 578h1v1h-1zM693 577h2v1h-2zM695 576h1v1h-1zM696 575h1v2h-1zM697 577h1v3h-1zM698 580h1v2h-1zM699 582h1v3h-1zM700 585h1v2h-1zM701 587h1v2h-1zM702 589h1v1h-1zM703 590h1v2h-1zM704 592h2v1h-2zM706 593h3v1h-3zM709 592h1v1h-1zM710 590h1v2h-1zM711 589h1v1h-1zM712 588h1v1h-1zM713 586h1v2h-1zM714 585h1v1h-1zM715 583h1v2h-1zM716 582h1v1h-1zM717 581h1v1h-1zM718 579h1v2h-1zM719 578h1v1h-1zM720 577h2v1h-2zM722 576h2v1h-2zM724 575h2v1h-2zM726 574h2v1h-2zM728 573h3v1h-3zM731 572h10v1h-10zM741 573h2v1h-2zM743 574h2v1h-2zM745 573h2v1h-2zM747 572h1v1h-1zM748 571h1v1h-1zM749 570h1v1h-1zM750 569h1v1h-1zM751 568h1v1h-1zM752 567h3v1h-3zM755 566h7v1h-7zM762 567h3v1h-3zM765 566h2v1h-2zM767 565h1v1h-1zM768 564h1v1h-1zM769 565h1v1h-1zM770 566h2v1h-2zM772 567h1v2h-1zM773 569h1v2h-1zM774 571h1v3h-1zM775 574h1v2h-1zM776 576h1v2h-1zM777 577h1v1h-1zM778 578h7v1h-7zM785 579h1v1h-1zM786 580h2v1h-2zM788 581h3v1h-3zM791 580h1v1h-1zM792 580h1v2h-1zM793 582h1v3h-1zM794 585h1v3h-1zM795 588h1v3h-1zM796 591h1v2h-1zM797 593h1v1h-1zM798 594h2v1h-2zM800 595h1v1h-1zM801 596h1v1h-1zM802 597h2v1h-2zM804 598h1v1h-1zM805 599h1v1h-1zM806 600h1v2h-1zM807 602h1v1h-1zM808 603h1v1h-1zM809 604h1v1h-1zM810 605h2v1h-2zM812 606h5v1h-5zM817 607h1v1h-1zM818 608h2v1h-2zM820 609h1v1h-1zM821 610h1v1h-1zM822 611h1v2h-1zM823 613h1v1h-1zM824 614h5v1h-5zM829 615h2v1h-2zM831 616h2v1h-2zM833 614h1v2h-1zM834 613h1v1h-1zM835 611h1v2h-1zM836 610h1v1h-1zM837 608h1v2h-1zM838 606h1v2h-1zM839 604h1v2h-1zM840 600h1v4h-1zM841 596h1v4h-1zM842 592h1v4h-1zM843 588h1v4h-1zM844 585h1v3h-1zM845 585h6v1h-6zM851 584h2v1h-2zM853 585h1v2h-1zM854 587h1v1h-1zM855 588h1v2h-1zM856 589h1v2h-1zM857 585h1v4h-1zM858 582h1v3h-1zM859 578h1v4h-1zM860 576h1v2h-1zM861 575h1v1h-1zM862 574h1v1h-1zM863 573h1v1h-1zM864 572h1v1h-1zM865 571h1v1h-1zM866 569h1v2h-1zM867 568h1v1h-1zM868 567h3v1h-3zM871 566h4v1h-4zM875 565h2v1h-2zM877 566h1v1h-1zM878 567h1v2h-1zM879 569h1v1h-1zM880 570h2v1h-2zM882 571h3v1h-3zM885 572h1v1h-1zM886 573h2v1h-2zM888 574h1v2h-1zM889 576h1v2h-1zM890 578h1v2h-1zM891 580h1v2h-1zM892 582h1v2h-1zM893 584h1v1h-1zM894 585h1v2h-1zM895 587h1v1h-1zM896 588h2v1h-2zM898 589h3v1h-3zM901 588h1v1h-1zM902 586h1v2h-1zM903 585h1v1h-1zM904 584h2v1h-2zM906 583h2v1h-2zM908 582h2v1h-2zM910 581h2v1h-2zM912 580h1v1h-1zM913 579h2v1h-2zM915 578h1v1h-1zM916 577h1v1h-1zM917 576h2v1h-2zM919 575h1v1h-1zM920 574h2v1h-2zM922 575h7v1h-7zM929 576h1v1h-1zM930 577h1v1h-1zM931 578h1v1h-1zM932 579h5v1h-5zM937 580h1v1h-1zM938 581h1v1h-1zM939 582h1v1h-1zM940 583h2v1h-2zM942 584h5v1h-5zM947 583h4v1h-4zM951 582h2v1h-2zM953 583h1v1h-1zM954 584h1v2h-1zM955 586h1v1h-1zM956 587h1v1h-1zM957 586h1v1h-1zM958 585h1v1h-1zM959 584h1v1h-1zM960 583h1v1h-1zM961 582h1v1h-1zM962 581h1v1h-1zM963 580h1v1h-1zM964 579h1v1h-1zM965 580h1v1h-1zM966 581h2v1h-2zM968 582h3v1h-3zM971 581h7v1h-7zM978 580h2v1h-2zM980 579h2v1h-2zM982 578h2v1h-2zM984 577h3v1h-3zM987 576h3v1h-3zM990 575h2v1h-2zM992 574h7v1h-7zM999 573h2v1h-2zM1001 574h2v1h-2zM1003 575h5v1h-5zM1008 575h1v2h-1zM1009 577h1v2h-1zM1010 579h1v2h-1zM1011 581h1v2h-1zM1012 583h1v2h-1zM1013 585h1v2h-1zM1014 587h1v2h-1zM1015 589h1v2h-1zM1016 591h2v1h-2zM1018 590h2v1h-2zM1020 589h1v1h-1zM1021 588h1v1h-1zM1022 587h1v1h-1zM1023 586h1v1h-1zM1024 585h1v1h-1zM1025 583h1v2h-1zM1026 581h1v2h-1zM1027 579h1v2h-1zM1028 577h1v2h-1zM1029 577h1v1h-1zM1030 576h2v1h-2zM1032 575h5v1h-5zM1037 576h1v1h-1zM1038 577h1v1h-1zM1039 578h1v1h-1zM1040 579h2v1h-2zM1042 580h4v1h-4zM1046 579h2v1h-2zM1048 578h1v1h-1zM1049 579h1v1h-1zM1050 580h1v2h-1zM1051 582h1v1h-1zM1052 583h1v1h-1zM1053 582h2v1h-2zM1055 581h1v1h-1zM1056 580h2v1h-2zM1058 579h2v1h-2zM1060 578h9v1h-9zM1069 579h2v1h-2zM1071 580h3v1h-3zM1074 579h2v1h-2zM1076 578h1v2h-1zM1077 580h1v2h-1zM1078 582h1v3h-1zM1079 585h1v2h-1zM1080 587h1v2h-1zM1081 586h1v2h-1zM1082 584h1v2h-1zM1083 582h1v2h-1zM1084 580h1v2h-1zM1085 580h2v1h-2zM1087 579h4v1h-4zM1091 578h2v1h-2zM1093 579h2v1h-2zM1095 580h2v1h-2zM1097 581h1v1h-1zM1098 582h1v2h-1zM1099 584h1v1h-1zM1100 585h1v1h-1zM1101 584h2v1h-2zM1103 583h1v1h-1zM1104 582h1v1h-1zM1105 583h1v2h-1zM1106 585h1v1h-1zM1107 586h1v2h-1zM1108 588h1v1h-1zM1109 589h2v1h-2zM1111 590h7v1h-7zM1118 591h4v1h-4zM1122 590h2v1h-2zM1124 589h2v1h-2zM1126 590h3v1h-3zM1129 591h1v1h-1zM1130 592h1v2h-1zM1131 594h1v1h-1zM1132 594h1v2h-1zM1133 592h1v2h-1zM1134 590h1v2h-1zM1135 588h1v2h-1zM1136 586h1v2h-1zM1137 586h4v1h-4zM1141 587h1v2h-1zM1142 589h1v1h-1zM1143 590h1v2h-1zM1144 592h1v1h-1zM1145 593h1v2h-1zM1146 595h1v1h-1zM1147 596h1v2h-1zM1148 598h1v1h-1zM1149 599h1v1h-1zM1150 600h2v1h-2zM1152 601h1v1h-1zM1153 602h1v1h-1zM1154 603h2v1h-2zM1156 603h1v2h-1zM1157 599h1v4h-1zM1158 595h1v4h-1zM1159 591h1v4h-1zM1160 588h1v3h-1zM1161 588h1v1h-1zM1162 587h2v1h-2zM1164 586h1v1h-1zM1165 587h1v1h-1zM1166 588h2v1h-2zM1168 589h7v1h-7zM1175 588h4v1h-4zM1179 587h4v1h-4zM1183 586h3v1h-3zM1186 587h3v1h-3zM1189 588h1v1h-1zM1190 589h1v1h-1zM1191 590h1v1h-1zM1192 591h1v1h-1zM1193 592h2v1h-2zM1195 593h2v1h-2zM1197 592h1v1h-1zM1198 591h1v1h-1zM1199 590h1v1h-1zM1200 589h2v1h-2zM1202 588h2v1h-2zM1204 587h2v1h-2zM1206 588h7v1h-7zM1213 587h2v1h-2zM1215 586h1v1h-1zM1216 585h1v1h-1zM1217 586h1v1h-1zM1218 587h2v1h-2zM1220 588h1v1h-1zM1221 589h2v1h-2zM1223 590h11v1h-11zM1234 591h3v1h-3zM1237 592h1v1h-1zM1238 593h2v1h-2zM1240 594h2v1h-2zM1242 595h3v1h-3zM1245 596h1v1h-1zM1246 597h2v1h-2zM1248 598h1v1h-1zM1249 597h1v1h-1zM1250 596h1v1h-1zM1251 595h1v1h-1zM1252 594h2v1h-2zM1254 595h3v1h-3zM1257 594h1v1h-1zM1258 592h1v2h-1zM1259 591h1v1h-1zM1260 590h2v1h-2zM1262 591h4v1h-4zM1266 590h2v1h-2z" fill="#1e90ff"/>
</g>
<g clip-path="url(#cd)">
<rect x="4" y="661" width="1" height="3" fill="#c0c0c0"/>
<rect x="8" y="661" width="1" height="4" fill="#c0c0c0"/>
<rect x="12" y="661" width="1" height="5" fill="#c0c0c0"/>
<rect x="16" y="661" width="1" height="6" fill="#c0c0c0"/>
<rect x="20" y="661" width="1" height="5" fill="#c0c0c0"/>
<rect x="24" y="661" width="1" height="4" fill="#c0c0c0"/>
<rect x="28" y="661" width="1" height="4" fill="#c0c0c0"/>
<rect x="32" y="661" width="1" height="6" fill="#c0c0c0"/>
<rect x="36" y="661" width="1" height="7" fill="#c0c0c0"/>
<rect x="40" y="661" width="1" height="8" fill="#c0c0c0"/>
<rect x="44" y="661" width="1" height="8" fill="#c0c0c0"/>
<rect x="48" y="661" width="1" height="7" fill="#c0c0c0"/>
<rect x="52" y="661" width="1" height="5" fill="#c0c0c0"/>
<rect x="56" y="661" width="1" height="1" fill="#c0c0c0"/>
<rect x="60" y="658" width="1" height="4" fill="#c0c0c0"/>
<rect x="64" y="657" width="1" height="5" fill="#c0c0c0"/>
<rect x="68" y="657" width="1" height="5" fill="#c0c0c0"/>
<rect x="72" y="657" width="1" height="5" fill="#c0c0c0"/>
<rect x="76" y="655" width="1" height="7" fill="#c0c0c0"/>
<rect x="80" y="659" width="1" height="3" fill="#c0c0c0"/>
<rect x="84" y="661" width="1" height="1" fill="#c0c0c0"/>
<rect x="88" y="661" width="1" height="8" fill="#c0c0c0"/>
<rect x="92" y="661" width="1" height="10" fill="#c0c0c0"/>
<rect x="96" y="661" width="1" height="15" fill="#c0c0c0"/>
<rect x="100" y="661" width="1" height="16" fill="#c0c0c0"/>
<rect x="104" y="661" width="1" height="19" fill="#c0c0c0"/>
<rect x="108" y="661" width="1" height="21" fill="#c0c0c0"/>
<rect x="112" y="661" width="1" height="23" fill="#c0c0c0"/>
<rect x="116" y="661" width="1" height="22" fill="#c0c0c0"/>
<rect x="120" y="661" width="1" height="22" fill="#c0c0c0"/>
<rect x="124" y="661" width="1" height="20" fill="#c0c0c0"/>
<rect x="128" y="661" width="1" height="17" fill="#c0c0c0"/>
<rect x="132" y="661" width="1" height="16" fill="#c0c0c0"/>
<rect x="136" y="661" width="1" height="13" fill="#c0c0c0"/>
<rect x="140" y="661" width="1" height="12" fill="#c0c0c0"/>
<rect x="144" y="661" width="1" height="9" fill="#c0c0c0"/>
<rect x="148" y="661" width="1" height="7" fill="#c0c0c0"/>
<rect x="152" y="661" width="1" height="8" fill="#c0c0c0"/>
<rect x="156" y="661" width="1" height="9" fill="#c0c0c0"/>
<rect x="160" y="661" width="1" height="8" fill="#c0c0c0"/>
<rect x="164" y="661" width="1" height="6" fill="#c0c0c0"/>
<rect x="168" y="661" width="1" height="5" fill="#c0c0c0"/>
<rect x="172" y="661" width="1" height="2" fill="#c0c0c0"/>
<rect x="176" y="658" width="1" height="4" fill="#c0c0c0"/>
<rect x="180" y="654" width="1" height="8" fill="#c0c0c0"/>
<rect x="184" y="652" width="1" height="10" fill="#c0c0c0"/>
<rect x="188" y="651" width="1" height="11" fill="#c0c0c0"/>
<rect x="192" y="653" width="1" height="9" fill="#c0c0c0"/>
<rect x="196" y="652" width="1" height="10" fill="#c0c0c0"/>
<rect x="200" y="652" width="1" height="10" fill="#c0c0c0"/>
<rect x="204" y="652" width="1" height="10" fill="#c0c0c0"/>
<rect x="208" y="650" width="1" height="12" fill="#c0c0c0"/>
<rect x="212" y="649" width="1" height="13" fill="#c0c0c0"/>
<rect x="216" y="647" width="1" height="15" fill="#c0c0c0"/>
<rect x="220" y="648" width="1" height="14" fill="#c0c0c0"/>
<rect x="224" y="648" width="1" height="14" fill="#c0c0c0"/>
<rect x="228" y="648" width="1" height="14" fill="#c0c0c0"/>
<rect x="232" y="648" width="1" height="14" fill="#c0c0c0"/>
<rect x="236" y="647" width="1" height="15" fill="#c0c0c0"/>
<rect x="240" y="646" width="1" height="16" fill="#c0c0c0"/>
<rect x="244" y="646" width="1" height="16" fill="#c0c0c0"/>
<rect x="248" y="647" width="1" height="15" fill="#c0c0c0"/>
<rect x="252" y="647" width="1" height="15" fill="#c0c0c0"/>
<rect x="256" y="649" width="1" height="13" fill="#c0c0c0"/>
<rect x="260" y="652" width="1" height="10" fill="#c0c0c0"/>
<rect x="264" y="652" width="1" height="10" fill="#c0c0c0"/>
<rect x="268" y="652" width="1" height="10" fill="#c0c0c0"/>
<rect x="272" y="652" width="1" height="10" fill="#c0c0c0"/>
<rect x="276" y="653" width="1" height="9" fill="#c0c0c0"/>
<rect x="280" y="651" width="1" height="11" fill="#c0c0c0"/>
<rect x="284" y="651" width="1" height="11" fill="#c0c0c0"/>
<rect x="288" y="649" width="1" height="13" fill="#c0c0c0"/>
<rect x="292" y="649" width="1" height="13" fill="#c0c0c0"/>
<rect x="296" y="649" width="1" height="13" fill="#c0c0c0"/>
<rect x="300" y="649" width="1" height="13" fill="#c0c0c0"/>
<rect x="304" y="650" width="1" height="12" fill="#c0c0c0"/>
<rect x="308" y="651" width="1" height="11" fill="#c0c0c0"/>
<rect x="312" y="651" width="1" height="11" fill="#c0c0c0"/>
<rect x="316" y="652" width="1" height="10" fill="#c0c0c0"/>
<rect x="320" y="651" width="1" height="11" fill="#c0c0c0"/>
<rect x="324" y="651" width="1" height="11" fill="#c0c0c0"/>
<rect x="328" y="651" width="1" height="11" fill="#c0c0c0"/>
<rect x="332" y="651" width="1" height="11" fill="#c0c0c0"/>
<rect x="336" y="651" width="1" height="11" fill="#c0c0c0"/>
<rect x="340" y="656" width="1" height="6" fill="#c0c0c0"/>
<rect x="344" y="660" width="1" height="2" fill="#c0c0c0"/>
<rect x="348" y="661" width="1" height="3" fill="#c0c0c0"/>
<rect x="352" y="661" width="1" height="5" fill="#c0c0c0"/>
<rect x="356" y="661" width="1" height="6" fill="#c0c0c0"/>
<rect x="360" y="661" width="1" height="5" fill="#c0c0c0"/>
<rect x="364" y="661" width="1" height="4" fill="#c0c0c0"/>
<rect x="368" y="661" width="1" height="3" fill="#c0c0c0"/>
<rect x="372" y="661" width="1" height="1" fill="#c0c0c0"/>
<rect x="376" y="660" width="1" height="2" fill="#c0c0c0"/>
<rect x="380" y="659" width="1" height="3" fill="#c0c0c0"/>
<rect x="384" y="660" width="1" height="2" fill="#c0c0c0"/>
<rect x="388" y="661" width="1" height="3" fill="#c0c0c0"/>
<rect x="392" y="661" width="1" height="5" fill="#c0c0c0"/>
<rect x="396" y="661" width="1" height="7" fill="#c0c0c0"/>
<rect x="400" y="661" width="1" height="8" fill="#c0c0c0"/>
<rect x="404" y="661" width="1" height="6" fill="#c0c0c0"/>
<rect x="408" y="661" width="1" height="5" fill="#c0c0c0"/>
<rect x="412" y="661" width="1" height="3" fill="#c0c0c0"/>
<rect x="416" y="660" width="1" height="2" fill="#c0c0c0"/>
<rect x="420" y="658" width="1" height="4" fill="#c0c0c0"/>
<rect x="424" y="657" width="1" height="5" fill="#c0c0c0"/>
<rect x="428" y="657" width="1" height="5" fill="#c0c0c0"/>
<rect x="432" y="659" width="1" height="3" fill="#c0c0c0"/>
<rect x="436" y="661" width="1" height="1" fill="#c0c0c0"/>
<rect x="440" y="661" width="1" height="2" fill="#c0c0c0"/>
<rect x="444" y="661" width="1" height="3" fill="#c0c0c0"/>
<rect x="448" y="661" width="1" height="4" fill="#c0c0c0"/>
<rect x="452" y="661" width="1" height="4" fill="#c0c0c0"/>
<rect x="456" y="661" width="1" height="3" fill="#c0c0c0"/>
<rect x="460" y="661" width="1" height="3" fill="#c0c0c0"/>
<rect x="464" y="661" width="1" height="1" fill="#c0c0c0"/>
<rect x="468" y="658" width="1" height="4" fill="#c0c0c0"/>
<rect x="472" y="657" width="1" height="5" fill="#c0c0c0"/>
<rect x="476" y="655" width="1" height="7" fill="#c0c0c0"/>
<rect x="480" y="653" width="1" height="9" fill="#c0c0c0"/>
<rect x="484" y="652" width="1" height="10" fill="#c0c0c0"/>
<rect x="488" y="651" width="1" height="11" fill="#c0c0c0"/>
<rect x="492" y="650" width="1" height="12" fill="#c0c0c0"/>
<rect x="496" y="653" width="1" height="9" fill="#c0c0c0"/>
<rect x="500" y="657" width="1" height="5" fill="#c0c0c0"/>
<rect x="504" y="660" width="1" height="2" fill="#c0c0c0"/>
<rect x="508" y="661" width="1" height="2" fill="#c0c0c0"/>
<rect x="512" y="661" width="1" height="3" fill="#c0c0c0"/>
<rect x="516" y="661" width="1" height="4" fill="#c0c0c0"/>
<rect x="520" y="661" width="1" height="5" fill="#c0c0c0"/>
<rect x="524" y="661" width="1" height="7" fill="#c0c0c0"/>
<rect x="528" y="661" width="1" height="8" fill="#c0c0c0"/>
<rect x="532" y="661" width="1" height="9" fill="#c0c0c0"/>
<rect x="536" y="661" width="1" height="11" fill="#c0c0c0"/>
<rect x="540" y="661" width="1" height="12" fill="#c0c0c0"/>
<rect x="544" y="661" width="1" height="13" fill="#c0c0c0"/>
<rect x="548" y="661" width="1" height="15" fill="#c0c0c0"/>
<rect x="552" y="661" width="1" height="16" fill="#c0c0c0"/>
<rect x="556" y="661" width="1" height="18" fill="#c0c0c0"/>
<rect x="560" y="661" width="1" height="18" fill="#c0c0c0"/>
<rect x="564" y="661" width="1" height="17" fill="#c0c0c0"/>
<rect x="568" y="661" width="1" height="16" fill="#c0c0c0"/>
<rect x="572" y="661" width="1" height="16" fill="#c0c0c0"/>
<rect x="576" y="661" width="1" height="17" fill="#c0c0c0"/>
<rect x="580" y="661" width="1" height="16" fill="#c0c0c0"/>
<rect x="584" y="661" width="1" height="17" fill="#c0c0c0"/>
<rect x="588" y="661" width="1" height="19" fill="#c0c0c0"/>
<rect x="592" y="661" width="1" height="22" fill="#c0c0c0"/>
<rect x="596" y="661" width="1" height="25" fill="#c0c0c0"/>
<rect x="600" y="661" width="1" height="27" fill="#c0c0c0"/>
<rect x="604" y="661" width="1" height="28" fill="#c0c0c0"/>
<rect x="608" y="661" width="1" height="27" fill="#c0c0c0"/>
<rect x="612" y="661" width="1" height="26" fill="#c0c0c0"/>
<rect x="616" y="661" width="1" height="26" fill="#c0c0c0"/>
<rect x="620" y="661" width="1" height="25" fill="#c0c0c0"/>
<rect x="624" y="661" width="1" height="24" fill="#c0c0c0"/>
<rect x="628" y="661" width="1" height="22" fill="#c0c0c0"/>
<rect x="632" y="661" width="1" height="20" fill="#c0c0c0"/>
<rect x="636" y="661" width="1" height="19" fill="#c0c0c0"/>
<rect x="640" y="661" width="1" height="18" fill="#c0c0c0"/>
<rect x="644" y="661" width="1" height="18" fill="#c0c0c0"/>
<rect x="648" y="661" width="1" height="20" fill="#c0c0c0"/>
<rect x="652" y="661" width="1" height="21" fill="#c0c0c0"/>
<rect x="656" y="661" width="1" height="20" fill="#c0c0c0"/>
<rect x="660" y="661" width="1" height="19" fill="#c0c0c0"/>
<rect x="664" y="661" width="1" height="18" fill="#c0c0c0"/>
<rect x="668" y="661" width="1" height="17" fill="#c0c0c0"/>
<rect x="672" y="661" width="1" height="16" fill="#c0c0c0"/>
<rect x="676" y="661" width="1" height="14" fill="#c0c0c0"/>
<rect x="680" y="661" width="1" height="13" fill="#c0c0c0"/>
<rect x="684" y="661" width="1" height="11" fill="#c0c0c0"/>
<rect x="688" y="661" width="1" height="11" fill="#c0c0c0"/>
<rect x="692" y="661" width="1" height="8" fill="#c0c0c0"/>
<rect x="696" y="661" width="1" height="6" fill="#c0c0c0"/>
<rect x="700" y="661" width="1" height="6" fill="#c0c0c0"/>
<rect x="704" y="661" width="1" height="9" fill="#c0c0c0"/>
<rect x="708" y="661" width="1" height="11" fill="#c0c0c0"/>
<rect x="712" y="661" width="1" height="11" fill="#c0c0c0"/>
<rect x="716" y="661" width="1" height="10" fill="#c0c0c0"/>
<rect x="720" y="661" width="1" height="7" fill="#c0c0c0"/>
<rect x="724" y="661" width="1" height="4" fill="#c0c0c0"/>
<rect x="728" y="661" width="1" height="2" fill="#c0c0c0"/>
<rect x="732" y="659" width="1" height="3" fill="#c0c0c0"/>
<rect x="736" y="657" width="1" height="5" fill="#c0c0c0"/>
<rect x="740" y="656" width="1" height="6" fill="#c0c0c0"/>
<rect x="744" y="655" width="1" height="7" fill="#c0c0c0"/>
<rect x="748" y="653" width="1" height="9" fill="#c0c0c0"/>
<rect x="752" y="651" width="1" height="11" fill="#c0c0c0"/>
<rect x="756" y="649" width="1" height="13" fill="#c0c0c0"/>
<rect x="760" y="648" width="1" height="14" fill="#c0c0c0"/>
<rect x="764" y="647" width="1" height="15" fill="#c0c0c0"/>
<rect x="768" y="646" width="1" height="16" fill="#c0c0c0"/>
<rect x="772" y="646" width="1" height="16" fill="#c0c0c0"/>
<rect x="776" y="647" width="1" height="15" fill="#c0c0c0"/>
<rect x="780" y="649" width="1" height="13" fill="#c0c0c0"/>
<rect x="784" y="650" width="1" height="12" fill="#c0c0c0"/>
<rect x="788" y="652" width="1" height="10" fill="#c0c0c0"/>
<rect x="792" y="653" width="1" height="9" fill="#c0c0c0"/>
<rect x="796" y="657" width="1" height="5" fill="#c0c0c0"/>
<rect x="800" y="661" width="1" height="1" fill="#c0c0c0"/>
<rect x="804" y="661" width="1" height="5" fill="#c0c0c0"/>
<rect x="808" y="661" width="1" height="11" fill="#c0c0c0"/>
<rect x="812" y="661" width="1" height="17" fill="#c0c0c0"/>
<rect x="816" y="661" width="1" height="21" fill="#c0c0c0"/>
<rect x="820" y="661" width="1" height="26" fill="#c0c0c0"/>
<rect x="824" y="661" width="1" height="35" fill="#c0c0c0"/>
<rect x="828" y="661" width="1" height="43" fill="#c0c0c0"/>
<rect x="832" y="661" width="1" height="50" fill="#c0c0c0"/>
<rect x="836" y="661" width="1" height="55" fill="#c0c0c0"/>
<rect x="840" y="661" width="1" height="55" fill="#c0c0c0"/>
<rect x="844" y="661" width="1" height="49" fill="#c0c0c0"/>
<rect x="848" y="661" width="1" height="43" fill="#c0c0c0"/>
<rect x="852" y="661" width="1" height="38" fill="#c0c0c0"/>
<rect x="856" y="661" width="1" height="37" fill="#c0c0c0"/>
<rect x="860" y="661" width="1" height="28" fill="#c0c0c0"/>
<rect x="864" y="661" width="1" height="18" fill="#c0c0c0"/>
<rect x="868" y="661" width="1" height="5" fill="#c0c0c0"/>
<rect x="872" y="653" width="1" height="9" fill="#c0c0c0"/>
<rect x="876" y="644" width="1" height="18" fill="#c0c0c0"/>
<rect x="880" y="639" width="1" height="23" fill="#c0c0c0"/>
<rect x="884" y="636" width="1" height="26" fill="#c0c0c0"/>
<rect x="888" y="635" width="1" height="27" fill="#c0c0c0"/>
<rect x="892" y="641" width="1" height="21" fill="#c0c0c0"/>
<rect x="896" y="648" width="1" height="14" fill="#c0c0c0"/>
<rect x="900" y="656" width="1" height="6" fill="#c0c0c0"/>
<rect x="904" y="659" width="1" height="3" fill="#c0c0c0"/>
<rect x="908" y="660" width="1" height="2" fill="#c0c0c0"/>
<rect x="912" y="659" width="1" height="3" fill="#c0c0c0"/>
<rect x="916" y="656" width="1" height="6" fill="#c0c0c0"/>
<rect x="920" y="652" width="1" height="10" fill="#c0c0c0"/>
<rect x="924" y="650" width="1" height="12" fill="#c0c0c0"/>
<rect x="928" y="648" width="1" height="14" fill="#c0c0c0"/>
<rect x="932" y="649" width="1" height="13" fill="#c0c0c0"/>
<rect x="936" y="650" width="1" height="12" fill="#c0c0c0"/>
<rect x="940" y="652" width="1" height="10" fill="#c0c0c0"/>
<rect x="944" y="655" width="1" height="7" fill="#c0c0c0"/>
<rect x="948" y="657" width="1" height="5" fill="#c0c0c0"/>
<rect x="952" y="658" width="1" height="4" fill="#c0c0c0"/>
<rect x="956" y="661" width="1" height="1" fill="#c0c0c0"/>
<rect x="960" y="661" width="1" height="2" fill="#c0c0c0"/>
<rect x="964" y="661" width="1" height="1" fill="#c0c0c0"/>
<rect x="968" y="661" width="1" height="2" fill="#c0c0c0"/>
<rect x="972" y="661" width="1" height="1" fill="#c0c0c0"/>
<rect x="976" y="661" width="1" height="1" fill="#c0c0c0"/>
<rect x="980" y="661" width="1" height="1" fill="#c0c0c0"/>
<rect x="984" y="659" width="1" height="3" fill="#c0c0c0"/>
<rect x="988" y="657" width="1" height="5" fill="#c0c0c0"/>
<rect x="992" y="655" width="1" height="7" fill="#c0c0c0"/>
<rect x="996" y="653" width="1" height="9" fill="#c0c0c0"/>
<rect x="1000" y="652" width="1" height="10" fill="#c0c0c0"/>
<rect x="1004" y="651" width="1" height="11" fill="#c0c0c0"/>
<rect x="1008" y="651" width="1" height="11" fill="#c0c0c0"/>
<rect x="1012" y="654" width="1" height="8" fill="#c0c0c0"/>
<rect x="1016" y="659" width="1" height="3" fill="#c0c0c0"/>
<rect x="1020" y="661" width="1" height="2" fill="#c0c0c0"/>
<rect x="1024" y="661" width="1" height="4" fill="#c0c0c0"/>
<rect x="1028" y="661" width="1" height="2" fill="#c0c0c0"/>
<rect x="1032" y="659" width="1" height="3" fill="#c0c0c0"/>
<rect x="1036" y="657" width="1" height="5" fill="#c0c0c0"/>
<rect x="1040" y="657" width="1" height="5" fill="#c0c0c0"/>
<rect x="1044" y="657" width="1" height="5" fill="#c0c0c0"/>
<rect x="1048" y="657" width="1" height="5" fill="#c0c0c0"/>
<rect x="1052" y="658" width="1" height="4" fill="#c0c0c0"/>
<rect x="1056" y="658" width="1" height="4" fill="#c0c0c0"/>
<rect x="1060" y="658" width="1" height="4" fill="#c0c0c0"/>
<rect x="1064" y="657" width="1" height="5" fill="#c0c0c0"/>
<rect x="1068" y="657" width="1" height="5" fill="#c0c0c0"/>
<rect x="1072" y="657" width="1" height="5" fill="#c0c0c0"/>
<rect x="1076" y="657" width="1" height="5" fill="#c0c0c0"/>
<rect x="1080" y="660" width="1" height="2" fill="#c0c0c0"/>
<rect x="1084" y="660" width="1" height="2" fill="#c0c0c0"/>
<rect x="1088" y="659" width="1" height="3" fill="#c0c0c0"/>
<rect x="1092" y="659" width="1" height="3" fill="#c0c0c0"/>
<rect x="1096" y="659" width="1" height="3" fill="#c0c0c0"/>
<rect x="1100" y="661" width="1" height="1" fill="#c0c0c0"/>
<rect x="1104" y="661" width="1" height="1" fill="#c0c0c0"/>
<rect x="1108" y="661" width="1" height="4" fill="#c0c0c0"/>
<rect x="1112" y="661" width="1" height="6" fill="#c0c0c0"/>
<rect x="1116" y="661" width="1" height="9" fill="#c0c0c0"/>
<rect x="1120" y="661" width="1" height="10" fill="#c0c0c0"/>
<rect x="1124" y="661" width="1" height="11" fill="#c0c0c0"/>
<rect x="1128" y="661" width="1" height="12" fill="#c0c0c0"/>
<rect x="1132" y="661" width="1" height="15" fill="#c0c0c0"/>
<rect x="1136" y="661" width="1" height="14" fill="#c0c0c0"/>
<rect x="1140" y="661" width="1" height="14" fill="#c0c0c0"/>
<rect x="1144" y="661" width="1" height="15" fill="#c0c0c0"/>
<rect x="1148" y="661" width="1" height="20" fill="#c0c0c0"/>
<rect x="1152" y="661" width="1" height="25" fill="#c0c0c0"/>
<rect x="1156" y="661" width="1" height="31" fill="#c0c0c0"/>
<rect x="1160" y="661" width="1" height="30" fill="#c0c0c0"/>
<rect x="1164" y="661" width="1" height="28" fill="#c0c0c0"/>
<rect x="1168" y="661" width="1" height="27" fill="#c0c0c0"/>
<rect x="1172" y="661" width="1" height="27" fill="#c0c0c0"/>
<rect x="1176" y="661" width="1" height="26" fill="#c0c0c0"/>
<rect x="1180" y="661" width="1" height="25" fill="#c0c0c0"/>
<rect x="1184" y="661" width="1" height="23" fill="#c0c0c0"/>
<rect x="1188" y="661" width="1" height="22" fill="#c0c0c0"/>
<rect x="1192" y="661" width="1" height="22" fill="#c0c0c0"/>
<rect x="1196" y="661" width="1" height="24" fill="#c0c0c0"/>
<rect x="1200" y="661" width="1" height="24" fill="#c0c0c0"/>
<rect x="1204" y="661" width="1" height="22" fill="#c0c0c0"/>
<rect x="1208" y="661" width="1" height="21" fill="#c0c0c0"/>
<rect x="1212" y="661" width="1" height="21" fill="#c0c0c0"/>
<rect x="1216" y="661" width="1" height="19" fill="#c0c0c0"/>
<rect x="1220" y="661" width="1" height="18" fill="#c0c0c0"/>
<rect x="1224" y="661" width="1" height="19" fill="#c0c0c0"/>
<rect x="1228" y="661" width="1" height="18" fill="#c0c0c0"/>
<rect x="1232" y="661" width="1" height="18" fill="#c0c0c0"/>
<rect x="1236" y="661" width="1" height="18" fill="#c0c0c0"/>
<rect x="1240" y="661" width="1" height="19" fill="#c0c0c0"/>
<rect x="1244" y="661" width="1" height="20" fill="#c0c0c0"/>
<rect x="1248" y="661" width="1" height="21" fill="#c0c0c0"/>
<rect x="1252" y="661" width="1" height="22" fill="#c0c0c0"/>
<rect x="1256" y="661" width="1" height="22" fill="#c0c0c0"/>
<rect x="1260" y="661" width="1" height="21" fill="#c0c0c0"/>
<rect x="1264" y="661" width="1" height="20" fill="#c0c0c0"/>
<rect x="1268" y="661" width="1" height="19" fill="#c0c0c0"/>
<path d="M4 673h2v1h-2zM6 672h1v1h-1zM10 670h2v1h-2zM12 669h1v1h-1zM16 667h3v1h-3zM22 666h1v1h-1zM23 665h2v1h-2zM28 665h3v1h-3zM34 665h3v1h-3zM40 666h3v1h-3zM46 666h3v1h-3zM52 666h3v1h-3zM58 666h1v1h-1zM59 665h2v1h-2zM64 664h3v1h-3zM70 663h1v1h-1zM71 662h2v1h-2zM76 661h3v1h-3zM82 660h1v1h-1zM83 659h2v1h-2zM88 659h2v1h-2zM90 660h1v1h-1zM94 661h1v1h-1zM95 662h2v1h-2zM100 664h1v1h-1zM101 665h1v1h-1zM102 666h1v1h-1zM106 668h1v1h-1zM107 669h2v1h-2zM112 672h1v1h-1zM113 673h1v1h-1zM114 674h1v1h-1zM118 676h1v1h-1zM119 677h2v1h-2zM124 679h2v1h-2zM126 680h1v1h-1zM130 680h3v1h-3zM136 679h3v1h-3zM142 678h1v1h-1zM143 677h2v1h-2zM148 675h3v1h-3zM154 673h2v1h-2zM156 672h1v1h-1zM160 671h3v1h-3zM166 670h1v1h-1zM167 669h2v1h-2zM172 667h3v1h-3zM178 665h2v1h-2zM180 664h1v1h-1zM184 663h2v1h-2zM186 662h1v1h-1zM190 660h2v1h-2zM192 659h1v1h-1zM196 657h3v1h-3zM202 655h2v1h-2zM204 654h1v1h-1zM208 653h3v1h-3zM214 652h1v1h-1zM215 651h2v1h-2zM220 651h3v1h-3zM226 650h3v1h-3zM232 649h3v1h-3zM238 649h1v1h-1zM239 648h2v1h-2zM244 648h3v1h-3zM250 647h3v1h-3zM256 647h2v1h-2zM258 648h1v1h-1zM262 648h3v1h-3zM268 649h3v1h-3zM274 650h3v1h-3zM280 650h2v1h-2zM282 651h1v1h-1zM286 651h3v1h-3zM292 651h3v1h-3zM298 651h1v1h-1zM299 650h2v1h-2zM304 650h3v1h-3zM310 650h3v1h-3zM316 650h3v1h-3zM322 650h3v1h-3zM328 651h3v1h-3zM334 651h3v1h-3zM340 652h2v1h-2zM342 653h1v1h-1zM346 654h3v1h-3zM352 656h2v1h-2zM354 657h1v1h-1zM358 658h1v1h-1zM359 659h2v1h-2zM364 660h1v1h-1zM365 661h2v1h-2zM370 663h3v1h-3zM376 663h3v1h-3zM382 663h3v1h-3zM388 662h3v1h-3zM394 662h3v1h-3zM400 663h3v1h-3zM406 664h3v1h-3zM412 664h3v1h-3zM418 664h3v1h-3zM424 663h3v1h-3zM430 662h1v1h-1zM431 661h2v1h-2zM436 661h3v1h-3zM442 660h3v1h-3zM448 660h3v1h-3zM454 661h3v1h-3zM460 662h3v1h-3zM466 662h3v1h-3zM472 662h3v1h-3zM478 661h1v1h-1zM479 660h2v1h-2zM484 659h2v1h-2zM486 658h1v1h-1zM490 657h1v1h-1zM491 656h2v1h-2zM496 655h3v1h-3zM502 654h3v1h-3zM508 655h2v1h-2zM510 656h1v1h-1zM514 657h3v1h-3zM520 658h1v1h-1zM521 659h2v1h-2zM526 661h1v1h-1zM527 662h2v1h-2zM532 664h2v1h-2zM534 665h1v1h-1zM538 666h1v1h-1zM539 667h2v1h-2zM544 668h2v1h-2zM546 669h1v1h-1zM550 670h1v1h-1zM551 671h2v1h-2zM556 672h2v1h-2zM558 673h1v1h-1zM562 674h3v1h-3zM568 675h2v1h-2zM570 676h1v1h-1zM574 676h3v1h-3zM580 676h2v1h-2zM582 677h1v1h-1zM586 677h3v1h-3zM592 678h3v1h-3zM598 679h1v1h-1zM599 680h2v1h-2zM604 681h2v1h-2zM606 682h1v1h-1zM610 683h3v1h-3zM616 684h2v1h-2zM618 685h1v1h-1zM622 686h3v1h-3zM628 685h3v1h-3zM634 685h1v1h-1zM635 684h2v1h-2zM640 683h3v1h-3zM646 682h1v1h-1zM647 681h2v1h-2zM652 681h3v1h-3zM658 680h3v1h-3zM664 679h3v1h-3zM670 679h3v1h-3zM676 678h3v1h-3zM682 678h1v1h-1zM683 677h2v1h-2zM688 676h2v1h-2zM690 675h1v1h-1zM694 674h1v1h-1zM695 673h2v1h-2zM700 671h3v1h-3zM706 670h3v1h-3zM712 670h3v1h-3zM718 669h3v1h-3zM724 668h3v1h-3zM730 667h3v1h-3zM736 666h2v1h-2zM738 665h1v1h-1zM742 663h2v1h-2zM744 662h1v1h-1zM748 660h2v1h-2zM750 659h1v1h-1zM754 657h2v1h-2zM756 656h1v1h-1zM760 655h2v1h-2zM762 654h1v1h-1zM766 652h2v1h-2zM768 651h1v1h-1zM772 650h3v1h-3zM778 649h3v1h-3zM784 648h3v1h-3zM790 649h3v1h-3zM796 650h2v1h-2zM798 651h1v1h-1zM802 652h1v1h-1zM803 653h2v1h-2zM808 656h1v1h-1zM809 657h1v1h-1zM810 658h1v1h-1zM814 661h1v1h-1zM815 662h1v1h-1zM816 663h1v1h-1zM820 667h1v1h-1zM821 668h1v1h-1zM822 669h1v1h-1zM825 673h1v1h-1zM826 674h1v2h-1zM829 679h1v1h-1zM830 680h1v1h-1zM831 681h1v1h-1zM833 685h1v1h-1zM834 686h1v1h-1zM835 687h1v1h-1zM837 691h1v1h-1zM838 692h1v1h-1zM839 693h1v1h-1zM842 697h1v1h-1zM843 698h1v1h-1zM844 699h1v1h-1zM848 702h1v1h-1zM849 703h2v1h-2zM854 705h3v1h-3zM860 704h1v1h-1zM861 703h2v1h-2zM866 698h1v2h-1zM867 697h1v1h-1zM870 693h1v1h-1zM871 691h1v2h-1zM874 686h1v2h-1zM875 685h1v1h-1zM877 680h1v2h-1zM878 679h1v1h-1zM880 674h1v2h-1zM881 673h1v1h-1zM883 668h1v2h-1zM884 667h1v1h-1zM886 662h1v2h-1zM887 661h1v1h-1zM889 657h1v1h-1zM890 656h1v1h-1zM891 655h1v1h-1zM894 651h1v1h-1zM895 650h1v1h-1zM896 649h1v1h-1zM900 646h3v1h-3zM906 646h3v1h-3zM912 648h1v1h-1zM913 649h2v1h-2zM918 651h1v1h-1zM919 652h2v1h-2zM924 654h3v1h-3zM930 654h3v1h-3zM936 654h3v1h-3zM942 653h1v1h-1zM943 652h2v1h-2zM948 652h3v1h-3zM954 653h3v1h-3zM960 655h2v1h-2zM962 656h1v1h-1zM966 657h1v1h-1zM967 658h2v1h-2zM972 659h2v1h-2zM974 660h1v1h-1zM978 661h3v1h-3zM984 661h3v1h-3zM990 661h1v1h-1zM991 660h2v1h-2zM996 659h3v1h-3zM1002 658h1v1h-1zM1003 657h2v1h-2zM1008 656h3v1h-3zM1014 655h1v1h-1zM1015 654h2v1h-2zM1020 655h2v1h-2zM1022 656h1v1h-1zM1026 656h3v1h-3zM1032 657h2v1h-2zM1034 658h1v1h-1zM1038 658h3v1h-3zM1044 659h3v1h-3zM1050 659h3v1h-3zM1056 659h3v1h-3zM1062 658h3v1h-3zM1068 657h3v1h-3zM1074 657h3v1h-3zM1080 658h3v1h-3zM1086 658h3v1h-3zM1092 658h3v1h-3zM1098 659h3v1h-3zM1104 659h2v1h-2zM1106 660h1v1h-1zM1110 661h3v1h-3zM1116 662h2v1h-2zM1118 663h1v1h-1zM1122 664h3v1h-3zM1128 666h1v1h-1zM1129 667h2v1h-2zM1134 669h3v1h-3zM1140 671h2v1h-2zM1142 672h1v1h-1zM1146 673h3v1h-3zM1152 675h1v1h-1zM1153 676h2v1h-2zM1158 679h2v1h-2zM1160 680h1v1h-1zM1164 681h1v1h-1zM1165 682h2v1h-2zM1170 684h3v1h-3zM1176 686h2v1h-2zM1178 687h1v1h-1zM1182 687h3v1h-3zM1188 687h3v1h-3zM1194 686h1v1h-1zM1195 685h2v1h-2zM1200 685h3v1h-3zM1206 684h1v1h-1zM1207 683h2v1h-2zM1212 683h3v1h-3zM1218 682h3v1h-3zM1224 681h3v1h-3zM1230 681h1v1h-1zM1231 680h2v1h-2zM1236 679h3v1h-3zM1242 679h3v1h-3zM1248 679h3v1h-3zM1254 680h3v1h-3zM1260 680h3v1h-3zM1266 680h2v1h-2z" fill="#ff0000"/>
</g>
<rect x="0" y="742" width="1638" height="28" fill="#f0f0f0"/>
<rect x="0" y="764" width="1638" height="2" fill="#fcfcfc"/>
<rect x="0" y="768" width="1638" height="1" fill="#a0a0a0"/>
<rect x="0" y="744" width="110" height="1" fill="#000"/>
<rect x="208" y="744" width="1430" height="1" fill="#000"/>
<rect x="0" y="745" width="1" height="18" fill="#606060"/>
<rect x="110" y="742" width="98" height="20" fill="#fff"/>
<rect x="109" y="744" width="1" height="19" fill="#000"/>
<rect x="208" y="744" width="1" height="19" fill="#000"/>
<rect x="109" y="762" width="100" height="1" fill="#000"/>
<text transform="translate(16.8,759) scale(1.0003,1)" font-size="12" fill="#6d6d6d" stroke="#6d6d6d" stroke-width="0" text-anchor="start">EURUSD,Daily</text>
<text transform="translate(118.3,759) scale(1.0194,1)" font-size="12" fill="#000" stroke="#000" stroke-width="0.1" text-anchor="start">USDCHF,Daily</text>
<text transform="translate(219.3,759) scale(1.0313,1)" font-size="12" fill="#6d6d6d" stroke="#6d6d6d" stroke-width="0" text-anchor="start">AUDUSD,Daily</text>
<text transform="translate(323.7,759) scale(1.0139,1)" font-size="12" fill="#6d6d6d" stroke="#6d6d6d" stroke-width="0" text-anchor="start">USDCAD,Daily</text>
<text transform="translate(426.3,759) scale(1.0352,1)" font-size="12" fill="#6d6d6d" stroke="#6d6d6d" stroke-width="0" text-anchor="start">USDCNH,Daily</text>
<text transform="translate(531.3,759) scale(1.0188,1)" font-size="12" fill="#6d6d6d" stroke="#6d6d6d" stroke-width="0" text-anchor="start">EURUSD,M15</text>
<text transform="translate(631.3,759) scale(1.0238,1)" font-size="12" fill="#6d6d6d" stroke="#6d6d6d" stroke-width="0" text-anchor="start">GBPUSD,M30</text>
<text transform="translate(730.8,759) scale(1.0335,1)" font-size="12" fill="#6d6d6d" stroke="#6d6d6d" stroke-width="0" text-anchor="start">XAUUSD,Daily</text>
<text transform="translate(835.3,759) scale(1.0433,1)" font-size="12" fill="#6d6d6d" stroke="#6d6d6d" stroke-width="0" text-anchor="start">HK50,H1</text>
<text transform="translate(907.3,759) scale(1.0440,1)" font-size="12" fill="#6d6d6d" stroke="#6d6d6d" stroke-width="0" text-anchor="start">UK100,H1</text>
<text transform="translate(987.3,759) scale(1.0331,1)" font-size="12" fill="#6d6d6d" stroke="#6d6d6d" stroke-width="0" text-anchor="start">UK100,H1</text>
<text transform="translate(1067.3,759) scale(1.0030,1)" font-size="12" fill="#6d6d6d" stroke="#6d6d6d" stroke-width="0" text-anchor="start">GER30,H1</text>
<text transform="translate(1146.3,759) scale(0.9853,1)" font-size="12" fill="#6d6d6d" stroke="#6d6d6d" stroke-width="0" text-anchor="start">FRA40,H1</text>
<text transform="translate(1222.3,759) scale(1.0466,1)" font-size="12" fill="#6d6d6d" stroke="#6d6d6d" stroke-width="0" text-anchor="start">USOil,Daily</text>
<text transform="translate(1306.3,759) scale(0.9958,1)" font-size="12" fill="#6d6d6d" stroke="#6d6d6d" stroke-width="0" text-anchor="start">USDJPY,H1</text>
<text transform="translate(1391.3,759) scale(1.0642,1)" font-size="12" fill="#6d6d6d" stroke="#6d6d6d" stroke-width="0" text-anchor="start">DJ30,M15</text>
<rect x="313" y="747" width="1" height="14" fill="#505050"/>
<rect x="417" y="747" width="1" height="14" fill="#505050"/>
<rect x="521" y="747" width="1" height="14" fill="#505050"/>
<rect x="621" y="747" width="1" height="14" fill="#505050"/>
<rect x="721" y="747" width="1" height="14" fill="#505050"/>
<rect x="825" y="747" width="1" height="14" fill="#505050"/>
<rect x="897" y="747" width="1" height="14" fill="#505050"/>
<rect x="977" y="747" width="1" height="14" fill="#505050"/>
<rect x="1057" y="747" width="1" height="14" fill="#505050"/>
<rect x="1137" y="747" width="1" height="14" fill="#505050"/>
<rect x="1213" y="747" width="1" height="14" fill="#505050"/>
<rect x="1297" y="747" width="1" height="14" fill="#505050"/>
<rect x="1381" y="747" width="1" height="14" fill="#505050"/>
<rect x="1461" y="747" width="1" height="14" fill="#505050"/>
<path d="M1611.6,753.2 L1615.4,750 L1615.4,756.4 Z" fill="#a0a0a0" shape-rendering="geometricPrecision"/><path d="M1634.8,753.2 L1631,750 L1631,756.4 Z" fill="#a0a0a0" shape-rendering="geometricPrecision"/>
</svg></body></html>
